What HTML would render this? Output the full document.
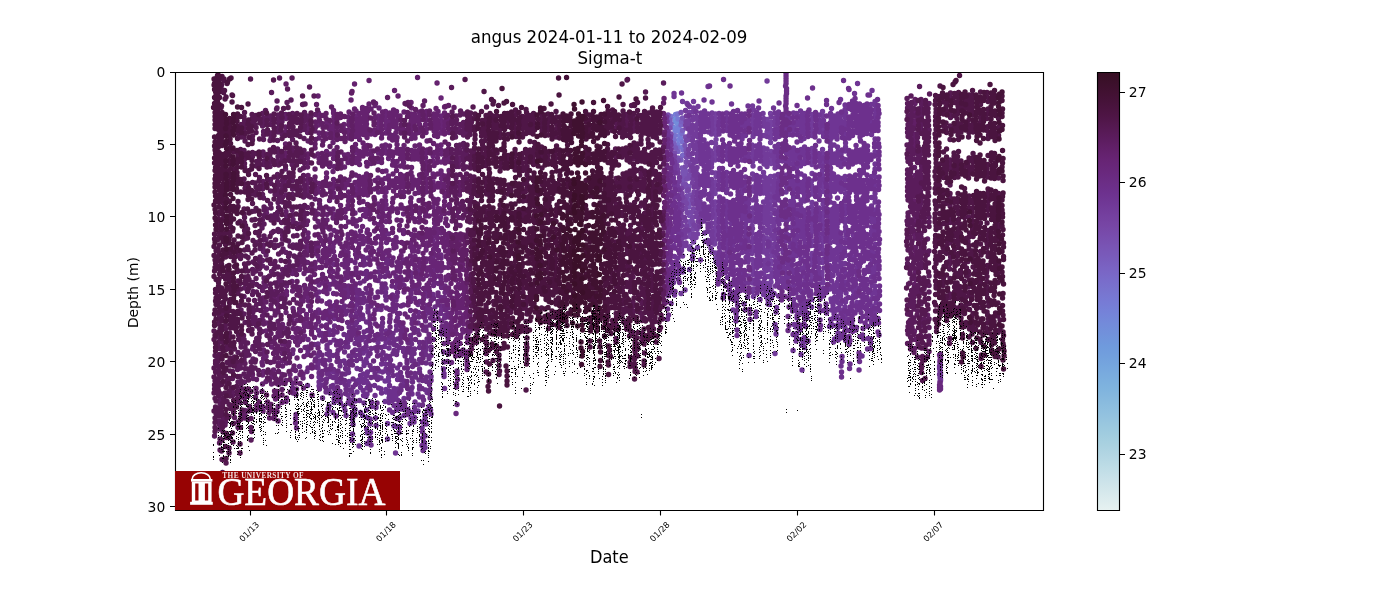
<!DOCTYPE html>
<html><head><meta charset="utf-8"><title>angus Sigma-t</title>
<style>html,body{margin:0;padding:0;background:#fff;overflow:hidden}svg{display:block}</style></head>
<body>
<svg width="1400" height="600" viewBox="0 0 1400 600">
<defs>
 <linearGradient id="cb" x1="0" y1="0" x2="0" y2="1"><stop offset="0.000" stop-color="#360e22"/><stop offset="0.025" stop-color="#3c102b"/><stop offset="0.050" stop-color="#421133"/><stop offset="0.075" stop-color="#48133c"/><stop offset="0.100" stop-color="#4e1545"/><stop offset="0.125" stop-color="#551951"/><stop offset="0.150" stop-color="#5b1c5d"/><stop offset="0.175" stop-color="#622069"/><stop offset="0.200" stop-color="#672474"/><stop offset="0.225" stop-color="#69287c"/><stop offset="0.250" stop-color="#6b2d85"/><stop offset="0.275" stop-color="#6d318e"/><stop offset="0.300" stop-color="#703896"/><stop offset="0.325" stop-color="#743f9e"/><stop offset="0.350" stop-color="#7746a5"/><stop offset="0.375" stop-color="#784dad"/><stop offset="0.400" stop-color="#7955b5"/><stop offset="0.425" stop-color="#795cbc"/><stop offset="0.450" stop-color="#7a64c4"/><stop offset="0.475" stop-color="#796cca"/><stop offset="0.500" stop-color="#7874cf"/><stop offset="0.525" stop-color="#777bd5"/><stop offset="0.550" stop-color="#7583d9"/><stop offset="0.575" stop-color="#738bda"/><stop offset="0.600" stop-color="#7192db"/><stop offset="0.625" stop-color="#6f9add"/><stop offset="0.650" stop-color="#72a0dd"/><stop offset="0.675" stop-color="#76a7de"/><stop offset="0.700" stop-color="#7baede"/><stop offset="0.725" stop-color="#80b4de"/><stop offset="0.750" stop-color="#88bade"/><stop offset="0.775" stop-color="#90c0df"/><stop offset="0.800" stop-color="#98c6df"/><stop offset="0.825" stop-color="#a0ccdf"/><stop offset="0.850" stop-color="#a9d1e0"/><stop offset="0.875" stop-color="#b3d6e3"/><stop offset="0.900" stop-color="#bddce6"/><stop offset="0.925" stop-color="#c8e1e9"/><stop offset="0.950" stop-color="#d2e6eb"/><stop offset="0.975" stop-color="#dcecee"/><stop offset="1.000" stop-color="#e6f1f1"/></linearGradient>
 <clipPath id="ax"><rect x="175" y="72" width="868" height="438"/></clipPath>
</defs>
<rect width="1400" height="600" fill="#fff"/>
<rect x="1097" y="72" width="22" height="438" fill="url(#cb)"/>
<g clip-path="url(#ax)">
<g fill="none" stroke-width="5.3" stroke-linecap="round">
<path stroke="#7193dc" d="M675 119h.1"/>
<path stroke="#738dda" d="M675 122h.1m2.4 1.5h.1"/>
<path stroke="#7487d9" d="M674 127.5h.1"/>
<path stroke="#7681d8" d="M675.5 114.5h.1m-0.6 16h.1m3.4 -3h.1m-0.1 3.5h.1m0.9 4.5h.1m-1.1 4.5h.1"/>
<path stroke="#777ad4" d="M678 144.5h.1m-0.1 -25.5h.1m2.9 19.5h.1"/>
<path stroke="#7874cf" d="M671 116.5h.1m6.4 -2.5h.1m-2.6 21.5h.1m6.9 12h.1"/>
<path stroke="#796dcb" d="M674 140h.1m3.4 7.5h.1m4.4 -14h.1m0.4 8.5h.1m0.4 8h.1"/>
<path stroke="#7a67c6" d="M681 125h.1m1.4 30.5h.1"/>
<path stroke="#7a60c0" d="M671 124h.1m2.9 20h.1m7.4 -22.5h.1m-3.6 30h.1m4.4 -21h.1"/>
<path stroke="#795aba" d="M670 120h.1m5.4 28h.1m5.4 12h.1"/>
<path stroke="#7954b3" d="M678 158h.1m3.9 10h.1m0.4 -50h.1m2.4 27.5h.1m0.9 26h.1m-3.1 0.5h.1m2.9 3h.1m-3.1 0.5h.1m-0.1 5h.1m2.9 -30.5h.1m2.9 36.5h.1m-0.1 13.5h.1m-0.1 3.5h.1m-0.1 3.5h.1"/>
<path stroke="#784dad" d="M668 115h.1m1.9 13h.1m0.9 6h.1m3.4 19h.1m3.4 7.5h.1m2.9 -48h.1m4.4 24.5h.1m-0.1 29.5h.1m-0.1 18h.1m-2.6 0.5h.1m3.4 -32h.1m-0.1 4.5h.1m-0.6 4.5h.1m3.4 13h.1m-0.1 3h.1m-3.1 1h.1m-0.1 8.5h.1m0.4 3.5h.1m-0.6 5.5h.1m2.9 19h.1m0.4 6h.1m-0.6 3.5h.1m0.9 -30h.1m-0.6 17.5h.1"/>
<path stroke="#7747a6" d="M686 128h.1m-1.1 72h.1m-2.1 2h.1m2.4 6.5h.1m3.4 -69h.1m-2.6 1h.1m2.9 16h.1m-0.6 6h.1m-0.6 27.5h.1m-2.1 13.5h.1m0.4 9h.1m2.4 19.5h.1m0.4 14.5h.1m0.4 -76h.1m1.9 30h.1m0.9 8.5h.1m-1.1 3h.1m-0.1 5.5h.1m-0.1 4.5h.1m0.4 7h.1m-3.1 7.5h.1"/>
<path stroke="#7541a0" d="M674.5 156.5h.1m2.4 9h.1m0.4 4h.1m3.9 19h.1m0.4 5h.1m3.9 -72h.1m-0.6 3.5h.1m-3.1 72.5h.1m2.9 23.5h.1m3.9 -114.5h.1m-0.1 6h.1m-0.6 8h.1m0.4 4h.1m0.4 8h.1m-1.1 3h.1m-0.6 14h.1m-0.1 5h.1m-2.1 71.5h.1m2.9 23h.1m-0.1 20.5h.1m0.9 -124h.1m-0.1 20h.1m2.4 13.5h.1m-0.6 4h.1m0.4 14h.1m0.4 7h.1m-0.1 30h.1m-1.1 4.5h.1m0.9 3.5h.1m0.4 -50h.1m2.4 21h.1m-0.1 3.5h.1m-2.6 8.5h.1m2.4 1.5h.1m0.4 2.5h.1m0.4 5h.1m-1.6 3.5h.1m1.4 10h.1m17.9 -133.5h.1m-0.6 4.5h.1m0.4 4h.1m-0.1 5h.1m-0.1 3.5h.1m0.4 4h.1m-0.1 4.5h.1m-0.6 4h.1m-0.1 4.5h.1m-0.1 4.5h.1m-0.6 3.5h.1m-0.1 4h.1m0.4 13h.1m0.4 3.5h.1m-1.1 5.5h.1m-0.1 3.5h.1m0.4 4.5h.1m-0.6 3.5h.1m-0.1 8.5h.1m0.4 5h.1m-0.6 3.5h.1m0.4 4h.1m0.4 4.5h.1m-0.6 4h.1m-0.6 5h.1m0.9 4h.1m-1.1 3.5h.1m-0.1 5h.1m-0.6 3.5h.1m0.9 9h.1m0.4 4h.1m-0.1 5h.1m50.9 -142.5h.1m-0.1 12.5h.1m-0.6 106h.1m0.4 45.5h.1m3.4 -170h.1m0.4 8.5h.1m-0.6 3.5h.1m0.4 4.5h.1m-0.1 4.5h.1m-0.6 3.5h.1m-0.1 4.5h.1m0.4 9h.1m-0.6 8.5h.1m0.4 3.5h.1m-0.6 13h.1m0.4 8.5h.1m-0.6 8h.1m-0.1 8h.1m-0.1 5h.1m-0.1 8h.1m0.4 13h.1m-0.6 3.5h.1m0.4 8.5h.1m-0.1 16.5h.1m-0.1 5.5h.1m-0.1 3h.1m-0.6 5.5h.1m0.4 12.5h.1m-0.1 12h.1"/>
<path stroke="#723b9a" d="M387.5 423.5h.1m-0.1 15.5h.1m282.9 -302h.1m0.4 8h.1m3.4 16.5h.1m-0.1 4h.1m-0.1 3h.1m2.9 17h.1m0.4 -12.5h.1m1.4 4.5h.1m-0.6 4h.1m2.9 24h.1m-0.6 5h.1m-0.6 3.5h.1m0.4 3.5h.1m-0.6 5h.1m0.4 3h.1m-0.1 5.5h.1m-0.1 17h.1m-0.1 2.5h.1m-0.6 43h.1m1.4 -192h.1m2.9 9h.1m-1.1 107h.1m0.4 12.5h.1m-0.1 4.5h.1m0.4 2.5h.1m-3.6 1h.1m3.9 5h.1m-3.6 0h.1m2.9 2.5h.1m-3.1 10.5h.1m0.4 13h.1m-0.6 3h.1m2.4 18h.1m1.9 -186.5h.1m-0.6 12.5h.1m1.9 13h.1m-0.1 101h.1m4.9 -128.5h.1m-0.1 6.5h.1m-0.1 3.5h.1m-0.6 5.5h.1m-0.6 3h.1m-0.1 5.5h.1m-0.6 2.5h.1m-0.1 4.5h.1m0.9 4.5h.1m-0.6 3.5h.1m0.9 5h.1m0.4 3.5h.1m-1.6 4.5h.1m-0.1 6h.1m-0.1 7.5h.1m0.4 4h.1m0.9 4h.1m-1.6 75h.1m-0.1 6h.1m-0.1 3h.1m5.4 -152.5h.1m-1.6 10h.1m0.4 3h.1m-0.1 5h.1m-0.6 4.5h.1m-0.1 4.5h.1m1.4 3.5h.1m-1.1 5.5h.1m-0.1 3.5h.1m-0.6 3h.1m0.4 5h.1m0.4 3.5h.1m-1.1 4h.1m-2.6 1h.1m2.9 5h.1m-1.1 3h.1m1.4 4h.1m-0.6 5h.1m-0.1 3.5h.1m-3.1 4h.1m3.9 0.5h.1m-0.6 5h.1m-0.6 3h.1m-0.6 4.5h.1m0.4 4.5h.1m0.9 4h.1m-0.1 13h.1m1.9 -20h.1m0.4 3.5h.1m-0.1 5h.1m-0.6 8h.1m-0.1 8.5h.1m0.4 33.5h.1m11.4 -147h.1m-0.6 4.5h.1m-0.1 3.5h.1m-0.1 4h.1m0.4 4.5h.1m-0.6 4.5h.1m-0.1 8.5h.1m-0.6 8.5h.1m0.4 3.5h.1m0.4 5h.1m-0.6 4h.1m-0.1 3.5h.1m0.4 5.5h.1m-0.6 7h.1m-0.1 5h.1m0.4 4.5h.1m-0.6 3.5h.1m-0.1 4.5h.1m-0.1 4.5h.1m0.4 3.5h.1m-0.6 5h.1m0.9 4.5h.1m-1.1 3h.1m-0.1 5.5h.1m-0.6 3.5h.1m0.9 5h.1m-0.6 3.5h.1m0.9 3.5h.1m-1.6 4h.1m-0.1 6h.1m0.9 3.5h.1m40.4 -146h.1m-0.6 4h.1m1.4 0h.1m-1.1 5.5h.1m-0.1 4.5h.1m-0.1 4.5h.1m-0.1 3.5h.1m0.4 5h.1m-0.1 3.5h.1m-1.1 8.5h.1m-0.1 4h.1m0.4 4.5h.1m-0.1 4h.1m-0.1 4h.1m0.4 4.5h.1m-0.6 8h.1m0.4 5h.1m-0.6 8h.1m-0.1 4h.1m-0.1 9h.1m0.4 8h.1m-0.6 5h.1m-0.6 4h.1m0.4 3.5h.1m-0.6 5h.1m0.4 3h.1m-0.6 4.5h.1m0.9 5h.1m-1.1 4h.1m0.9 5h.1m-1.1 2.5h.1m-0.1 4h.1m-0.1 6h.1m1.4 4h.1m-0.6 4h.1m-0.6 3h.1m0.4 4h.1m-1.1 5.5h.1m0.4 3h.1m0.9 6h.1m-1.1 2.5h.1m0.9 5h.1m9.4 -183h.1m0.4 5h.1m-0.1 4h.1m0.4 3.5h.1m-0.6 9.5h.1m-0.1 12.5h.1m-0.6 3.5h.1m0.9 4.5h.1m-0.6 4h.1m0.4 4h.1m-0.6 8.5h.1m0.4 4h.1m-0.1 5h.1m-0.1 3.5h.1m-0.6 4h.1m-0.1 4h.1m-0.1 9h.1m0.4 5h.1m-0.6 3h.1m-0.6 4.5h.1m0.4 4.5h.1m0.4 3.5h.1m-1.1 5.5h.1m0.9 3h.1m-1.1 5.5h.1m0.4 3h.1m-0.1 4.5h.1m-0.6 4.5h.1m0.4 3.5h.1m0.4 8.5h.1m-0.1 4.5h.1m0.4 4h.1m-1.1 5h.1m-0.1 8.5h.1m0.4 4h.1m-0.6 8h.1m3.4 -213.5h.1m0.4 43.5h.1m-0.1 4h.1m-0.6 8h.1m-0.1 12.5h.1m0.4 5h.1m-0.6 4h.1m0.4 4h.1m-0.6 4.5h.1m0.4 12h.1m-0.1 4.5h.1m-0.1 3.5h.1m-0.6 4.5h.1m0.4 4h.1m-0.6 4h.1m0.9 5h.1m-1.1 4h.1m0.4 4.5h.1m-0.1 4.5h.1m-0.1 3h.1m-0.1 4.5h.1m0.4 5h.1m-0.6 3.5h.1m-0.6 17.5h.1m-0.1 4h.1m0.4 4.5h.1m0.4 9h.1m-1.6 2.5h.1m1.4 6h.1m1.9 9h.1m-2.6 1.5h.1m-0.6 4h.1m-0.6 6h.1m1.4 3h.1m1.4 4.5h.1m1.4 -187.5h.1m0.4 38.5h.1m-0.1 25.5h.1m-0.6 8h.1m0.4 8h.1m-0.1 12h.1m-0.6 9.5h.1m0.4 3h.1m-0.1 13.5h.1m-1.6 8.5h.1m0.9 4h.1m0.4 3.5h.1m0.4 22.5h.1m-1.1 4h.1m-0.1 12h.1m0.4 8.5h.1m3.4 -180h.1m-0.1 3.5h.1m-0.1 4h.1m-0.6 30h.1m-0.1 4.5h.1m0.4 4h.1m-0.1 4h.1m-0.6 8h.1m0.4 4.5h.1m-0.6 4.5h.1m0.4 3.5h.1m-0.6 4h.1m-0.1 9h.1m-0.1 9h.1m0.9 8.5h.1m-0.6 3h.1m-1.1 4h.1m0.4 9h.1m-0.1 4h.1m0.4 5h.1m-0.6 3h.1m0.4 9.5h.1m-1.1 37h.1m0.9 60h.1m36.9 -239h.1m-0.1 4.5h.1m-0.6 4h.1m-0.1 3.5h.1m0.4 4.5h.1m-0.1 4.5h.1m-0.1 13h.1m-0.1 3h.1m-0.6 4.5h.1m0.4 5h.1m-0.1 3.5h.1m-0.1 9h.1m-0.6 7.5h.1m-0.1 4.5h.1m0.9 4h.1m-0.6 4.5h.1m-0.1 8.5h.1m-0.6 4.5h.1m0.9 4.5h.1m-0.1 3h.1m-0.6 8.5h.1m-0.1 4.5h.1m-0.1 4h.1m-0.1 9.5h.1m-0.6 4.5h.1m0.4 8h.1m-0.6 4h.1m0.4 3h.1m-0.6 4.5h.1m-0.1 8.5h.1m0.4 4h.1m-0.1 22h.1m-0.6 7.5h.1m10.9 -195.5h.1m-0.1 4h.1m0.4 13.5h.1m-0.6 20.5h.1m0.4 4.5h.1m-0.1 8.5h.1m-0.6 8h.1m-0.1 5h.1m-0.1 7.5h.1m0.4 4h.1m-0.1 4.5h.1m-0.1 12.5h.1m-0.1 9h.1m-0.6 4.5h.1m0.4 4h.1m-0.1 3.5h.1m-0.1 4h.1m-1.1 8.5h.1m0.9 4.5h.1m-1.1 4.5h.1m0.9 3.5h.1m-0.1 9.5h.1m-0.6 3h.1m-0.6 10h.1m-0.1 3h.1m0.4 4.5h.1m0.4 3h.1m0.4 27.5h.1"/>
<path stroke="#6f3594" d="M357 392h.1m-2.1 17.5h.1m-0.1 5.5h.1m3.9 31h.1m3.4 -30.5h.1m3.9 -5.5h.1m0.4 7.5h.1m-0.6 11.5h.1m0.9 4h.1m-0.6 10.5h.1m17.9 -62.5h.1m0.9 8.5h.1m-0.1 2.5h.1m-1.1 9.5h.1m3.4 -24h.1m-0.1 3.5h.1m6.9 15.5h.1m-1.6 29.5h.1m2.4 0.5h.1m-1.1 26.5h.1m8.4 -43.5h.1m-0.1 6h.1m6.9 2.5h.1m-1.1 5.5h.1m7.9 -12.5h.1m0.9 -6h.1m5.9 31h.1m-0.6 7.5h.1m0.4 4h.1m241.4 -330.5h.1m0.4 4.5h.1m0.9 10h.1m-0.1 4h.1m2.4 6h.1m0.4 8h.1m2.4 28.5h.1m-0.1 59h.1m0.4 8.5h.1m-0.6 21h.1m-0.1 7.5h.1m-0.1 3.5h.1m-0.1 5h.1m0.4 -189h.1m-0.1 3h.1m0.9 76.5h.1m-0.6 12.5h.1m3.4 10h.1m-4.1 2h.1m3.9 10h.1m-0.1 25h.1m-3.6 24h.1m3.4 1.5h.1m-0.6 5h.1m0.4 11h.1m-3.6 21h.1m6.9 -202h.1m-2.6 97h.1m-0.1 9h.1m-0.1 5h.1m1.9 30.5h.1m6.9 -129.5h.1m0.9 10.5h.1m6.9 -4h.1m4.9 1.5h.1m-0.1 4h.1m-0.6 4.5h.1m0.4 4h.1m-0.6 4h.1m-0.1 5h.1m-0.1 3.5h.1m-0.6 4.5h.1m0.4 4h.1m-0.1 4h.1m0.4 4.5h.1m-0.6 4h.1m0.4 4.5h.1m-0.6 13h.1m-0.1 4h.1m-0.1 4h.1m0.4 8h.1m-0.6 4.5h.1m0.4 17h.1m-0.1 8h.1m2.9 -122h.1m0.4 11h.1m-0.1 4.5h.1m-0.1 3.5h.1m-0.6 4.5h.1m-0.1 4.5h.1m0.4 3.5h.1m-0.6 8.5h.1m0.4 5h.1m-0.6 3.5h.1m0.4 5h.1m0.4 4.5h.1m-1.1 3h.1m-0.1 5h.1m-0.1 4.5h.1m-0.1 4h.1m0.4 4.5h.1m-0.1 3h.1m-0.1 4.5h.1m-0.1 4h.1m-0.6 4.5h.1m-0.1 9h.1m-0.1 3.5h.1m0.4 4.5h.1m-0.6 4h.1m-0.1 5h.1m0.4 12h.1m0.4 8.5h.1m2.9 -155h.1m-0.1 27.5h.1m-0.6 5.5h.1m0.4 3.5h.1m-0.1 3.5h.1m0.4 5.5h.1m-1.1 12h.1m0.4 4.5h.1m-0.1 4h.1m0.4 4h.1m-0.6 5h.1m-0.1 3.5h.1m0.4 4h.1m-1.1 5h.1m-0.1 4h.1m0.9 3.5h.1m-0.1 4h.1m-0.1 9h.1m-0.1 4.5h.1m-0.1 8h.1m-0.6 3.5h.1m0.4 5h.1m-0.6 3.5h.1m-0.1 5.5h.1m-0.1 3h.1m-0.6 4h.1m0.4 9h.1m0.9 3.5h.1m2.9 -142h.1m6.9 11.5h.1m0.4 4.5h.1m-0.6 4h.1m-0.6 3.5h.1m0.4 4.5h.1m-0.1 4h.1m-0.1 13.5h.1m-0.6 3.5h.1m0.4 3.5h.1m-0.1 5h.1m0.4 9h.1m-0.6 4h.1m-0.1 4h.1m0.4 4h.1m-1.1 4.5h.1m0.4 4h.1m0.4 8h.1m-0.6 4.5h.1m-0.1 4.5h.1m-0.6 4.5h.1m0.9 4h.1m-0.1 4h.1m-0.6 3.5h.1m-0.6 5h.1m0.9 3.5h.1m-1.1 4.5h.1m0.4 4h.1m0.9 5h.1m-0.6 3.5h.1m-0.1 4.5h.1m-1.1 3.5h.1m0.4 4.5h.1m-0.6 4.5h.1m7.9 -151.5h.1m-0.1 5h.1m0.4 3h.1m-0.6 5h.1m0.4 4.5h.1m-0.6 16h.1m0.4 4.5h.1m-0.6 4.5h.1m0.4 3.5h.1m-0.6 13.5h.1m-0.6 3.5h.1m0.9 4.5h.1m-1.1 4h.1m0.9 4.5h.1m-0.6 3.5h.1m-0.1 9h.1m-0.1 4h.1m0.4 4h.1m-0.6 4h.1m0.4 4.5h.1m-1.1 4.5h.1m-0.1 4.5h.1m-0.1 4.5h.1m1.4 7.5h.1m-0.6 4h.1m-0.6 4.5h.1m0.4 4h.1m-0.6 5h.1m-0.1 4.5h.1m-0.1 8.5h.1m0.9 8h.1m3.9 -173.5h.1m-0.6 119.5h.1m1.9 14.5h.1m-0.1 7.5h.1m-0.1 22h.1m-2.1 18h.1m1.9 24.5h.1m8.4 -184h.1m0.4 9h.1m-0.1 4h.1m-0.1 21h.1m-0.1 29h.1m-0.6 4.5h.1m-0.1 21h.1m0.4 4.5h.1m-0.6 25.5h.1m0.4 42.5h.1m3.4 -164.5h.1m-0.1 4.5h.1m-0.1 8.5h.1m-0.1 21h.1m-0.1 20.5h.1m-0.6 9h.1m-0.1 16.5h.1m0.4 12.5h.1m-0.1 4h.1m-0.1 5h.1m-0.1 3.5h.1m-0.1 5h.1m-0.6 4h.1m0.9 15.5h.1m-4.1 0.5h.1m3.9 5h.1m-3.6 15.5h.1m2.9 10h.1m-1.6 21h.1m3.9 -198h.1m0.4 14h.1m-0.1 4h.1m-0.1 30h.1m-0.6 4h.1m0.4 41h.1m-0.1 4.5h.1m-0.1 4.5h.1m-0.1 4h.1m0.4 8.5h.1m-1.1 17h.1m0.4 3.5h.1m0.4 9h.1m-1.1 4.5h.1m-0.1 3.5h.1m-0.1 4h.1m0.4 14h.1m-0.6 7h.1m-0.6 14h.1m1.4 58.5h.1m7.4 -243h.1m-0.6 4h.1m-0.1 5h.1m-0.1 3.5h.1m-0.6 4h.1m0.4 4.5h.1m-0.1 12.5h.1m0.4 5h.1m-0.1 4h.1m-0.6 3.5h.1m0.4 17h.1m-0.1 5h.1m-0.6 3.5h.1m-0.1 4h.1m-0.1 5h.1m-0.6 4h.1m0.4 3.5h.1m0.4 4.5h.1m-0.6 4h.1m0.4 4.5h.1m-0.1 4h.1m-1.1 4h.1m0.9 13h.1m-0.6 4.5h.1m0.4 3.5h.1m0.4 4h.1m-1.1 4.5h.1m0.9 4h.1m-0.6 5h.1m-0.1 4h.1m0.4 3.5h.1m-0.6 5.5h.1m0.4 4h.1m-1.1 2.5h.1m-0.6 4.5h.1m0.4 28h.1m-0.1 4.5h.1m2.9 -215.5h.1m-0.6 7h.1m0.9 6.5h.1m-0.1 3.5h.1m-0.1 4.5h.1m0.4 4h.1m-0.1 5h.1m-0.1 3.5h.1m-0.1 4h.1m-0.6 5h.1m0.4 3.5h.1m-0.1 4h.1m0.4 4.5h.1m-0.1 5h.1m-0.6 7.5h.1m-0.1 8.5h.1m-0.6 4h.1m0.4 5h.1m-0.1 3.5h.1m-0.1 4h.1m0.4 13.5h.1m-0.6 3.5h.1m-0.1 5h.1m-0.1 3.5h.1m-0.1 4.5h.1m0.4 4h.1m-1.1 5h.1m0.9 3h.1m-1.1 4.5h.1m0.4 5h.1m-0.1 3.5h.1m-0.6 4h.1m-0.1 4.5h.1m0.9 3.5h.1m-0.1 5h.1m0.4 7.5h.1m-1.6 4h.1m-0.6 5.5h.1m0.4 3h.1m0.9 4.5h.1m-0.6 9.5h.1m4.4 -21h.1m-0.1 11h.1m3.4 -47.5h.1m-0.1 4h.1m-0.1 17.5h.1m-0.1 40.5h.1m5.4 -196h.1m0.4 144h.1m0.9 -139h.1m2.9 6.5h.1m-3.1 10.5h.1m-0.1 4h.1m-0.1 5h.1m-0.1 7.5h.1m-0.1 5h.1m2.9 23h.1m-0.1 17h.1m-3.1 5.5h.1m-0.1 8h.1m-0.1 8.5h.1m2.9 7h.1m-3.1 10h.1m2.4 16h.1m-0.1 8h.1m-2.1 6.5h.1m-0.1 4.5h.1m-0.6 2.5h.1m0.4 4h.1m-0.1 4.5h.1m1.9 3.5h.1m-0.1 3.5h.1m-2.1 2.5h.1m0.9 21.5h.1m-0.6 4.5h.1m-1.1 12.5h.1m0.9 4.5h.1m-0.1 5h.1m2.4 -222h.1m-0.6 4h.1m-0.1 7.5h.1m0.4 5h.1m-0.1 4h.1m0.4 4h.1m-0.6 8h.1m-0.6 4h.1m0.4 4.5h.1m-0.1 4h.1m-0.6 4.5h.1m0.4 5h.1m0.4 12h.1m-0.6 4.5h.1m-0.1 4h.1m-0.6 8.5h.1m0.4 4.5h.1m0.4 8h.1m-0.6 4h.1m-0.1 4.5h.1m0.4 7.5h.1m-0.6 5h.1m-0.1 9h.1m-0.6 11.5h.1m0.4 13h.1m-0.1 8h.1m0.4 4.5h.1m-0.6 21h.1m3.9 -135h.1m-0.1 58.5h.1m0.4 30h.1m-0.1 3h.1m-0.6 13.5h.1m-0.1 2.5h.1m2.4 3.5h.1m-2.6 6.5h.1m-0.1 3.5h.1m0.4 4.5h.1m2.9 -170.5h.1m3.4 2h.1m-3.6 10.5h.1m3.4 6h.1m-0.1 17h.1m-3.1 2h.1m3.4 1.5h.1m-0.1 4.5h.1m-3.6 3h.1m2.9 1h.1m-3.1 11.5h.1m2.9 10h.1m-3.1 2h.1m-0.6 5h.1m3.9 9.5h.1m-0.1 4.5h.1m-4.1 2.5h.1m3.4 10.5h.1m-3.1 2.5h.1m2.9 6h.1m-3.1 6.5h.1m-0.6 7h.1m0.4 21.5h.1m3.4 1.5h.1m-3.1 3.5h.1m-0.6 7.5h.1m2.9 2h.1m-3.6 2.5h.1m0.9 4h.1m2.4 3h.1m-3.1 1h.1m6.9 -174.5h.1m-3.6 13h.1m3.4 0.5h.1m-0.1 4h.1m-0.1 17.5h.1m-0.1 4h.1m-0.1 4h.1m-0.1 3.5h.1m-0.1 5h.1m-3.6 16h.1m3.4 1h.1m-0.1 3.5h.1m-0.1 4.5h.1m-0.1 8h.1m-0.1 4.5h.1m-0.1 4h.1m0.4 20.5h.1m-4.1 9h.1m3.9 4h.1m-3.6 3.5h.1m-0.6 4h.1m3.4 5.5h.1m-3.6 3.5h.1m3.9 0h.1m-3.6 12.5h.1m2.9 1.5h.1m-0.1 2.5h.1m0.4 13h.1m-4.1 8.5h.1m3.4 5.5h.1m-0.6 51h.1m3.4 -237h.1m-0.1 8.5h.1m-0.1 3h.1m0.4 30.5h.1m-0.6 3.5h.1m-0.1 9h.1m-0.1 17h.1m-0.1 25h.1m-0.1 8h.1m-0.1 4.5h.1m-0.1 4.5h.1m-0.1 8.5h.1m-0.1 3.5h.1m-0.6 5h.1m0.4 2.5h.1m-0.1 9h.1m-0.6 37.5h.1m-2.1 10.5h.1m1.9 7h.1m-2.1 14h.1m1.9 2.5h.1m0.4 6.5h.1m-0.1 4h.1m-0.6 3.5h.1m4.4 -230h.1m0.4 5h.1m-0.1 4h.1m-0.6 3.5h.1m0.4 4.5h.1m-0.1 4.5h.1m-0.1 8h.1m-0.1 9h.1m-0.1 4h.1m-0.6 8h.1m-0.1 4.5h.1m0.4 8h.1m-0.1 8.5h.1m-0.6 4.5h.1m0.4 4.5h.1m-0.1 8.5h.1m-0.6 4h.1m0.4 4h.1m-0.6 4h.1m-0.1 9h.1m0.4 4.5h.1m-0.6 3.5h.1m0.4 4.5h.1m0.4 3.5h.1m-0.6 22h.1m0.4 9h.1m-0.6 2h.1m-0.1 14h.1m0.4 7.5h.1m-1.1 5.5h.1m0.9 7h.1m-0.1 4.5h.1m-1.1 4.5h.1m-0.1 12.5h.1m0.9 14h.1m-0.1 5.5h.1m-0.6 9.5h.1m0.9 15.5h.1m1.9 -256.5h.1m0.9 3.5h.1m-0.6 4.5h.1m-0.1 4h.1m-0.1 4h.1m-0.1 4h.1m-0.6 5h.1m0.4 8.5h.1m-0.1 4h.1m-0.1 4.5h.1m0.4 3.5h.1m-0.6 4.5h.1m-0.1 12.5h.1m-0.1 4.5h.1m-0.1 4h.1m-0.1 4.5h.1m-0.6 4.5h.1m0.4 3h.1m-0.1 4.5h.1m-0.6 9.5h.1m0.4 3.5h.1m-0.1 3.5h.1m-0.6 4h.1m0.4 4.5h.1m-0.1 4.5h.1m-0.1 5h.1m-0.1 4h.1m0.4 4.5h.1m-0.1 11.5h.1m-0.1 8.5h.1m-0.1 4h.1m-1.1 8.5h.1m0.9 5h.1m-0.1 7.5h.1m-0.6 12.5h.1m0.9 5h.1m-0.6 4h.1m-0.6 8h.1m0.9 8h.1m-1.1 11h.1m-0.1 4.5h.1m-0.1 5.5h.1m6.4 -111.5h.1m-0.1 45.5h.1m-0.6 9.5h.1m0.4 3.5h.1m7.9 -179.5h.1m0.4 5h.1m-0.6 3.5h.1m-0.1 4.5h.1m0.4 4h.1m-0.6 9h.1m-0.1 12.5h.1m-0.1 3.5h.1m0.4 4h.1m-0.1 5h.1m-0.6 12.5h.1m0.4 4.5h.1m-0.6 3.5h.1m-0.1 4.5h.1m0.4 4h.1m-0.6 13h.1m-0.1 4.5h.1m0.4 3.5h.1m-0.6 4h.1m-0.6 13.5h.1m-0.1 4h.1m0.4 3h.1m0.4 5.5h.1m-1.1 3h.1m-0.1 9.5h.1m0.4 4h.1m-0.6 5h.1m-0.1 3.5h.1m-0.1 4.5h.1m0.4 8.5h.1m-0.1 11h.1m4.4 -174.5h.1m-0.6 4.5h.1m0.4 8.5h.1m-0.1 3h.1m-0.1 21.5h.1m-0.6 8.5h.1m0.4 13h.1m-0.1 21h.1m-0.1 8h.1m-0.6 25h.1m0.4 20.5h.1m0.4 14h.1m-0.6 20.5h.1m-0.1 3.5h.1m-0.1 4h.1m6.4 -153.5h.1m-0.1 21.5h.1m-0.1 16h.1m-0.1 17h.1m-0.1 5h.1m-0.1 8h.1m-0.6 29h.1m0.4 4h.1m-0.1 13h.1m-0.1 3.5h.1m-0.6 6h.1m-0.1 8h.1m-0.1 4h.1m0.4 11.5h.1m-0.6 37.5h.1m1.9 -218h.1m-1.1 5h.1m3.4 2.5h.1m-3.1 2h.1m-0.6 4.5h.1m3.4 2h.1m-3.6 1.5h.1m-0.1 4h.1m3.4 2.5h.1m-3.6 2h.1m2.9 2h.1m-2.6 2h.1m2.9 6.5h.1m-3.6 2h.1m-0.1 3.5h.1m-0.1 5h.1m2.9 3h.1m-3.1 1.5h.1m-0.1 8h.1m0.4 4.5h.1m2.4 1.5h.1m-3.6 2.5h.1m0.4 8h.1m3.4 2.5h.1m-3.6 2h.1m-0.6 3.5h.1m3.4 16h.1m-0.1 3.5h.1m-3.6 2.5h.1m-0.1 3.5h.1m0.9 4h.1m-0.1 5h.1m-0.6 4h.1m-0.1 4.5h.1m-0.6 13h.1m0.9 4h.1m2.4 2.5h.1m-0.1 12.5h.1m-2.6 1h.1m1.9 7h.1m-1.6 5.5h.1m-1.6 5.5h.1m0.9 12.5h.1m0.4 3h.1m1.4 3.5h.1m0.4 3h.1m-2.1 1.5h.1m2.4 4h.1m-1.1 4.5h.1m-2.6 1h.1m0.4 4h.1m1.9 2h.1m0.4 16.5h.1m3.9 -223.5h.1m-3.1 1h.1m2.4 3h.1m0.4 4h.1m-3.6 1.5h.1m3.9 2.5h.1m-1.1 4.5h.1m-0.1 4h.1m0.4 8h.1m-3.1 7h.1m2.9 2h.1m-0.1 4.5h.1m-3.6 2h.1m3.9 14.5h.1m-4.1 1.5h.1m3.4 2.5h.1m-3.1 2.5h.1m3.4 5.5h.1m-3.6 2.5h.1m2.9 6.5h.1m-3.6 5.5h.1m3.4 3h.1m-0.1 4.5h.1m0.4 4h.1m-3.6 1.5h.1m-0.1 4.5h.1m-0.1 4.5h.1m2.4 1.5h.1m-2.6 2.5h.1m-0.6 4.5h.1m3.9 2h.1m-3.6 1.5h.1m3.4 2h.1m-3.6 2h.1m2.9 7h.1m-3.1 2h.1m2.9 2.5h.1m-3.1 6h.1m3.4 1h.1m-3.6 3h.1m2.9 3h.1m-0.6 4h.1m-2.6 1h.1m2.4 11.5h.1m-2.6 2.5h.1m-0.1 3.5h.1m-0.1 3.5h.1m-0.1 5.5h.1m2.9 0.5h.1m-3.1 3h.1m2.4 9h.1m-0.1 6.5h.1m0.4 2.5h.1m0.4 8.5h.1m-1.1 9.5h.1m-2.6 2h.1m3.4 1h.1m2.4 -240.5h.1m-2.6 14.5h.1m2.9 1.5h.1m-0.1 5h.1m-0.1 3.5h.1m-3.1 27.5h.1m2.9 2.5h.1m-0.1 8h.1m-3.1 2.5h.1m2.9 2h.1m-0.1 12h.1m-3.1 7h.1m2.9 1.5h.1m-0.1 4.5h.1m-3.1 28h.1m-0.1 3.5h.1m-0.1 8.5h.1m2.9 6h.1m-3.1 6h.1m2.4 3h.1m0.4 4h.1m-2.6 7h.1m2.4 5.5h.1m-0.1 3.5h.1m-2.6 7.5h.1m-0.1 4.5h.1m-0.1 7h.1m0.4 5h.1m1.4 2h.1m-2.1 2h.1m1.9 1.5h.1m-2.6 6.5h.1m2.4 1.5h.1m-2.1 4h.1m2.4 2h.1m-3.1 14.5h.1m2.9 1h.1m-3.1 7.5h.1m2.4 1h.1m-0.1 4h.1m4.4 -233h.1m-0.1 4.5h.1m0.4 3.5h.1m-0.1 4.5h.1m-0.6 5h.1m0.4 3.5h.1m-0.1 8.5h.1m-0.1 8.5h.1m-0.1 4h.1m-0.6 4h.1m-0.1 8.5h.1m-0.1 17h.1m0.4 3.5h.1m-0.6 8.5h.1m0.4 5h.1m-0.1 4.5h.1m-0.1 8h.1m-0.1 4.5h.1m-0.1 3h.1m-0.6 5.5h.1m-0.1 3.5h.1m0.4 4.5h.1m-0.1 4h.1m0.4 4h.1m-0.1 4.5h.1m-1.1 8.5h.1m0.4 7.5h.1m-0.6 8h.1m-0.1 9h.1m-0.1 9.5h.1m0.9 3h.1m-0.1 14h.1m-0.6 3h.1m-0.6 5h.1m-0.1 8.5h.1m0.9 3.5h.1m-1.1 9h.1m0.4 12.5h.1m0.4 -47.5h.1m7.4 -57.5h.1m-0.1 22h.1m-0.1 33.5h.1m-0.1 4.5h.1m3.9 -212h.1m-3.1 10h.1m2.4 174h.1m-0.1 8h.1m-0.1 12.5h.1m-0.1 14.5h.1m-0.1 7h.1m14.9 -219h.1m-1.1 14h.1m-0.1 17.5h.1m0.4 12.5h.1m-0.1 42h.1m-0.1 21h.1m-0.1 8.5h.1m-0.1 12h.1m-0.1 3.5h.1m-0.1 5.5h.1m-0.1 4.5h.1m-0.1 3h.1m-0.1 17h.1m0.4 9h.1m-0.6 7h.1m0.4 4.5h.1m-0.6 5h.1m0.4 8.5h.1m-0.1 8h.1m-0.1 5h.1m-0.1 7.5h.1m-0.6 12.5h.1m-0.1 4h.1m3.4 -221h.1m0.4 4h.1m-0.6 4.5h.1m0.4 4h.1m-0.6 3.5h.1m-0.1 21.5h.1m-0.1 13h.1m-0.1 12h.1m-0.1 5h.1m0.4 8h.1m-0.6 8.5h.1m-0.1 8h.1m-0.1 4.5h.1m-0.1 4h.1m-0.1 8h.1m-0.1 9h.1m0.4 4.5h.1m-0.6 7.5h.1m0.4 13.5h.1m-0.6 8.5h.1m0.9 12h.1m-0.6 3.5h.1m-0.6 5h.1m-0.1 12.5h.1m-0.1 4.5h.1m0.9 3h.1m-0.1 9.5h.1m-1.1 8.5h.1m64.9 51h.1m-0.1 1h.1m0.4 1.5h.1m-1.1 1h.1m-0.1 1h.1m-0.1 1.5h.1m0.4 1h.1m-0.1 1.5h.1m-0.1 1h.1m0.4 1h.1m-1.1 1.5h.1m0.9 1h.1m-0.6 1.5h.1m-0.1 1h.1m0.4 1h.1m-0.1 1.5h.1m-0.6 1h.1"/>
<path stroke="#6d308d" d="M319 377h.1m-0.1 5h.1m-0.1 4h.1m10.4 -14h.1m-0.6 18.5h.1m0.9 2.5h.1m-1.1 13h.1m-1.1 3h.1m0.4 0.5h.1m-1.6 4.5h.1m5.9 -28.5h.1m0.9 17h.1m-1.1 10h.1m0.9 -40.5h.1m0.4 17h.1m-0.1 5h.1m-0.6 4.5h.1m5.9 0h.1m0.4 4.5h.1m3.4 -42h.1m-0.1 45.5h.1m0.9 4h.1m0.9 5h.1m2.9 -34h.1m-1.1 3.5h.1m-0.1 10h.1m0.9 4.5h.1m-1.1 3.5h.1m3.4 -12h.1m1.4 9h.1m-0.1 6.5h.1m-0.6 13h.1m0.4 5h.1m-0.6 9.5h.1m-0.6 6h.1m4.9 -71.5h.1m-0.6 12.5h.1m-1.1 20h.1m4.9 -25.5h.1m-1.1 4h.1m-0.6 3.5h.1m1.4 4.5h.1m-1.1 13h.1m0.9 12h.1m1.4 -73h.1m0.9 13.5h.1m0.9 9h.1m-0.1 3.5h.1m-0.6 8.5h.1m0.4 5.5h.1m-0.6 3h.1m-0.6 8h.1m0.4 5h.1m2.4 1h.1m-2.1 6.5h.1m2.4 -52h.1m1.4 5h.1m-2.1 3.5h.1m0.4 3h.1m0.9 9.5h.1m-0.6 3.5h.1m-0.6 5.5h.1m1.4 2.5h.1m-1.1 4.5h.1m-0.1 6h.1m2.4 47h.1m1.9 -39h.1m-0.1 4.5h.1m-1.6 12.5h.1m-0.1 5h.1m0.4 8.5h.1m-0.1 5.5h.1m0.4 7h.1m3.4 -59.5h.1m0.4 10h.1m0.9 12h.1m-0.6 10.5h.1m0.4 7.5h.1m1.9 -83h.1m3.4 21.5h.1m-2.6 7h.1m-1.1 6h.1m2.9 1h.1m-2.6 10h.1m2.4 1h.1m0.4 4h.1m4.4 -50.5h.1m-1.6 4h.1m0.9 12h.1m-0.1 5.5h.1m-3.1 8h.1m3.9 -41h.1m1.9 8.5h.1m0.4 8.5h.1m-3.1 21h.1m0.4 2h.1m1.9 2h.1m0.9 12.5h.1m-0.6 5.5h.1m0.4 4h.1m-0.6 3h.1m-0.1 4.5h.1m0.4 7.5h.1m4.4 -21.5h.1m-0.6 3.5h.1m-0.6 4.5h.1m-0.6 4h.1m1.4 5h.1m-1.6 7h.1m4.9 -44.5h.1m-0.1 7h.1m-0.1 4.5h.1m-0.1 9.5h.1m-0.1 5h.1m-0.1 6h.1m-0.1 5.5h.1m-1.1 4.5h.1m0.4 8.5h.1m3.9 -13h.1m-0.1 3.5h.1m-1.6 9h.1m-0.1 9h.1m-0.6 5.5h.1m4.9 -51.5h.1m-0.1 4.5h.1m-0.1 13h.1m6.9 -8h.1m0.9 3.5h.1m-1.1 18.5h.1m2.9 9.5h.1m3.9 -58h.1m-3.1 38h.1m-0.6 5.5h.1m-0.1 4h.1m-0.1 6h.1m3.4 -23.5h.1m1.4 3h.1m5.9 -7h.1m-0.6 25h.1m-0.1 3.5h.1m-2.6 3.5h.1m3.4 2h.1m-4.1 4h.1m0.4 4h.1m-0.1 6h.1m0.9 3.5h.1m-1.6 4h.1m0.9 5h.1m4.4 -137.5h.1m-0.6 79.5h.1m1.9 14h.1m-2.1 4h.1m3.9 -34h.1m-0.1 4h.1m-0.6 29.5h.1m0.4 4h.1m12.4 -45h.1m0.4 4.5h.1m-0.1 3h.1m0.4 12h.1m226.9 -229.5h.1m0.4 4h.1m-1.1 8h.1m0.4 8h.1m-0.1 13.5h.1m0.4 13h.1m-0.1 24h.1m-0.6 3.5h.1m-0.1 5h.1m-0.1 9h.1m-0.1 15.5h.1m-0.1 5.5h.1m-0.6 17h.1m-0.1 7h.1m-0.1 11.5h.1m3.4 -121.5h.1m0.4 7.5h.1m-0.6 3.5h.1m-0.1 9.5h.1m0.9 4.5h.1m-0.6 4.5h.1m-0.1 3.5h.1m-0.1 3.5h.1m-0.1 4h.1m0.4 4.5h.1m-1.1 4.5h.1m0.9 9h.1m-0.6 7.5h.1m0.4 14h.1m-0.1 9h.1m-0.6 20.5h.1m3.9 -79h.1m-1.1 2.5h.1m0.9 4.5h.1m-0.6 5h.1m-0.6 4.5h.1m-0.1 8h.1m0.9 4.5h.1m0.4 3.5h.1m-1.1 5.5h.1m0.9 3h.1m-1.1 12.5h.1m0.4 4h.1m-0.6 9.5h.1m0.9 3h.1m29.9 -196.5h.1m8.4 198h.1m3.9 -19h.1m-2.1 3.5h.1m-2.1 5h.1m0.9 2.5h.1m-1.1 4h.1m5.4 -200.5h.1m-1.1 34.5h.1m0.4 4.5h.1m-0.1 4h.1m-0.1 4h.1m-0.1 4.5h.1m-0.6 9h.1m0.9 4.5h.1m-1.1 3h.1m-0.1 4.5h.1m-0.1 4h.1m-0.1 5h.1m-0.1 7.5h.1m0.4 5h.1m-0.1 4h.1m-0.1 4.5h.1m-0.1 4h.1m-0.6 3.5h.1m0.4 9.5h.1m-0.6 3h.1m0.4 5h.1m-0.6 3.5h.1m-0.1 4.5h.1m-0.1 5h.1m-0.1 3h.1m0.4 4.5h.1m0.4 5h.1m2.4 3h.1m-2.6 1h.1m-0.1 3.5h.1m-0.6 4h.1m0.4 4h.1m-0.6 6h.1m-0.6 2.5h.1m-0.1 5h.1m2.9 3h.1m-2.6 5h.1m2.4 3h.1m-3.1 1h.1m0.4 8h.1m2.9 4.5h.1m-2.6 8.5h.1m-0.6 3.5h.1m6.9 -212h.1m-0.1 36.5h.1m-0.1 5h.1m-0.1 4h.1m-0.6 12h.1m0.4 9h.1m-0.1 63h.1m-0.6 74.5h.1m0.4 5h.1m3.4 -183.5h.1m-3.1 2.5h.1m2.9 2h.1m-3.1 2.5h.1m2.9 13.5h.1m-3.6 3h.1m3.4 1.5h.1m-3.1 12h.1m3.4 0.5h.1m-4.1 7.5h.1m-0.1 4.5h.1m3.9 1h.1m-3.6 2.5h.1m2.9 6h.1m-2.6 3h.1m-0.6 3.5h.1m-0.1 5h.1m2.9 1h.1m-2.6 3h.1m-0.6 8h.1m2.9 6.5h.1m-3.6 2h.1m3.4 2h.1m-3.1 2h.1m2.9 2h.1m-3.6 3h.1m3.4 5h.1m-3.1 2.5h.1m2.9 1.5h.1m-3.6 8h.1m-0.1 3.5h.1m0.4 4.5h.1m-0.1 4h.1m-0.6 3.5h.1m0.4 5h.1m3.4 1.5h.1m-0.6 5h.1m-3.1 1.5h.1m-0.1 4.5h.1m2.9 2h.1m-2.6 2.5h.1m-1.1 3h.1m3.4 2.5h.1m-3.1 2.5h.1m2.9 1h.1m-3.1 8.5h.1m-0.1 15h.1m2.9 1h.1m3.9 -189h.1m-0.1 5.5h.1m-0.6 3.5h.1m-2.6 0h.1m-0.6 4.5h.1m3.4 0.5h.1m-0.1 3.5h.1m-3.6 0h.1m3.9 4.5h.1m-0.1 4.5h.1m-3.6 4h.1m3.4 3.5h.1m-0.6 5h.1m0.4 4h.1m-4.1 0h.1m2.9 4h.1m-2.6 0.5h.1m2.9 3.5h.1m0.4 4.5h.1m-0.6 8.5h.1m-3.6 0.5h.1m3.4 3h.1m-3.6 0.5h.1m2.9 4.5h.1m0.4 4h.1m-3.6 0.5h.1m3.9 7.5h.1m-0.6 4h.1m0.4 5h.1m-0.6 4h.1m-3.1 4.5h.1m3.4 3.5h.1m-1.1 4.5h.1m-2.6 4h.1m2.9 0.5h.1m-0.6 4.5h.1m-3.1 0h.1m0.4 4h.1m2.4 0h.1m-0.1 3.5h.1m0.4 4h.1m-3.1 0.5h.1m2.9 5h.1m-0.1 3h.1m-3.6 8.5h.1m3.9 0.5h.1m-0.6 4h.1m-0.1 7.5h.1m-0.6 9.5h.1m-3.1 0.5h.1m0.4 4.5h.1m2.9 3.5h.1m-3.6 4.5h.1m3.4 0h.1m-3.6 4h.1m2.9 0.5h.1m-0.6 4h.1m0.9 4.5h.1m-0.6 5h.1m-1.1 3h.1m0.4 4h.1m-0.6 3.5h.1m0.9 9h.1m-0.1 5.5h.1m4.4 -221.5h.1m-0.6 3.5h.1m0.4 4.5h.1m-0.6 8h.1m-0.1 13.5h.1m-0.1 4h.1m-0.1 4.5h.1m-0.1 3.5h.1m-0.1 17h.1m-0.1 4h.1m-0.1 4h.1m0.4 4.5h.1m-3.6 6.5h.1m3.4 6h.1m-0.1 4h.1m-0.1 5h.1m-0.6 4h.1m-3.1 1.5h.1m3.4 11.5h.1m-0.6 4.5h.1m0.4 3.5h.1m-1.1 3.5h.1m0.4 4.5h.1m0.4 8.5h.1m-3.1 7h.1m2.4 5.5h.1m-0.6 4.5h.1m-0.1 4.5h.1m-2.1 5h.1m2.4 3h.1m-0.6 5h.1m-2.1 0.5h.1m1.9 7.5h.1m4.4 -176.5h.1m-0.6 4.5h.1m-0.1 12.5h.1m0.4 17.5h.1m-0.1 4h.1m-0.1 8h.1m-0.6 9h.1m0.4 12.5h.1m-0.1 8.5h.1m-0.1 8h.1m-0.1 8.5h.1m-0.1 4.5h.1m-0.1 29.5h.1m-0.1 3h.1m-0.1 4h.1m-0.6 14h.1m-0.1 8.5h.1m0.4 4h.1m-1.1 4.5h.1m-0.1 7.5h.1m0.9 4h.1m-0.1 19.5h.1m12.4 -21.5h.1m-0.6 4.5h.1m21.9 -190h.1m-0.1 130h.1m-0.1 8.5h.1m0.4 16.5h.1m-0.1 9h.1m-0.1 20.5h.1m13.4 -170h.1m-0.1 5h.1m-0.6 12.5h.1m0.4 33.5h.1m-0.6 8h.1m-0.1 17h.1m0.4 16.5h.1m-0.1 4.5h.1m-0.6 4.5h.1m0.4 4.5h.1m-0.1 7.5h.1m-0.1 4h.1m-0.1 9.5h.1m-0.1 4h.1m-0.1 11.5h.1m-0.6 5h.1m0.4 12.5h.1m-0.1 4.5h.1m-0.1 8h.1m-0.1 3.5h.1m-0.6 13h.1m-0.1 4.5h.1m0.4 23.5h.1m3.9 -229h.1m-0.1 12h.1m-0.1 12.5h.1m-0.1 4.5h.1m-0.1 7.5h.1m0.4 8.5h.1m-0.6 13h.1m0.4 8.5h.1m-0.6 4.5h.1m0.4 4h.1m-0.1 8.5h.1m-0.1 4h.1m-0.1 3.5h.1m-0.1 8.5h.1m-0.6 9h.1m0.4 16.5h.1m-0.6 20.5h.1m-0.1 13.5h.1m-0.1 4.5h.1m-0.1 4h.1m-0.1 3.5h.1m0.4 3.5h.1m0.4 4.5h.1m-0.6 5h.1m0.4 8h.1m-1.1 8h.1m-0.1 10h.1m-0.1 2.5h.1m3.4 -181h.1m-0.6 20.5h.1m0.4 58.5h.1m-0.6 26h.1m-0.1 4.5h.1m-0.1 4.5h.1m-0.1 3.5h.1m-0.6 9h.1m0.4 12.5h.1m-0.1 4h.1m-0.6 7.5h.1m0.4 13h.1m-2.1 23.5h.1m1.9 6h.1m3.9 -83h.1m-0.6 5.5h.1m-0.1 8.5h.1m-0.1 11.5h.1m0.4 12.5h.1m-0.6 8h.1m-0.1 5h.1m0.4 17h.1m-0.1 9h.1m3.4 -226h.1m1.4 12h.1m-1.1 2h.1m-0.6 4h.1m0.4 4h.1m-0.6 4.5h.1m0.4 4h.1m-0.1 4.5h.1m-0.1 3.5h.1m-0.1 13h.1m-0.1 4.5h.1m0.4 3.5h.1m-0.6 5h.1m0.4 16.5h.1m-0.6 4.5h.1m-0.1 3h.1m-0.1 5h.1m0.4 4h.1m-1.1 4.5h.1m0.4 8.5h.1m0.4 4.5h.1m-0.1 4.5h.1m-0.6 3.5h.1m-0.6 4.5h.1m-0.1 4h.1m0.4 4.5h.1m0.9 4h.1m-0.1 4h.1m-0.1 4h.1m-1.6 4h.1m-0.6 4.5h.1m0.9 4.5h.1m-1.1 3.5h.1m0.9 4h.1m0.4 4.5h.1m-1.1 4.5h.1m-0.6 3.5h.1m0.9 5h.1m-0.6 4.5h.1m0.4 4h.1m0.9 3h.1m-0.6 5.5h.1m-0.1 3.5h.1m-1.1 8.5h.1m-0.6 5h.1m0.9 23h.1m4.4 -253h.1m-0.1 131h.1m0.4 51.5h.1m-0.6 15h.1m2.9 -173h.1m-0.1 4h.1m0.4 3.5h.1m-0.6 5h.1m0.4 4h.1m-1.1 4h.1m-0.1 4h.1m0.4 8.5h.1m-0.6 5h.1m-0.1 3.5h.1m-0.1 4h.1m-0.1 4h.1m0.9 5h.1m-1.1 8h.1m-0.1 4h.1m0.4 9h.1m-0.1 3.5h.1m-0.1 5h.1m0.4 7.5h.1m-0.1 5h.1m-0.1 3.5h.1m-0.6 4.5h.1m-0.1 4.5h.1m-0.1 4.5h.1m0.4 4h.1m-0.1 4h.1m-0.1 4.5h.1m0.4 3.5h.1m-1.1 4h.1m0.4 5h.1m-1.1 4h.1m-0.6 4h.1m0.4 3.5h.1m-0.6 4h.1m0.4 6h.1m0.9 4h.1m-0.6 3h.1m0.9 4.5h.1m-0.1 5h.1m-0.6 4.5h.1m3.4 -119h.1m-0.1 25h.1m0.4 25.5h.1m-0.6 4h.1m0.4 25h.1m-0.6 24.5h.1m-0.1 10h.1m-1.1 3.5h.1m1.4 7h.1m-0.6 7h.1m0.4 5h.1m-0.1 9h.1m0.4 5.5h.1m-0.6 4h.1m5.9 -71.5h.1m0.4 -157.5h.1m-0.1 4h.1m-0.1 11.5h.1m-0.1 16h.1m-0.1 5h.1m-0.1 24.5h.1m-0.6 21.5h.1m0.4 4h.1m-0.1 8h.1m-0.1 13.5h.1m-0.1 7.5h.1m-0.6 21.5h.1m-0.1 3.5h.1m0.4 21.5h.1m-0.6 26h.1m0.4 4h.1m-0.6 11.5h.1m-0.1 4.5h.1m0.4 4.5h.1m12.4 -210.5h.1m2.4 9.5h.1m-0.1 16h.1m-0.1 4.5h.1m0.4 5h.1m-0.1 12.5h.1m-0.1 8h.1m-0.6 25h.1m-0.1 20.5h.1m-0.1 5h.1m0.4 3.5h.1m-0.1 4h.1m-0.6 4.5h.1m-0.6 12.5h.1m0.4 8.5h.1m0.4 13h.1m-0.1 3.5h.1m-0.1 13h.1m-0.6 5.5h.1m-0.1 4h.1m-0.1 7h.1m-0.6 26h.1m0.9 43h.1m-0.1 5h.1m-1.1 4.5h.1m0.4 6h.1m-0.1 5h.1m1.9 -296.5h.1m0.9 49h.1m0.4 9.5h.1m-0.6 25h.1m0.4 21h.1m-0.6 16h.1m-0.1 42h.1m-0.1 9h.1m-0.1 17h.1m-0.6 8h.1m-2.1 7.5h.1m2.4 5h.1m-2.6 11h.1m2.4 10.5h.1m-2.1 6.5h.1m-0.6 3.5h.1m2.4 2.5h.1m-0.1 8.5h.1m-0.1 4.5h.1m3.9 -248h.1m0.4 1h.1m-0.1 15h.1m-0.1 4h.1m-0.1 8.5h.1m-0.1 4h.1m-0.1 4h.1m-0.6 4.5h.1m-0.1 4.5h.1m0.4 4h.1m-0.1 12.5h.1m-0.1 4h.1m-0.1 5h.1m-0.6 4h.1m-0.1 3.5h.1m0.9 9h.1m-0.6 4h.1m-0.1 4.5h.1m-0.1 4h.1m0.4 4h.1m-1.1 4.5h.1m0.4 4h.1m-0.1 3.5h.1m-0.1 4.5h.1m0.4 4h.1m-0.6 5h.1m0.4 3.5h.1m-1.1 9h.1m-0.6 4h.1m1.4 5h.1m-1.1 3.5h.1m0.9 4h.1m-0.1 8h.1m-0.1 4.5h.1m-1.1 5h.1m0.9 4h.1m-0.1 5h.1m-1.1 2h.1m0.4 4.5h.1m-1.1 4.5h.1m1.4 4.5h.1m-1.1 8.5h.1m1.4 9.5h.1m-1.6 4h.1m-0.1 3h.1m0.9 5.5h.1m-1.1 3.5h.1m0.4 7.5h.1m-0.1 6h.1m-0.1 8h.1m0.4 24h.1m2.9 -267.5h.1m-0.1 4.5h.1m-0.6 4.5h.1m0.9 4.5h.1m-0.6 3h.1m-0.6 5h.1m0.9 3.5h.1m-0.6 5h.1m-0.1 4.5h.1m-0.1 16.5h.1m0.4 4h.1m-0.6 4.5h.1m-0.1 3.5h.1m0.4 13h.1m-0.6 4.5h.1m-0.1 3.5h.1m-0.1 4.5h.1m-0.1 17h.1m-0.1 4h.1m-0.6 4.5h.1m0.4 4.5h.1m-0.1 3.5h.1m0.4 5h.1m-1.1 3.5h.1m0.4 8.5h.1m0.4 4h.1m-0.1 4.5h.1m-1.1 4h.1m0.9 7.5h.1m-0.6 6h.1m0.4 4.5h.1m-1.1 3.5h.1m0.9 5h.1m-0.1 2.5h.1m-0.1 5h.1m-0.6 12h.1m-0.6 4.5h.1m-0.6 4h.1m0.4 4h.1m-0.1 5.5h.1m0.4 4h.1m-0.6 4.5h.1m-0.6 3h.1m0.9 3.5h.1m-2.6 9h.1m-0.1 23.5h.1m4.9 -265.5h.1m0.9 5h.1m0.4 4.5h.1m-1.1 4h.1m0.4 4.5h.1m0.4 4h.1m-0.1 4.5h.1m0.4 3.5h.1m-0.1 4h.1m-1.1 13h.1m0.4 4.5h.1m-0.6 4.5h.1m-0.1 4h.1m-0.1 3.5h.1m-0.6 13h.1m0.9 5h.1m-0.1 4h.1m-0.6 3.5h.1m-0.1 4.5h.1m0.4 4.5h.1m-0.1 3.5h.1m-0.1 5h.1m-0.6 4.5h.1m-0.1 3h.1m-0.1 5h.1m-0.1 4.5h.1m-0.1 4h.1m0.4 3h.1m-0.1 5.5h.1m-1.1 4.5h.1m0.4 3.5h.1m-0.1 5h.1m-0.1 4h.1m0.4 3h.1m-1.1 5.5h.1m0.9 3h.1m-1.1 8.5h.1m-0.1 8.5h.1m-0.1 4h.1m0.9 9h.1m-1.1 4h.1m-0.1 9h.1m-0.6 7h.1m1.4 14.5h.1m-0.6 2.5h.1m3.4 -226h.1m0.4 3.5h.1m0.4 4h.1m-1.1 4.5h.1m-0.1 4h.1m-0.1 4.5h.1m0.4 4.5h.1m-0.1 4.5h.1m-0.1 3.5h.1m0.4 4h.1m-0.1 9h.1m-0.6 4h.1m-0.1 4.5h.1m0.4 3.5h.1m-1.1 8.5h.1m0.4 4.5h.1m-0.1 4.5h.1m-0.1 3.5h.1m-0.1 4.5h.1m-0.6 4.5h.1m-0.1 8h.1m0.4 4h.1m0.4 4.5h.1m-0.1 4.5h.1m-0.6 4h.1m0.4 4h.1m-1.1 5h.1m-0.1 4h.1m0.4 3.5h.1m-0.6 4.5h.1m0.4 4h.1m0.9 5h.1m-1.6 8.5h.1m0.9 3h.1m-0.1 4.5h.1m-1.1 3.5h.1m0.9 13h.1m0.4 5.5h.1m-1.6 4.5h.1m0.9 6.5h.1m0.4 6h.1m-1.6 4h.1m-0.1 4h.1m1.4 2.5h.1m-0.6 6h.1m-0.1 2.5h.1m-0.6 15.5h.1m-1.1 16.5h.1m-0.1 4h.1m0.4 4.5h.1m-0.6 8.5h.1m4.9 -264.5h.1m-0.1 4h.1m-0.6 4h.1m0.4 4.5h.1m-0.1 4.5h.1m-0.1 4h.1m-0.1 4.5h.1m-1.1 3.5h.1m0.9 9h.1m-0.1 4h.1m-0.6 4.5h.1m-0.1 4h.1m0.4 3.5h.1m-0.6 5.5h.1m-0.1 4h.1m-0.1 3.5h.1m-0.1 8h.1m-0.1 5h.1m0.4 4h.1m-0.1 4h.1m-1.1 4h.1m0.9 4.5h.1m-0.1 4.5h.1m-0.1 4.5h.1m-0.6 4h.1m0.4 3.5h.1m-0.6 4h.1m-0.6 5.5h.1m0.4 4h.1m0.4 3.5h.1m-1.1 4.5h.1m0.4 4h.1m0.4 5h.1m-1.1 3h.1m1.4 5h.1m-1.1 4h.1m0.4 9.5h.1m0.4 3h.1m-1.6 4.5h.1m-0.1 5h.1m1.4 4h.1m-0.1 2.5h.1m-1.6 5h.1m-0.1 4.5h.1m-0.1 3.5h.1m0.9 5h.1m-1.1 9h.1m1.9 6.5h.1m-2.1 5.5h.1m-0.6 6.5h.1m0.9 4h.1m-1.6 17h.1m5.9 -261h.1m1.4 0h.1m-2.6 9h.1m0.9 4.5h.1m-0.1 4h.1m-0.6 4h.1m-0.1 4.5h.1m-0.1 4.5h.1m-0.6 4h.1m-0.1 4h.1m0.4 12.5h.1m-0.1 4.5h.1m-0.6 4h.1m0.4 4h.1m-0.1 4h.1m-0.1 4.5h.1m-0.6 8h.1m-0.1 5h.1m0.9 3.5h.1m-0.6 5h.1m-0.6 3.5h.1m-0.1 4.5h.1m-0.1 4h.1m0.9 8.5h.1m-0.1 4.5h.1m-1.1 3.5h.1m0.4 4.5h.1m-0.6 4h.1m-0.1 9h.1m-0.1 3h.1m0.4 5h.1m0.4 3.5h.1m-0.6 6h.1m-1.1 3h.1m1.4 3.5h.1m-0.1 8.5h.1m0.4 4.5h.1m-1.6 8h.1m-0.6 5h.1m-0.1 4h.1m1.4 4h.1m-1.1 5h.1m0.9 3h.1m-0.6 5h.1m-1.1 4h.1m0.4 4.5h.1m0.4 5h.1m0.4 7.5h.1m-0.1 12h.1m-0.6 10.5h.1m3.4 -239.5h.1m-0.6 3.5h.1m0.4 4.5h.1m-0.1 8.5h.1m-0.1 3.5h.1m-0.1 25.5h.1m-0.1 4.5h.1m-0.1 21h.1m-0.1 4.5h.1m-0.1 3.5h.1m-0.1 21h.1m-0.1 4h.1m-0.6 26h.1m0.4 3h.1m-0.6 4.5h.1m-0.1 8.5h.1m3.4 1h.1m-3.6 8h.1m0.4 17.5h.1m-1.1 8h.1m-0.1 12h.1m0.4 8.5h.1m0.4 3.5h.1m-0.6 25h.1m-0.1 4h.1m-0.1 5.5h.1m6.9 -249h.1m0.4 6h.1m-3.6 16.5h.1m-0.1 4h.1m-0.1 4.5h.1m-0.1 13h.1m-0.1 3.5h.1m-0.1 9h.1m-0.1 16.5h.1m-0.1 9h.1m-0.1 8h.1m-0.1 25h.1m-0.1 12h.1m-0.1 8.5h.1m3.4 0h.1m-3.6 4h.1m-0.1 9h.1m3.4 4.5h.1m-3.6 9h.1m-0.6 15.5h.1m0.4 4h.1m-0.1 17.5h.1m2.9 0h.1m-3.1 9.5h.1m2.9 0h.1m-3.1 8h.1m3.4 2.5h.1m-4.1 2h.1m0.4 3.5h.1m3.4 8h.1m0.4 -222h.1m0.4 3.5h.1m-1.1 4h.1m-0.1 5h.1m-0.1 3.5h.1m-0.1 4.5h.1m-0.1 8.5h.1m0.4 4.5h.1m0.4 3.5h.1m-0.1 5h.1m-0.1 3.5h.1m-0.6 4.5h.1m-0.1 4.5h.1m0.4 4.5h.1m-0.1 8h.1m-0.6 4.5h.1m0.4 4h.1m-0.6 4h.1m-0.1 12.5h.1m-0.6 4.5h.1m-0.1 4.5h.1m0.9 3.5h.1m-0.6 4.5h.1m-0.1 4.5h.1m-0.6 4h.1m0.9 4h.1m0.4 8h.1m-0.6 4h.1m-0.6 5.5h.1m-0.1 8h.1m0.4 4h.1m-0.1 5h.1m-0.1 3h.1m-1.1 5h.1m0.9 4.5h.1m0.4 7.5h.1m-0.1 5h.1m-0.1 4.5h.1m-0.1 8.5h.1m-0.1 6.5h.1m-1.1 12.5h.1m0.4 12h.1"/>
<path stroke="#6b2d85" d="M307.5 385.5h.1m10.9 -55h.1m-0.6 13.5h.1m-0.1 11.5h.1m1.4 5.5h.1m-1.6 3h.1m-0.1 4h.1m0.9 5h.1m2.4 6.5h.1m-2.1 9.5h.1m3.4 -4h.1m-0.6 13h.1m6.4 -68h.1m0.4 4.5h.1m0.4 8h.1m-3.1 3h.1m-0.1 3h.1m2.4 3h.1m-2.6 2.5h.1m2.4 1.5h.1m-0.1 4.5h.1m-2.6 13.5h.1m-0.6 5.5h.1m-0.6 13h.1m6.9 -36.5h.1m0.4 14h.1m-3.1 7h.1m2.4 1h.1m-2.1 9h.1m3.4 -68h.1m-0.1 7.5h.1m-0.6 14h.1m2.9 34h.1m-0.6 4.5h.1m0.4 3.5h.1m-0.1 9.5h.1m0.4 9h.1m-1.6 15.5h.1m3.9 -54.5h.1m-0.1 4.5h.1m0.4 16.5h.1m-0.6 9h.1m0.4 3.5h.1m-2.6 0.5h.1m5.9 -61h.1m1.4 12h.1m-1.1 5.5h.1m0.9 11.5h.1m-0.1 5h.1m-0.6 5.5h.1m-0.6 6.5h.1m0.4 4h.1m0.9 4.5h.1m-0.6 4.5h.1m3.4 -66.5h.1m-0.1 7.5h.1m-1.6 4h.1m-0.1 4.5h.1m0.4 4h.1m0.9 9h.1m-1.1 13h.1m0.4 3.5h.1m0.9 17.5h.1m1.9 -34h.1m1.4 23h.1m-0.1 8h.1m-0.1 8h.1m-1.6 9.5h.1m0.9 8h.1m-0.1 3h.1m4.4 -119h.1m-0.1 8h.1m-2.1 4h.1m1.4 5h.1m-0.1 9h.1m-1.6 2.5h.1m1.4 13.5h.1m-1.6 5h.1m-0.1 6.5h.1m0.4 5.5h.1m0.9 5h.1m-1.1 24h.1m3.4 -65h.1m0.4 8h.1m0.4 10h.1m-1.1 4h.1m0.4 8.5h.1m-0.1 4.5h.1m0.9 4h.1m-0.1 11h.1m2.4 -67h.1m-0.6 12.5h.1m0.4 3.5h.1m0.9 13.5h.1m-0.6 5h.1m-0.6 11.5h.1m4.9 -42.5h.1m-0.1 2.5h.1m-0.1 3.5h.1m-1.6 10h.1m0.9 8.5h.1m-0.6 7h.1m-1.1 5h.1m-0.1 4h.1m3.9 39.5h.1m0.9 -37.5h.1m-1.1 5h.1m-0.1 12h.1m1.4 4h.1m-0.6 8h.1m-1.1 12.5h.1m4.9 -42h.1m-0.6 20.5h.1m0.4 5h.1m-0.6 3.5h.1m2.9 2.5h.1m-0.6 23.5h.1m0.9 -94h.1m2.9 0.5h.1m0.9 17h.1m-0.6 3.5h.1m-0.1 4h.1m-3.1 4.5h.1m3.4 0.5h.1m-1.1 8.5h.1m-0.1 7.5h.1m4.4 -62.5h.1m-0.1 3.5h.1m0.4 4h.1m-3.6 23h.1m1.9 15.5h.1m-1.6 14h.1m-0.6 7h.1m3.4 -71h.1m3.4 47h.1m0.4 7.5h.1m-3.6 13h.1m2.9 0.5h.1m-0.1 7.5h.1m-0.6 5h.1m3.9 -35.5h.1m-0.6 4.5h.1m1.4 2.5h.1m-0.1 4h.1m-0.1 6h.1m-1.1 3h.1m-2.6 6.5h.1m2.4 6h.1m-1.1 5h.1m0.9 4.5h.1m2.9 -75.5h.1m-0.6 8.5h.1m1.9 9.5h.1m-1.1 8h.1m-0.1 4h.1m0.9 9h.1m-1.1 6.5h.1m0.4 5.5h.1m-0.6 3.5h.1m2.9 -7h.1m0.4 17h.1m0.4 8h.1m0.9 4.5h.1m-0.6 3h.1m-0.1 5.5h.1m-0.1 4.5h.1m-1.6 2.5h.1m-0.1 9h.1m4.4 -70.5h.1m-0.6 17.5h.1m-0.1 3h.1m0.9 51.5h.1m-0.1 2.5h.1m3.9 -11.5h.1m-0.1 4h.1m-0.6 11.5h.1m-1.1 5h.1m3.4 -79h.1m0.9 4h.1m-0.1 4.5h.1m-1.1 5h.1m0.4 4.5h.1m0.4 4.5h.1m0.4 3h.1m0.4 5.5h.1m-0.6 11.5h.1m0.4 4h.1m-0.6 5.5h.1m5.9 -83h.1m-3.6 44.5h.1m-0.6 4.5h.1m-0.1 7.5h.1m0.9 12.5h.1m0.4 3.5h.1m2.9 -64.5h.1m-0.6 10.5h.1m-0.1 7.5h.1m1.4 12h.1m-0.1 5h.1m-0.1 12h.1m-0.1 9.5h.1m-0.1 3.5h.1m-0.6 7.5h.1m0.4 6h.1m2.4 2.5h.1m-2.6 0.5h.1m5.9 -39h.1m-2.1 0.5h.1m-1.1 30h.1m-0.1 16.5h.1m0.9 3h.1m-1.1 5h.1m4.9 -109h.1m-0.6 43h.1m-0.6 3.5h.1m-0.6 4.5h.1m-0.1 7.5h.1m2.9 4h.1m-3.1 4.5h.1m0.4 14h.1m-0.1 4.5h.1m2.9 3h.1m-0.1 9h.1m3.4 -99h.1m-0.6 22h.1m0.9 23h.1m-2.6 7.5h.1m-0.1 3h.1m-0.1 5.5h.1m-0.1 8.5h.1m-1.1 8h.1m-0.1 17.5h.1m-0.1 8.5h.1m4.9 -91h.1m5.9 -9.5h.1m-0.1 8.5h.1m0.4 4h.1m-1.1 3.5h.1m0.4 17.5h.1m0.4 3h.1m3.4 -18.5h.1m-0.6 2.5h.1m0.4 12.5h.1m-1.6 21.5h.1m0.4 10h.1m222.4 -234.5h.1m0.9 12h.1m-0.1 5h.1m-0.1 2.5h.1m-0.1 12.5h.1m-0.1 8h.1m-0.1 18h.1m0.9 8.5h.1m-1.1 16h.1m0.9 17.5h.1m-0.6 3.5h.1m-0.1 12.5h.1m-0.1 14h.1m0.4 2.5h.1m-0.6 35.5h.1m-0.6 13.5h.1m0.9 6h.1m-1.1 4h.1m2.9 -164.5h.1m-0.1 13.5h.1m-0.1 7h.1m-0.6 7.5h.1m-0.1 5h.1m0.9 8h.1m-1.1 5.5h.1m0.9 9h.1m-0.1 2.5h.1m-0.6 5.5h.1m-0.6 4.5h.1m0.4 2.5h.1m-0.1 16.5h.1m-0.1 9h.1m-0.1 3.5h.1m-0.6 4.5h.1m-0.1 13h.1m-0.1 5h.1m0.4 4h.1m-0.1 8.5h.1m58.9 -36.5h.1m19.4 -141.5h.1m-0.1 4.5h.1m-0.1 13h.1m-0.1 3.5h.1m0.4 8.5h.1m-0.6 4.5h.1m-0.1 4h.1m0.4 12.5h.1m-0.6 17h.1m-0.1 4h.1m-0.1 5h.1m-0.1 4h.1m0.4 3.5h.1m-0.1 21h.1m-0.6 12.5h.1m-0.1 5.5h.1m-0.1 12.5h.1m-0.1 20.5h.1m0.4 3h.1m-0.1 9h.1m-0.6 9h.1m-0.1 4.5h.1m0.4 17h.1m0.4 4h.1m-0.1 6h.1m31.4 -167.5h.1m-0.1 5h.1m0.4 11.5h.1m-0.6 8.5h.1m-0.1 8h.1m-0.1 5.5h.1m0.4 12h.1m-0.6 8.5h.1m-0.1 4.5h.1m-0.1 25.5h.1m0.4 17h.1m-1.1 37.5h.1m0.4 4.5h.1m4.4 -221.5h.1m-0.1 2.5h.1m-0.6 5h.1m0.4 12.5h.1m-0.1 2.5h.1m-0.6 5h.1m0.4 2.5h.1m-0.1 3h.1m-3.6 3h.1m-0.6 3.5h.1m3.9 2h.1m-3.6 3h.1m3.4 1.5h.1m-4.1 2.5h.1m-0.1 4h.1m3.4 2h.1m-3.6 2h.1m3.4 1.5h.1m-0.1 4.5h.1m-3.1 3h.1m3.4 1h.1m-3.6 3h.1m3.4 1.5h.1m-0.6 8.5h.1m-0.1 8h.1m-3.6 7h.1m3.4 5.5h.1m-3.1 2.5h.1m3.4 2h.1m-4.1 10.5h.1m3.4 6.5h.1m-0.1 4.5h.1m-3.6 2h.1m3.4 5.5h.1m-0.1 5h.1m0.4 7.5h.1m-0.1 5h.1m-4.1 2h.1m-0.1 4.5h.1m3.4 1h.1m-3.1 8h.1m2.4 1h.1m0.4 3.5h.1m-0.1 5h.1m0.4 4h.1m-3.6 3.5h.1m-0.1 11h.1m-0.6 18.5h.1m2.9 5h.1m0.9 -223h.1m-0.1 2.5h.1m-0.1 7.5h.1m0.4 5h.1m-0.1 2.5h.1m-0.1 2.5h.1m-0.6 2.5h.1m-0.1 7.5h.1m2.9 10h.1m-0.1 9h.1m0.4 7h.1m-0.6 18h.1m-0.1 21h.1m0.4 3.5h.1m-0.1 4.5h.1m-0.1 12.5h.1m-0.6 20.5h.1m0.4 5h.1m-0.6 24.5h.1m-0.1 13.5h.1m-0.6 7.5h.1m0.4 13h.1m-0.6 9h.1m0.4 7h.1m-0.1 9.5h.1m-0.1 8.5h.1m-1.1 9.5h.1m0.9 9h.1m-1.1 5h.1m38.9 -206h.1m-0.1 3.5h.1m-0.1 13h.1m-0.1 12.5h.1m-0.1 4h.1m-0.1 9h.1m-0.1 4h.1m-0.1 4h.1m-0.1 4.5h.1m-0.1 12.5h.1m-0.1 8h.1m-0.1 4h.1m-0.1 8.5h.1m-0.1 9h.1m-0.1 4h.1m-0.1 4.5h.1m-0.1 3.5h.1m0.4 13h.1m-0.6 3.5h.1m-0.1 4h.1m-0.1 13h.1m0.4 4.5h.1m-0.1 4.5h.1m-0.1 3h.1m-0.1 6h.1m31.4 -13h.1m-0.1 4h.1m-0.1 16.5h.1"/>
<path stroke="#69297e" d="M292.5 353.5h.1m-0.1 29.5h.1m-0.1 5h.1m0.4 5h.1m2.9 21.5h.1m-0.6 4h.1m-0.1 4.5h.1m0.9 5h.1m2.9 -61.5h.1m8.4 -27h.1m-0.1 7.5h.1m-0.1 4h.1m-0.6 3.5h.1m0.4 13.5h.1m-1.1 3.5h.1m7.4 -27h.1m0.9 14.5h.1m-0.6 2h.1m-0.1 6h.1m3.9 -82h.1m-0.1 7h.1m-1.1 6h.1m0.4 12h.1m-0.1 3h.1m-0.1 8.5h.1m3.4 12h.1m-2.6 1.5h.1m-0.1 17.5h.1m2.4 2.5h.1m-0.1 16.5h.1m1.4 -34.5h.1m-1.1 4h.1m0.4 19h.1m1.9 0.5h.1m-2.1 3h.1m1.9 1.5h.1m-3.1 9.5h.1m3.9 8h.1m-0.6 5h.1m4.4 -103h.1m-1.1 4.5h.1m0.4 13h.1m-2.6 1.5h.1m1.9 7h.1m0.9 3.5h.1m-2.6 4.5h.1m-1.1 6.5h.1m-0.6 44.5h.1m7.9 -105h.1m-0.6 29h.1m-0.6 15.5h.1m0.4 6h.1m-0.1 15.5h.1m-0.6 4h.1m-2.1 31h.1m-1.1 3.5h.1m3.9 -87.5h.1m0.4 24h.1m2.4 26.5h.1m-0.1 9.5h.1m-0.6 3.5h.1m0.4 9h.1m0.4 3.5h.1m-0.6 4h.1m0.9 9.5h.1m-0.6 16.5h.1m2.4 -80h.1m0.4 33.5h.1m-0.1 2.5h.1m0.4 4.5h.1m-3.1 2.5h.1m3.9 23.5h.1m-1.1 4h.1m2.9 -113.5h.1m-0.1 15h.1m0.4 9h.1m-0.1 17.5h.1m-0.6 4.5h.1m1.4 3.5h.1m-0.1 28.5h.1m2.9 -56.5h.1m-0.1 4h.1m-0.6 2.5h.1m-0.1 4h.1m-0.6 14.5h.1m-0.1 11.5h.1m1.9 9.5h.1m-0.1 29.5h.1m-0.1 3h.1m1.9 -61h.1m-0.6 12h.1m0.4 7h.1m0.9 5.5h.1m-0.6 3.5h.1m-0.6 4.5h.1m-0.6 3.5h.1m1.4 12.5h.1m-1.1 8.5h.1m0.9 4.5h.1m2.4 -102.5h.1m-0.1 25h.1m-0.1 5h.1m0.9 7.5h.1m-0.6 17h.1m0.4 13h.1m-0.1 4.5h.1m3.9 -51.5h.1m-1.1 7.5h.1m0.4 3h.1m0.9 5.5h.1m-0.6 3.5h.1m0.4 5.5h.1m-1.1 3h.1m0.9 4h.1m-1.6 30h.1m3.9 -88h.1m0.4 3.5h.1m-0.1 4.5h.1m-0.6 8.5h.1m0.9 7.5h.1m1.9 7.5h.1m-3.6 5h.1m1.4 4.5h.1m3.9 -40h.1m-2.1 6h.1m0.4 7.5h.1m-0.1 3h.1m-0.1 4h.1m0.9 14.5h.1m-1.6 8h.1m3.9 15h.1m-0.1 8h.1m-0.6 16.5h.1m1.4 -34.5h.1m-1.1 13h.1m0.4 8.5h.1m0.9 4h.1m-1.6 4h.1m3.4 25.5h.1m1.4 -63.5h.1m-0.1 12.5h.1m0.4 14h.1m1.9 10.5h.1m-2.1 1h.1m-1.6 4.5h.1m3.4 7h.1m-0.6 4h.1m0.4 5h.1m-0.1 12.5h.1m1.4 -118.5h.1m-0.1 17h.1m-0.6 5h.1m1.9 4.5h.1m-2.6 4h.1m3.9 3.5h.1m-4.1 8h.1m3.4 0h.1m2.9 -38.5h.1m0.4 23h.1m-0.1 7.5h.1m-3.1 4h.1m-0.1 18h.1m0.4 12.5h.1m5.9 -84.5h.1m-2.6 0h.1m0.4 8.5h.1m-0.6 16.5h.1m2.4 1.5h.1m-2.1 2.5h.1m1.9 0.5h.1m-2.1 7.5h.1m1.4 2h.1m-1.6 35h.1m2.9 1.5h.1m0.4 6h.1m-0.6 6.5h.1m0.4 5h.1m-0.6 5h.1m-3.1 2h.1m5.4 -48h.1m0.4 9h.1m-0.1 4h.1m0.4 5h.1m-0.6 4.5h.1m0.4 2.5h.1m-3.1 8h.1m5.9 -42.5h.1m1.4 7h.1m-1.6 4h.1m1.4 5h.1m-0.6 4h.1m-0.6 8.5h.1m0.9 8.5h.1m-1.6 7.5h.1m4.9 -15h.1m-1.6 7.5h.1m-0.1 9h.1m1.4 3.5h.1m-0.1 4.5h.1m-0.1 4h.1m-0.6 3.5h.1m0.4 4.5h.1m2.4 -82.5h.1m-0.1 20h.1m0.4 5.5h.1m-0.1 6.5h.1m-0.6 13h.1m-0.6 22.5h.1m1.9 28.5h.1m-0.6 12h.1m3.4 -25.5h.1m-0.1 5.5h.1m-0.6 4h.1m-0.6 8.5h.1m-0.1 2.5h.1m0.4 5h.1m-0.1 5h.1m0.4 2.5h.1m-1.1 6h.1m-0.1 4.5h.1m0.4 2.5h.1m3.9 -115.5h.1m-0.6 4.5h.1m-0.6 13h.1m0.4 3.5h.1m0.4 5h.1m-1.1 2.5h.1m-0.1 9h.1m1.4 9h.1m-0.1 4h.1m0.4 5h.1m-2.1 44.5h.1m3.9 -84h.1m-0.1 9.5h.1m-0.6 17h.1m0.4 3h.1m-0.1 10h.1m-0.6 4h.1m1.4 7h.1m-0.1 25h.1m2.9 -93h.1m-0.1 16h.1m0.9 14h.1m-0.6 15.5h.1m-0.1 17.5h.1m2.4 19.5h.1m-0.1 22h.1m3.9 -84h.1m-0.6 24.5h.1m0.4 4.5h.1m0.4 6h.1m-2.6 3h.1m2.4 0.5h.1m-3.1 12h.1m0.4 4.5h.1m-0.6 11h.1m-1.1 4.5h.1m4.9 -57h.1m-1.1 4.5h.1m3.4 2.5h.1m0.4 12.5h.1m-1.1 9.5h.1m0.4 4h.1m-0.1 3h.1m3.4 -101h.1m-0.1 16.5h.1m-2.1 17.5h.1m2.4 11h.1m-0.1 13h.1m-2.6 2h.1m-0.6 9h.1m-0.1 8.5h.1m2.9 2.5h.1m-0.1 8.5h.1m0.9 -59h.1m2.9 6h.1m-3.1 6.5h.1m3.4 19h.1m-3.6 11.5h.1m2.4 0h.1m3.9 -58h.1m-0.1 3h.1m-0.1 12.5h.1m-0.1 8.5h.1m-2.6 4.5h.1m2.9 4h.1m-3.6 5.5h.1m-0.1 2.5h.1m-0.1 9h.1m-0.1 14h.1m3.4 2.5h.1m0.4 5.5h.1m2.9 -40.5h.1m-0.1 6.5h.1m-0.6 5h.1m-0.1 8.5h.1m0.9 4h.1m0.4 13.5h.1m-0.6 3.5h.1m-0.1 7.5h.1m-1.6 9h.1m3.9 -35.5h.1m-0.1 5.5h.1m0.4 3.5h.1m0.9 8h.1m-0.6 4.5h.1m-0.1 5h.1m-1.1 3.5h.1m-0.6 4.5h.1m1.4 8.5h.1m-0.6 3h.1m-1.1 7.5h.1m3.9 1h.1m5.4 8.5h.1m-0.1 3h.1m0.4 5.5h.1m-1.1 4.5h.1m-0.1 3h.1m0.4 17.5h.1m-1.1 9h.1m2.4 -88.5h.1m0.9 30.5h.1m206.9 -203.5h.1m0.4 4h.1m-0.6 9h.1m-0.1 8h.1m0.4 5h.1m-0.1 2h.1m-0.6 17.5h.1m0.4 5.5h.1m0.4 3.5h.1m-1.1 8.5h.1m-0.1 5h.1m-0.1 4h.1m0.4 11.5h.1m0.4 5.5h.1m-0.6 6.5h.1m-0.6 6h.1m-0.1 11h.1m0.4 5h.1m-0.1 5h.1m-0.1 2.5h.1m-0.1 4.5h.1m-0.1 5h.1m273.4 67.5h.1m-1.1 1h.1m0.4 1.5h.1m0.4 1h.1m-0.1 1.5h.1m-0.6 1h.1m-0.1 1h.1m-0.1 22h.1m-0.1 1h.1m-0.6 1h.1m0.9 1.5h.1m-1.1 1h.1m0.9 1.5h.1m-1.1 1h.1"/>
<path stroke="#682576" d="M286 380.5h.1m0.4 17.5h.1m-0.6 3.5h.1m6.9 -93h.1m-1.1 11h.1m0.4 18h.1m0.4 12.5h.1m-3.1 24.5h.1m5.4 -4h.1m0.4 8h.1m-0.6 4.5h.1m0.9 6h.1m-0.6 5.5h.1m3.4 -82h.1m-0.1 16.5h.1m-0.1 8.5h.1m-0.1 4h.1m4.4 -18h.1m0.4 3h.1m-0.1 9.5h.1m0.4 11.5h.1m-1.1 9h.1m-1.1 17.5h.1m-0.1 4h.1m0.4 10h.1m4.4 -99h.1m-0.6 8.5h.1m0.4 3h.1m0.4 5.5h.1m-2.1 8.5h.1m0.4 4h.1m0.9 4.5h.1m-0.1 3.5h.1m2.4 -16h.1m3.4 42.5h.1m-2.6 12h.1m0.4 3h.1m-0.6 8.5h.1m0.4 18.5h.1m3.9 -100.5h.1m-0.6 18h.1m-0.6 3.5h.1m0.9 8.5h.1m-1.1 3h.1m-0.6 10h.1m3.4 10.5h.1m0.4 -101.5h.1m-0.6 9.5h.1m1.4 4h.1m-0.1 7.5h.1m1.9 33.5h.1m0.4 12h.1m-0.6 13h.1m0.9 -43h.1m2.4 6.5h.1m-1.6 2h.1m1.9 20h.1m0.4 3h.1m-3.1 3.5h.1m2.4 15.5h.1m-0.1 2h.1m-0.1 4.5h.1m3.9 -111h.1m-0.1 10h.1m0.4 8h.1m-1.1 7.5h.1m-2.1 6.5h.1m2.9 2.5h.1m-0.6 8h.1m-3.1 10h.1m0.4 12h.1m-0.6 34h.1m6.9 -113.5h.1m0.4 16.5h.1m-1.1 16.5h.1m0.4 4.5h.1m-0.6 7.5h.1m-0.1 12.5h.1m-0.1 6h.1m0.4 6.5h.1m-3.1 22h.1m-0.1 11h.1m-0.6 5h.1m3.9 -79h.1m0.4 13.5h.1m1.9 26.5h.1m0.4 4h.1m-0.6 7h.1m-0.1 8h.1m0.4 4.5h.1m-0.6 4.5h.1m-0.6 4h.1m4.4 -59.5h.1m-0.1 30h.1m-0.1 4h.1m0.9 5h.1m-0.6 17h.1m0.4 4h.1m-3.1 4h.1m3.4 1h.1m-3.6 7h.1m2.9 1h.1m2.4 -78h.1m0.9 9.5h.1m-3.1 4.5h.1m2.9 2.5h.1m0.4 6h.1m0.4 2.5h.1m-1.6 10h.1m-0.1 7.5h.1m-0.1 5h.1m-2.6 3.5h.1m5.9 -67h.1m-0.1 4h.1m-0.1 5.5h.1m0.4 3.5h.1m-0.6 5h.1m-0.1 3.5h.1m-0.1 5h.1m-0.6 3h.1m0.4 5h.1m0.4 4h.1m-1.1 4.5h.1m1.9 28.5h.1m1.4 -45.5h.1m-0.1 16h.1m1.4 4.5h.1m-1.1 5.5h.1m0.4 3h.1m0.4 4h.1m-0.1 5h.1m-0.1 7h.1m-0.6 5.5h.1m-0.1 9h.1m4.4 -204h.1m-0.1 37h.1m-0.1 34h.1m-0.1 4.5h.1m-1.6 21.5h.1m1.4 13h.1m-1.6 7h.1m0.9 8h.1m-0.6 9.5h.1m-0.1 4h.1m0.9 3.5h.1m-0.6 10h.1m-0.1 3.5h.1m-0.6 3h.1m-0.1 9.5h.1m4.9 -53h.1m-1.6 5h.1m1.4 3h.1m-1.1 5.5h.1m0.9 11.5h.1m-0.1 8.5h.1m-0.1 8.5h.1m-2.1 60h.1m4.4 -123.5h.1m0.4 6h.1m-1.1 11h.1m-0.1 10h.1m1.9 4.5h.1m-1.6 2.5h.1m3.9 -34.5h.1m-1.1 4h.1m-0.1 3.5h.1m1.4 13.5h.1m-0.6 2.5h.1m0.4 5.5h.1m0.4 3.5h.1m-0.1 5.5h.1m-2.1 3h.1m3.9 10.5h.1m-0.1 4h.1m-0.6 21h.1m-0.1 12h.1m1.9 -49.5h.1m-0.6 7h.1m-0.1 19h.1m-1.1 3h.1m0.9 13h.1m-0.1 3.5h.1m-0.6 8h.1m3.4 12.5h.1m1.4 -71h.1m-1.1 16h.1m0.4 13h.1m-0.1 5.5h.1m0.4 2.5h.1m1.9 17h.1m-3.6 6h.1m3.4 2.5h.1m-3.6 13.5h.1m3.4 7h.1m1.4 -218h.1m-0.6 8h.1m-0.1 3h.1m-0.1 4.5h.1m-0.6 4.5h.1m0.4 25h.1m-0.6 8.5h.1m-0.1 16.5h.1m0.4 14h.1m-0.6 12h.1m0.9 4h.1m-0.1 8.5h.1m-0.6 8h.1m3.4 2h.1m-0.6 4h.1m-3.6 6h.1m3.4 2.5h.1m-0.6 4.5h.1m-0.1 4h.1m-0.1 3.5h.1m0.9 16.5h.1m3.4 -156h.1m-0.1 4h.1m-0.6 4.5h.1m0.9 8h.1m-0.1 5h.1m-0.6 12h.1m-0.6 4h.1m0.9 22h.1m-1.1 7.5h.1m0.9 9.5h.1m-0.1 4h.1m-1.1 4.5h.1m0.4 4h.1m-0.1 8h.1m-0.6 7.5h.1m0.9 5.5h.1m-0.6 9h.1m-3.1 3.5h.1m2.4 4h.1m-2.6 17.5h.1m-0.1 3h.1m-0.6 6h.1m0.4 7h.1m6.4 -150h.1m-3.1 2.5h.1m-0.1 29h.1m2.4 5.5h.1m-0.1 17.5h.1m-2.6 28.5h.1m2.9 35h.1m-0.1 11h.1m-2.6 0.5h.1m2.4 4.5h.1m-2.6 12.5h.1m2.9 8h.1m3.9 -35.5h.1m-0.1 4h.1m0.4 3.5h.1m-1.1 10h.1m-1.1 3.5h.1m-0.1 3.5h.1m1.4 8h.1m-1.1 8.5h.1m-2.6 15.5h.1m5.9 -59.5h.1m0.9 4.5h.1m-1.1 5h.1m1.4 15h.1m-0.6 5h.1m-0.1 4h.1m-0.1 9h.1m3.9 -24.5h.1m-0.1 7.5h.1m-0.6 4h.1m-0.6 4.5h.1m0.4 5.5h.1m-0.1 2h.1m-0.1 5h.1m-1.1 3.5h.1m3.9 -73.5h.1m-0.1 16.5h.1m-0.1 3h.1m-0.1 10h.1m1.4 70.5h.1m-2.1 9h.1m1.9 12h.1m-0.1 3h.1m3.4 -40h.1m-0.1 4h.1m-0.6 3h.1m-0.6 12h.1m-1.1 13h.1m0.4 9.5h.1m4.4 -105h.1m-1.1 8.5h.1m-0.1 4h.1m1.9 4h.1m-2.1 5h.1m1.9 4.5h.1m-2.1 3h.1m1.4 18.5h.1m0.4 4h.1m1.4 -39h.1m-0.1 4h.1m3.9 0.5h.1m-3.1 5h.1m-0.6 8.5h.1m0.4 3.5h.1m0.9 8h.1m-0.1 9h.1m-0.1 7h.1m-0.1 10h.1m-0.6 8.5h.1m-0.1 12h.1m3.4 -76h.1m-0.1 12.5h.1m0.4 3h.1m-0.1 4h.1m0.4 9h.1m-1.1 4h.1m-0.1 4.5h.1m-0.1 8.5h.1m6.4 -30.5h.1m-2.6 17h.1m2.4 9.5h.1m-2.1 0h.1m-0.6 6h.1m0.4 4.5h.1m-0.6 4h.1m-0.6 4.5h.1m0.4 6h.1m0.4 3.5h.1m-1.6 8.5h.1m4.9 -82.5h.1m-0.6 3.5h.1m-0.6 3.5h.1m0.4 9h.1m3.4 8.5h.1m-3.1 0.5h.1m-0.1 2.5h.1m-0.6 5h.1m2.4 7.5h.1m-2.1 2h.1m1.9 3h.1m0.4 3.5h.1m-0.1 4h.1m-0.1 9h.1m3.4 -148.5h.1m-0.1 5h.1m-0.1 13h.1m-0.1 8h.1m-0.1 25h.1m0.9 28.5h.1m-0.6 14h.1m-0.1 4h.1m-3.1 5h.1m0.4 3.5h.1m2.4 3.5h.1m-3.1 5h.1m2.9 4h.1m-3.1 5.5h.1m3.9 -57h.1m-0.1 5h.1m2.9 1.5h.1m-0.6 4h.1m0.4 4.5h.1m-0.1 5h.1m-3.1 2h.1m1.9 1h.1m0.4 9.5h.1m-2.6 5.5h.1m2.9 2h.1m-0.1 4h.1m-0.1 3.5h.1m-3.1 7.5h.1m6.4 -180h.1m-0.1 18h.1m-0.1 4.5h.1m-0.1 4h.1m0.4 3.5h.1m-0.6 5h.1m-0.1 12h.1m-0.1 5h.1m0.4 4h.1m-0.6 8h.1m-0.1 9h.1m0.4 3.5h.1m-0.1 4h.1m-0.6 5h.1m-0.1 4h.1m-0.6 21.5h.1m-0.1 8h.1m0.4 16h.1m-2.6 17.5h.1m-0.1 7h.1m2.9 5.5h.1m-1.1 13h.1m0.9 7h.1m0.4 18h.1m2.9 -62h.1m-3.1 28h.1m1.9 0.5h.1m1.9 9.5h.1m-0.1 3h.1m-0.6 8.5h.1m-0.6 12.5h.1m3.9 -38h.1m-1.1 4.5h.1m0.4 8h.1m-0.1 3h.1m-0.1 9.5h.1m-0.6 3h.1m1.4 4h.1m-2.1 5.5h.1m-0.1 4h.1m3.9 8.5h.1m-0.1 5h.1m-0.1 4.5h.1m-0.1 3.5h.1m-0.1 5h.1m5.4 -18h.1m-1.6 17h.1m0.9 4h.1m-0.1 5.5h.1m-1.1 2h.1m0.9 5.5h.1m-0.6 3h.1m-0.6 6h.1m2.9 -71.5h.1m-0.1 11h.1m0.9 17.5h.1m0.9 22.5h.1m-0.1 2h.1m-0.6 6h.1m0.4 8h.1m1.4 2.5h.1m1.4 -39h.1m-0.6 5h.1m0.4 4h.1m-1.1 5.5h.1m0.4 2.5h.1m-0.1 18h.1m2.9 5h.1m0.4 3h.1m0.4 4h.1m-0.1 3.5h.1m-0.1 4h.1m197.4 -251h.1m-0.1 4.5h.1m-0.1 3h.1m1.4 64h.1m-0.1 101h.1m0.4 11h.1"/>
<path stroke="#65226f" d="M266 331h.1m-2.6 19h.1m-0.6 4h.1m0.4 4.5h.1m-1.6 4h.1m0.4 2.5h.1m0.9 6.5h.1m-1.1 3.5h.1m-0.1 9h.1m-0.6 7.5h.1m0.4 15h.1m0.4 4.5h.1m3.4 -101.5h.1m-0.1 13.5h.1m-0.6 33.5h.1m-0.1 25h.1m5.4 -34.5h.1m1.9 23h.1m-2.1 7h.1m-0.1 7h.1m3.9 15h.1m1.4 12.5h.1m1.4 -48.5h.1m-0.1 21.5h.1m-0.6 22h.1m-0.1 14.5h.1m7.9 -108.5h.1m-3.6 12h.1m2.9 4h.1m-3.1 15.5h.1m2.9 1h.1m-3.1 8.5h.1m-0.1 7h.1m-0.1 5.5h.1m-0.6 8.5h.1m0.4 8.5h.1m-0.6 19.5h.1m4.4 -116.5h.1m-0.1 5.5h.1m-0.1 3.5h.1m-0.1 68h.1m5.4 -92.5h.1m0.4 3h.1m-0.6 8h.1m0.4 9.5h.1m0.4 37.5h.1m0.9 37.5h.1m-1.1 3.5h.1m3.9 -49h.1m-0.1 8h.1m-1.1 4h.1m0.4 5h.1m-1.1 4h.1m1.9 3.5h.1m-0.6 13h.1m2.4 -92h.1m-0.1 3.5h.1m-0.1 18h.1m1.9 12.5h.1m-2.1 9h.1m0.9 41.5h.1m0.4 21.5h.1m-1.1 2.5h.1m-0.1 9h.1m3.9 -110h.1m0.4 12h.1m0.4 3h.1m-0.1 5h.1m-2.1 4h.1m-0.1 3.5h.1m-0.1 9.5h.1m1.9 8.5h.1m-1.6 12h.1m-0.6 8.5h.1m4.9 -106.5h.1m-0.1 4.5h.1m-0.6 8.5h.1m-0.1 4.5h.1m-0.1 12h.1m-0.1 8h.1m0.4 8.5h.1m-1.1 14h.1m3.4 -25.5h.1m-0.1 9.5h.1m-0.1 8h.1m1.9 3.5h.1m-2.1 17.5h.1m1.9 9h.1m-0.6 3.5h.1m-1.1 4.5h.1m0.4 4.5h.1m-0.1 4h.1m-0.1 2.5h.1m-0.1 10h.1m-0.6 4h.1m-0.1 7.5h.1m3.4 -107h.1m1.4 5h.1m-1.1 9h.1m-0.1 4h.1m-0.1 2.5h.1m-0.6 5.5h.1m3.4 6h.1m-3.1 1.5h.1m-0.1 7.5h.1m2.4 11.5h.1m0.4 17h.1m-0.1 -222h.1m0.4 17h.1m0.4 4h.1m-0.6 8h.1m0.4 8h.1m-0.1 5h.1m-1.1 16h.1m0.9 4.5h.1m-0.1 25h.1m-1.1 5h.1m0.9 3.5h.1m-1.1 22h.1m-0.1 7.5h.1m0.9 4.5h.1m0.4 11.5h.1m1.9 3h.1m0.4 21.5h.1m-0.6 5.5h.1m0.4 11h.1m1.4 -34h.1m1.9 4h.1m-2.1 2h.1m-0.6 2.5h.1m-0.1 5h.1m-0.6 16.5h.1m2.9 4h.1m-0.1 7.5h.1m0.9 -163h.1m2.9 2.5h.1m-0.1 3.5h.1m-3.1 5h.1m-0.1 17.5h.1m3.4 2.5h.1m-0.6 12.5h.1m-3.1 6.5h.1m-0.1 4.5h.1m3.4 10.5h.1m-0.6 12.5h.1m-0.6 8.5h.1m-2.1 5.5h.1m-0.1 5.5h.1m-0.6 7h.1m-0.6 25h.1m0.4 4.5h.1m-0.6 9h.1m7.4 -155h.1m-0.1 2.5h.1m-0.6 16h.1m0.4 4.5h.1m-0.1 4h.1m-0.6 5h.1m0.9 11.5h.1m-0.6 4.5h.1m-0.6 13h.1m0.4 8h.1m0.4 4.5h.1m-1.1 4h.1m0.4 5h.1m-0.1 4h.1m-0.6 12h.1m-0.1 9h.1m-2.1 17h.1m-1.1 7.5h.1m-0.1 8.5h.1m0.4 9.5h.1m-0.1 8h.1m-0.1 7.5h.1m3.4 -159h.1m-0.1 4.5h.1m-0.1 3.5h.1m-0.1 26h.1m-0.1 15.5h.1m2.9 65.5h.1m-0.6 4.5h.1m-0.1 4.5h.1m0.4 19.5h.1m-0.1 4.5h.1m-0.1 8.5h.1m0.4 3.5h.1m2.9 -71.5h.1m-0.1 33h.1m-0.6 5h.1m1.9 3.5h.1m-0.6 6h.1m-3.6 16.5h.1m2.9 7.5h.1m-0.1 4.5h.1m2.9 -157h.1m-0.1 5h.1m0.4 25.5h.1m-0.1 12h.1m-0.1 16h.1m-0.1 5h.1m0.9 21.5h.1m-0.6 2.5h.1m0.4 5.5h.1m-0.1 9h.1m0.4 16.5h.1m-1.1 3h.1m0.4 9.5h.1m3.4 -143.5h.1m-1.1 5h.1m0.9 4.5h.1m-0.1 3.5h.1m-0.6 5h.1m0.4 4h.1m-0.6 4h.1m-0.6 16.5h.1m0.4 4.5h.1m-0.6 3.5h.1m0.9 17.5h.1m-1.1 4.5h.1m0.4 7.5h.1m-0.1 5h.1m-0.1 4h.1m-0.6 4.5h.1m-0.1 3h.1m0.4 13.5h.1m2.4 -122h.1m0.4 97.5h.1m1.4 21.5h.1m-0.1 4.5h.1m-1.6 8.5h.1m0.9 2h.1m-0.6 5.5h.1m-0.6 3.5h.1m0.9 4.5h.1m-0.6 26h.1m2.4 -189.5h.1m-0.1 25h.1m1.4 2h.1m-0.1 8.5h.1m-0.1 5h.1m-0.6 4h.1m-0.1 4.5h.1m-0.1 3.5h.1m-0.1 8h.1m0.4 5h.1m-0.1 9h.1m-0.1 4h.1m-0.6 12.5h.1m-0.6 7.5h.1m0.4 12.5h.1m0.9 26h.1m-1.1 15.5h.1m3.9 -123h.1m0.4 5h.1m-0.1 4h.1m-0.1 3.5h.1m-1.1 4.5h.1m0.4 4h.1m-0.1 5h.1m-0.1 12h.1m-0.1 4.5h.1m-0.6 3.5h.1m0.4 5h.1m-0.6 12h.1m-0.1 4.5h.1m0.4 4h.1m0.4 5h.1m-0.6 4h.1m-0.1 8.5h.1m0.4 7.5h.1m-0.1 9.5h.1m-1.6 28.5h.1m-0.1 4.5h.1m-0.1 25h.1m3.9 -170h.1m-0.1 1.5h.1m1.4 1.5h.1m-0.6 3h.1m0.4 4h.1m-0.1 4.5h.1m-0.6 5h.1m-0.6 3.5h.1m0.4 4h.1m-0.6 8.5h.1m0.9 4.5h.1m-0.6 4.5h.1m-0.6 4h.1m0.9 21h.1m-1.6 3.5h.1m0.9 4h.1m-0.1 5h.1m-0.1 5h.1m-0.6 7h.1m5.9 -121h.1m-0.1 23.5h.1m-2.6 4.5h.1m0.9 3h.1m-0.6 4.5h.1m-0.6 4h.1m-0.1 4h.1m0.4 4.5h.1m0.4 4.5h.1m-0.6 4.5h.1m0.4 8h.1m-1.1 4h.1m0.9 4.5h.1m-1.1 8.5h.1m0.4 3.5h.1m-0.6 8h.1m0.4 4.5h.1m-0.6 4h.1m0.4 4.5h.1m0.4 5h.1m-0.1 3h.1m-0.1 9.5h.1m1.9 30h.1m-0.1 5.5h.1m1.4 -131h.1m-0.1 25h.1m0.4 17h.1m-0.1 4.5h.1m-0.6 8h.1m-0.6 47h.1m-0.6 3.5h.1m-0.1 5h.1m1.4 24h.1m1.9 8.5h.1m-3.1 1h.1m4.9 -149h.1m-1.1 0h.1m0.4 2h.1m-0.1 12h.1m-0.6 12.5h.1m0.4 4.5h.1m-0.1 46h.1m-0.6 8.5h.1m-0.1 11h.1m-0.1 23h.1m-0.1 8h.1m0.9 7.5h.1m2.4 16h.1m-1.1 5h.1m0.9 4h.1m3.4 -143h.1m-0.1 5h.1m-0.1 4h.1m-0.1 8.5h.1m0.4 8h.1m-0.6 8h.1m-0.1 5h.1m-0.1 3.5h.1m-0.1 17.5h.1m0.4 8.5h.1m-0.1 12.5h.1m-0.6 8h.1m-0.1 12.5h.1m0.9 -109.5h.1m-0.6 4.5h.1m-0.1 17.5h.1m-0.1 17h.1m0.4 20.5h.1m-0.1 12h.1m-0.1 8h.1m-0.1 14h.1m-0.1 7.5h.1m-0.6 5h.1m7.4 -105h.1m-0.1 4h.1m-0.1 8.5h.1m-0.6 4h.1m-0.1 4h.1m0.4 4.5h.1m-0.1 8h.1m-0.1 5h.1m-0.6 4h.1m-0.1 25h.1m0.4 4h.1m-0.6 3.5h.1m0.4 21.5h.1m-0.6 5h.1m-0.1 3h.1m0.4 4.5h.1m3.9 -111.5h.1m-0.6 5h.1m-0.6 3.5h.1m0.4 4h.1m0.4 4h.1m-0.6 9h.1m-0.6 4.5h.1m-0.1 12h.1m-0.1 4h.1m0.4 5h.1m-0.6 4h.1m0.4 9h.1m-0.1 7h.1m0.4 4.5h.1m-0.1 5.5h.1m-0.6 7.5h.1m-0.6 4h.1m-0.6 5h.1m-0.1 3.5h.1m0.4 17.5h.1m-0.1 4h.1m1.9 -142h.1m1.9 21h.1m0.4 4h.1m-0.1 5h.1m-1.1 3h.1m0.4 4.5h.1m-0.6 4.5h.1m0.9 5h.1m-0.6 3h.1m0.4 4h.1m-0.1 4.5h.1m-0.1 4h.1m-0.1 8.5h.1m-1.1 4.5h.1m0.4 4.5h.1m-0.1 8h.1m-0.1 3.5h.1m-0.1 5.5h.1m-0.1 8h.1m0.4 13.5h.1m0.4 3.5h.1m-0.6 7.5h.1m0.9 -124h.1m1.9 20h.1m-0.1 13h.1m0.4 20.5h.1m-0.6 4.5h.1m0.4 4.5h.1m-0.1 7.5h.1m-0.1 8.5h.1m-0.6 4.5h.1m0.4 4h.1m-0.6 4h.1m0.4 5h.1m0.4 13h.1m-0.1 3h.1m-0.1 12.5h.1m-1.6 5h.1m-0.1 4.5h.1m1.9 12.5h.1m-0.1 8.5h.1m-2.1 7h.1m4.4 -146h.1m-0.6 17.5h.1m0.4 16h.1m-0.6 4.5h.1m-0.1 5h.1m0.9 3h.1m-1.1 4.5h.1m0.9 4.5h.1m-0.6 9h.1m-0.6 4h.1m0.4 3h.1m-0.6 4h.1m0.4 5h.1m-0.6 4.5h.1m0.4 12h.1m-1.1 42.5h.1m1.9 12h.1m-0.1 9h.1m-0.6 17.5h.1m2.4 -30.5h.1m0.4 3h.1m0.4 4.5h.1m0.4 4.5h.1m-0.6 5h.1m-1.6 3.5h.1m0.9 9.5h.1m3.4 -186.5h.1m0.4 5.5h.1m-0.6 6h.1m0.4 4h.1m-0.6 3.5h.1m0.4 4h.1m-0.6 4.5h.1m-0.1 4h.1m0.4 4.5h.1m-0.1 12h.1m0.4 5h.1m-0.6 3.5h.1m-0.1 8.5h.1m-0.6 5h.1m0.9 4h.1m-0.1 4h.1m-0.1 4.5h.1m-0.1 3.5h.1m-1.1 9.5h.1m-0.6 4h.1m0.4 3.5h.1m-0.1 3.5h.1m0.4 4.5h.1m0.9 4.5h.1m-0.1 21.5h.1m4.9 -162h.1m-3.1 36.5h.1m0.4 3h.1m-0.1 4.5h.1m-0.1 13h.1m-0.1 3.5h.1m-0.1 8h.1m-0.1 5.5h.1m-0.1 4h.1m-0.6 3.5h.1m-0.1 21h.1m-0.1 5h.1m0.4 8.5h.1m-0.6 25.5h.1m0.4 2.5h.1m-0.6 8.5h.1m0.4 5.5h.1m-1.1 4.5h.1m1.9 4h.1m-0.1 16h.1m-0.6 13h.1m3.9 -161h.1m-0.6 4.5h.1m0.4 3.5h.1m-0.1 4.5h.1m-0.6 4.5h.1m-0.6 3.5h.1m0.9 12.5h.1m-0.6 5h.1m-0.1 4.5h.1m-0.6 4.5h.1m0.9 16h.1m-0.1 4.5h.1m-1.1 3.5h.1m-0.1 5h.1m-0.1 4.5h.1m0.4 8h.1m0.4 7.5h.1m-0.1 5h.1m-0.1 4.5h.1m-0.6 4.5h.1m-0.1 11.5h.1m-0.1 4h.1m6.9 -121.5h.1m-0.6 8.5h.1m-0.1 33h.1m0.4 34.5h.1m-0.6 20h.1m-0.1 4h.1m-0.1 6h.1m-2.6 15h.1m-0.6 3.5h.1m0.4 4h.1m-0.1 9h.1m0.4 5h.1m-0.6 4h.1m0.4 3.5h.1m-1.1 3.5h.1m-0.6 4.5h.1m4.4 -162.5h.1m-0.1 8.5h.1m-0.1 9h.1m-0.6 3.5h.1m0.9 8.5h.1m-0.1 9h.1m-1.1 3h.1m0.4 9h.1m0.4 4.5h.1m-0.6 4.5h.1m-0.1 3h.1m-0.6 5h.1m0.4 4.5h.1m-0.1 4h.1m-0.6 17h.1m0.4 5h.1m2.4 6.5h.1m-2.6 13.5h.1m-0.1 4.5h.1m2.9 0.5h.1m-3.6 2.5h.1m3.4 8h.1m4.4 -131h.1m-0.6 4h.1m0.4 9h.1m-0.6 16.5h.1m0.4 9h.1m-0.1 24.5h.1m-0.6 8.5h.1m-0.1 4h.1m-0.1 9.5h.1m0.4 3.5h.1m-0.1 12h.1m-4.1 15.5h.1m0.4 8h.1m-0.1 2.5h.1m0.4 13h.1m5.9 -170.5h.1m-1.1 25.5h.1m1.9 3h.1m-1.1 4h.1m0.4 5h.1m-3.6 2.5h.1m3.9 1.5h.1m-4.1 6.5h.1m2.9 2h.1m-2.6 2.5h.1m2.9 1h.1m-0.1 9.5h.1m-0.1 4h.1m-0.1 4h.1m-0.1 4h.1m-0.6 4.5h.1m-3.1 3h.1m3.4 8.5h.1m0.4 9.5h.1m-0.6 3.5h.1m0.4 12.5h.1m-1.1 4h.1m-2.6 8h.1m2.4 1.5h.1m-0.6 4.5h.1m-2.1 2h.1m2.9 2.5h.1m-0.1 2h.1m-3.6 8.5h.1m3.9 -104h.1m-0.1 80h.1m3.4 4h.1m-1.6 7.5h.1m1.4 8.5h.1m0.4 14h.1m2.4 -135.5h.1m-0.1 6h.1m0.4 8.5h.1m-0.1 4h.1m-1.1 5h.1m0.4 3.5h.1m-0.1 25h.1m0.4 4h.1m-0.6 13h.1m-0.6 8.5h.1m-0.1 3.5h.1m0.4 5h.1m0.4 3.5h.1m-0.6 5h.1m-0.1 4h.1m-0.1 8h.1m1.4 5.5h.1m-0.6 4h.1m-2.1 8h.1m1.9 3.5h.1m-3.6 4h.1m1.9 4h.1m-0.1 4.5h.1m1.4 4h.1m0.4 5.5h.1m2.9 -136.5h.1m-0.1 12.5h.1m-0.1 25h.1m-0.1 4h.1m-0.1 9h.1m0.4 34h.1m-0.1 3h.1m-0.6 5.5h.1m-1.6 12.5h.1m1.4 8h.1m-0.1 3.5h.1m-1.1 4.5h.1m-0.1 3.5h.1m1.4 5h.1m-1.1 3.5h.1m-0.1 5.5h.1m2.9 4.5h.1m0.4 12.5h.1m-1.1 7.5h.1m0.4 8.5h.1m0.4 6h.1m0.9 11.5h.1m-0.6 25h.1m-0.1 9.5h.1m0.4 3h.1m-0.6 4.5h.1m3.4 -80.5h.1m-0.1 9h.1m-0.1 7.5h.1m0.4 5h.1m0.4 4h.1m-0.6 4h.1m-0.6 4.5h.1m0.4 3.5h.1m-0.6 9h.1m-1.1 3h.1m0.9 6h.1m2.9 -84.5h.1m-0.1 7.5h.1m0.4 14.5h.1m-0.6 6.5h.1m0.9 4.5h.1m0.4 4.5h.1m-0.6 8.5h.1m-0.1 13h.1m-0.1 4.5h.1m0.4 2.5h.1m-0.1 10.5h.1m-0.1 3.5h.1m2.4 -57.5h.1m0.4 5h.1m-0.6 13.5h.1m-0.1 3.5h.1m1.4 4h.1m-1.1 4h.1m-0.6 4.5h.1m-0.6 4h.1m0.4 4.5h.1m2.9 -20h.1m0.4 21h.1m-0.6 4.5h.1m0.4 4h.1m1.4 9h.1m-1.6 4.5h.1m3.4 0.5h.1m-2.1 3h.1m-1.1 3.5h.1m0.4 5h.1m-0.1 9.5h.1m196.4 -253.5h.1m-0.6 15h.1m0.9 18.5h.1m-0.1 8h.1m-0.6 4.5h.1m0.4 25.5h.1m-0.6 2h.1m0.4 14h.1m-0.1 16.5h.1m-0.1 5h.1m-0.1 33h.1m-0.1 7.5h.1m-0.1 14h.1m-0.1 41.5h.1"/>
<path stroke="#601f65" d="M241 414h.1m3.4 -32h.1m-0.1 16h.1m0.4 12.5h.1m-0.1 4.5h.1m-0.6 3h.1m8.4 -71.5h.1m-0.6 2.5h.1m0.4 10h.1m-0.6 15.5h.1m0.4 4h.1m3.4 -40h.1m-0.1 41h.1m-0.6 9h.1m0.4 4.5h.1m-1.1 4.5h.1m0.9 8h.1m-0.6 4.5h.1m3.9 -56h.1m-1.1 48h.1m-0.1 5.5h.1m6.9 -168h.1m-2.6 5.5h.1m-0.6 4h.1m0.4 2.5h.1m2.4 3.5h.1m-3.6 5.5h.1m-0.1 5.5h.1m1.4 12h.1m-0.1 4.5h.1m-0.1 4.5h.1m-1.6 3.5h.1m0.4 7.5h.1m-0.1 4.5h.1m0.4 4.5h.1m0.4 5.5h.1m-1.6 3.5h.1m0.4 4.5h.1m0.4 3.5h.1m-1.6 7.5h.1m0.4 13.5h.1m3.9 -136h.1m-0.1 4h.1m-0.1 55h.1m-0.6 18h.1m-0.1 16h.1m3.4 78h.1m-2.1 22h.1m-0.1 5.5h.1m1.4 5h.1m0.4 5.5h.1m1.9 -185h.1m-0.1 38.5h.1m1.9 27h.1m-2.6 6.5h.1m-0.1 3.5h.1m-0.6 9.5h.1m0.4 15.5h.1m-0.6 8.5h.1m2.9 11.5h.1m0.4 8h.1m-3.6 1h.1m-0.1 10h.1m3.4 23.5h.1m-3.1 8.5h.1m-1.1 4.5h.1m4.9 -117.5h.1m2.4 13h.1m-2.6 6.5h.1m2.9 1h.1m-3.1 3h.1m2.9 6.5h.1m-0.1 11.5h.1m-0.1 3.5h.1m-2.6 1h.1m-1.6 3.5h.1m0.9 3h.1m2.4 2h.1m-2.6 3.5h.1m2.9 1.5h.1m-1.1 2.5h.1m-2.1 5h.1m2.9 7.5h.1m-3.6 8.5h.1m0.9 4h.1m-0.1 4.5h.1m-1.1 8h.1m2.4 0.5h.1m0.9 5h.1m-4.1 14h.1m0.4 5h.1m-0.6 3h.1m4.9 -140.5h.1m-0.6 4h.1m-0.1 14h.1m-0.1 3.5h.1m-0.1 8h.1m0.4 18h.1m2.4 2h.1m-3.1 1h.1m2.4 2.5h.1m0.4 4.5h.1m-0.6 13.5h.1m-2.6 9h.1m-0.1 13.5h.1m2.4 7h.1m-3.1 2h.1m3.9 9h.1m-0.1 5.5h.1m3.9 -311h.1m-0.6 30.5h.1m0.4 4h.1m-0.6 8.5h.1m-0.1 5h.1m-0.1 12h.1m-0.1 9h.1m0.4 4h.1m-0.6 12h.1m-0.1 12.5h.1m0.4 30h.1m-3.6 23.5h.1m-0.1 4h.1m0.4 10h.1m2.9 3.5h.1m-3.6 17h.1m-0.1 4.5h.1m-0.6 8h.1m0.4 12.5h.1m1.9 55h.1m-0.1 25.5h.1m0.4 8.5h.1m0.9 -188.5h.1m0.4 21h.1m-0.6 12.5h.1m0.4 38.5h.1m2.4 75.5h.1m-0.6 3h.1m-0.6 5h.1m1.4 4h.1m-0.1 3h.1m-0.1 5h.1m-0.6 9h.1m0.9 8h.1m1.9 -169.5h.1m0.4 5h.1m0.4 4.5h.1m-0.6 4h.1m0.4 21.5h.1m-0.1 41.5h.1m0.4 13h.1m-0.1 12h.1m0.4 4h.1m-0.1 8h.1m-4.1 68.5h.1m5.4 -122h.1m0.9 4.5h.1m0.4 7h.1m-0.6 5h.1m0.4 3h.1m-0.1 5.5h.1m-0.1 8h.1m-0.6 12h.1m2.9 -91h.1m-0.1 33.5h.1m0.4 4h.1m-0.1 29.5h.1m-0.1 5h.1m0.4 8.5h.1m-0.1 13h.1m-0.1 3h.1m-0.1 12.5h.1m3.9 -102.5h.1m-0.6 8.5h.1m-0.1 8h.1m0.4 5.5h.1m-1.6 4.5h.1m0.9 3.5h.1m-0.1 4h.1m0.9 4h.1m2.4 -152.5h.1m0.4 8.5h.1m-0.1 4.5h.1m-0.6 3.5h.1m0.4 8.5h.1m-0.1 13h.1m-0.6 4h.1m0.9 4.5h.1m-1.1 4.5h.1m0.4 8.5h.1m-0.1 3.5h.1m-0.1 4h.1m-0.6 5h.1m-0.1 4h.1m-0.1 15.5h.1m-0.1 13.5h.1m-1.1 3.5h.1m-0.1 17h.1m0.4 13.5h.1m4.4 9h.1m-0.1 7h.1m-0.1 10.5h.1m-0.6 12.5h.1m0.9 2.5h.1m-0.6 5h.1m4.9 -197h.1m-1.1 10h.1m-0.1 7.5h.1m-0.1 5h.1m-0.6 4h.1m0.4 8.5h.1m-0.6 4.5h.1m-0.1 4h.1m-0.6 8h.1m0.4 13h.1m-0.1 8h.1m-0.1 4.5h.1m-0.6 8h.1m0.9 4h.1m-0.6 5.5h.1m-0.1 12h.1m0.4 4h.1m-0.6 3.5h.1m0.4 8.5h.1m2.4 7.5h.1m-3.1 0.5h.1m2.9 8h.1m-3.1 0.5h.1m2.9 7.5h.1m1.4 -130.5h.1m2.4 3h.1m-0.1 30h.1m-3.1 9h.1m0.4 38h.1m-0.1 3.5h.1m-0.1 4h.1m1.9 0h.1m4.4 -94.5h.1m-4.1 2h.1m3.9 3h.1m-3.1 9h.1m-0.1 5h.1m-0.1 3h.1m2.9 3h.1m-3.1 2.5h.1m-0.6 4h.1m-0.1 12.5h.1m-0.6 4h.1m0.4 4.5h.1m2.9 15.5h.1m-2.6 1h.1m-1.1 4.5h.1m0.9 4h.1m2.4 3h.1m-3.1 1h.1m0.4 16.5h.1m-0.6 3.5h.1m0.4 5h.1m2.4 3.5h.1m-3.6 1h.1m0.4 4.5h.1m0.4 3h.1m1.9 4h.1m0.4 4.5h.1m0.4 -113.5h.1m0.4 28.5h.1m-0.6 4h.1m0.4 4.5h.1m-0.1 21.5h.1m-0.6 21.5h.1m5.4 -100h.1m-1.6 13.5h.1m0.4 13h.1m-0.1 4h.1m-0.6 9h.1m-0.1 16.5h.1m-0.1 21h.1m0.4 8h.1m-0.1 5h.1m-0.1 16h.1m-0.6 14h.1m6.9 -112.5h.1m-0.1 4.5h.1m-0.1 8h.1m-0.1 4.5h.1m-0.1 8h.1m-0.1 8h.1m-0.1 38.5h.1m-0.1 11.5h.1m-0.1 18h.1m-0.6 4.5h.1m-0.1 2.5h.1m3.9 -108.5h.1m-0.1 3.5h.1m0.4 8.5h.1m0.4 4.5h.1m-0.6 8h.1m-0.1 13.5h.1m-0.1 8.5h.1m-0.1 3h.1m-0.1 4.5h.1m-0.6 9h.1m0.4 4h.1m0.4 4.5h.1m-1.1 3h.1m-0.1 5h.1m0.4 4h.1m-0.1 12.5h.1m-3.1 1.5h.1m3.4 2h.1m-0.6 4.5h.1m-0.1 8.5h.1m-0.1 5h.1m0.9 3h.1m2.4 -118h.1m-0.1 16h.1m-0.1 5h.1m0.4 4h.1m-0.1 17h.1m-0.6 20.5h.1m-0.1 16.5h.1m7.4 -104h.1m-0.6 1.5h.1m0.9 21h.1m-0.6 4h.1m-0.1 3.5h.1m-0.1 4.5h.1m0.4 4.5h.1m-1.1 4.5h.1m-0.1 4h.1m0.9 8.5h.1m-0.1 3.5h.1m-0.1 5h.1m-0.6 4h.1m-0.1 3.5h.1m-0.1 9.5h.1m-0.6 3h.1m-0.1 9.5h.1m0.9 3.5h.1m-0.1 4h.1m-0.1 8h.1m-0.6 4.5h.1m0.4 4.5h.1m-0.1 4h.1m6.4 -16h.1m14.4 -96h.1m0.4 11h.1m-3.6 5h.1m3.4 4h.1m-4.1 8h.1m-0.1 16h.1m3.9 12.5h.1m-3.6 0.5h.1m3.4 4h.1m-3.6 12.5h.1m-0.6 5h.1m0.4 3.5h.1m-0.6 4.5h.1m0.4 3.5h.1m3.4 5.5h.1m-0.1 7h.1m-4.1 1.5h.1m3.4 3.5h.1m-0.1 9h.1m0.4 -93.5h.1m3.4 7.5h.1m-0.1 16.5h.1m-3.6 2h.1m3.4 7h.1m0.4 12h.1m-0.1 13h.1m-0.6 4.5h.1m-0.1 24.5h.1m-0.6 16.5h.1m10.4 -131h.1m13.4 22.5h.1m-0.1 5h.1m-0.1 8h.1m-0.1 63.5h.1m3.9 51h.1m2.9 -145h.1m-0.6 10h.1m-0.1 4h.1m0.4 8.5h.1m-0.1 4h.1m-0.1 4h.1m-0.6 8h.1m-0.1 8.5h.1m-0.1 4.5h.1m0.4 4.5h.1m-0.6 8.5h.1m-0.1 7.5h.1m-0.6 4.5h.1m0.9 4.5h.1m-0.6 3.5h.1m0.9 5h.1m-0.6 16h.1m-1.1 4h.1m0.9 4.5h.1m0.4 4.5h.1m-1.6 5h.1m0.9 6.5h.1m-1.1 10.5h.1m8.4 -133.5h.1m-0.6 17h.1m0.4 3h.1m-0.1 76.5h.1m-0.1 4.5h.1m6.4 -36.5h.1m2.4 -73h.1m-1.6 4.5h.1m-1.1 5.5h.1m0.9 4h.1m-0.1 4.5h.1m-1.1 8.5h.1m0.9 3.5h.1m-0.6 4.5h.1m-0.1 13h.1m-0.6 4h.1m0.4 4.5h.1m-0.6 4.5h.1m0.9 3h.1m-0.1 4h.1m-0.1 8.5h.1m-0.1 5.5h.1m-0.6 4.5h.1m-0.1 2.5h.1m0.4 4.5h.1m-0.6 5h.1m0.4 4h.1m-0.6 5h.1m0.9 2.5h.1m-0.6 9.5h.1m-1.1 7h.1m-0.1 5.5h.1m7.4 -122h.1m-0.1 4h.1m0.4 38h.1m-0.1 8.5h.1m-0.6 5h.1m-0.1 3.5h.1m-0.6 33.5h.1m-0.1 4h.1m0.9 -87h.1m0.4 4h.1m-0.1 3.5h.1m-0.6 12.5h.1m-0.1 8.5h.1m-0.1 29.5h.1m0.4 4.5h.1m-0.1 4.5h.1m-0.1 4.5h.1m0.4 4h.1m10.9 -4.5h.1m3.4 -85h.1m-0.1 10.5h.1m-0.6 25h.1m0.4 9h.1m-0.1 4h.1m-0.1 25h.1m-1.6 30.5h.1m4.4 -105h.1m-0.6 10h.1m0.4 8h.1m-0.1 5h.1m-0.1 16h.1m-0.1 4.5h.1m-0.1 4h.1m0.4 21.5h.1m-1.1 4h.1m0.4 4h.1m-0.1 4h.1m-0.1 4h.1m-0.1 5h.1m3.4 25.5h.1m-0.6 14h.1m-0.1 7h.1m0.4 4.5h.1m-0.1 9h.1m0.4 4h.1m-0.1 8.5h.1m0.4 4.5h.1m-0.1 6.5h.1m-0.1 23h.1m0.4 3.5h.1m0.4 -198h.1m2.4 108h.1m-0.1 9h.1m-0.6 10h.1m-0.6 2.5h.1m0.4 4h.1m-0.6 5h.1m0.9 4h.1m-1.6 4h.1m0.4 4.5h.1m-0.6 4.5h.1m-0.1 13h.1m3.9 -147h.1m0.4 20.5h.1m-0.1 8.5h.1m-0.6 3.5h.1m-0.1 5h.1m0.4 16h.1m-0.1 4h.1m-0.1 5h.1m-0.1 3.5h.1m-0.1 9h.1m-1.1 7.5h.1m0.4 6h.1m0.9 8h.1m0.4 8.5h.1m-0.6 3.5h.1m-0.6 7.5h.1m0.9 8.5h.1m-0.6 6h.1m0.4 7.5h.1m1.9 -49h.1m0.9 17h.1m-0.1 5h.1m0.9 5h.1m-1.1 4h.1m-1.1 3h.1m-0.1 5h.1m-0.1 3h.1m3.9 -9.5h.1m-0.6 4h.1m0.4 16.5h.1m-0.1 4h.1m0.4 8h.1m0.9 9h.1m-1.1 5.5h.1m-0.1 2h.1m2.9 2.5h.1m-3.1 2.5h.1m2.9 11h.1m-2.1 7h.1m195.4 -219.5h.1m0.4 32h.1m-0.1 25.5h.1m-0.6 16.5h.1m0.4 13.5h.1m-0.6 5h.1m0.4 32.5h.1m-0.1 45h.1m-0.1 13.5h.1m250.9 -187h.1m-0.1 4h.1m-0.6 8.5h.1m0.4 9h.1m-0.6 3.5h.1m0.4 9.5h.1m-0.6 4h.1m0.4 4h.1m-0.6 4h.1m-0.1 21.5h.1m0.4 8h.1m-0.6 25.5h.1m0.4 15.5h.1m-0.6 5h.1m-0.1 13h.1m0.4 3.5h.1m0.4 9.5h.1m-0.6 2.5h.1m0.4 4.5h.1m-0.6 18h.1m0.4 7h.1m-1.1 5h.1m-0.1 46.5h.1m0.9 8.5h.1m-1.1 9h.1m12.9 -109.5h.1m-0.1 15.5h.1m-0.1 60.5h.1"/>
<path stroke="#5a1c5b" d="M214.5 436h.1m5.4 -37h.1m-0.1 4.5h.1m-1.6 17.5h.1m0.9 3.5h.1m-0.1 4.5h.1m0.4 10h.1m-0.6 4h.1m0.4 7h.1m2.9 -31h.1m2.4 3h.1m-0.6 3h.1m7.4 -53.5h.1m-0.1 7h.1m-0.1 13.5h.1m-0.1 3.5h.1m4.9 -30.5h.1m-0.1 4.5h.1m0.4 12.5h.1m-3.6 35.5h.1m6.4 -107.5h.1m-0.6 29h.1m0.4 4h.1m-0.1 4h.1m-3.1 5.5h.1m2.9 11h.1m-0.6 4.5h.1m-0.6 8.5h.1m0.9 4.5h.1m-0.1 3h.1m-0.1 4.5h.1m-0.1 8.5h.1m-2.6 5h.1m1.4 0.5h.1m-2.1 19.5h.1m-0.1 5.5h.1m6.4 -139.5h.1m-0.6 8.5h.1m-0.1 17.5h.1m0.9 8.5h.1m-1.6 13h.1m0.4 4h.1m0.9 3h.1m-0.1 5h.1m-1.1 5h.1m1.4 3.5h.1m-1.6 4h.1m0.9 3.5h.1m-0.1 5h.1m-1.1 5.5h.1m1.4 2.5h.1m-0.6 12.5h.1m-0.1 4h.1m0.4 9.5h.1m1.9 -59.5h.1m-0.1 8h.1m1.4 4h.1m-1.6 14h.1m1.4 2.5h.1m-0.6 4h.1m-0.1 4.5h.1m-0.1 9h.1m-0.6 7h.1m1.4 10.5h.1m-0.6 4.5h.1m-1.1 8.5h.1m4.9 -157.5h.1m-0.6 7.5h.1m0.4 4h.1m-0.6 9h.1m0.4 9h.1m-0.6 3h.1m0.4 13.5h.1m-0.1 4h.1m-0.6 4.5h.1m-0.1 4.5h.1m-0.1 2.5h.1m-1.6 38.5h.1m0.4 5h.1m0.4 5h.1m-1.1 19.5h.1m-0.1 18.5h.1m-0.1 8.5h.1m-0.1 9h.1m0.4 4h.1m-0.6 8.5h.1m4.9 -197.5h.1m-0.1 28.5h.1m-0.1 7.5h.1m0.4 6h.1m-0.1 7.5h.1m-2.1 8.5h.1m1.9 4h.1m-0.1 5h.1m-1.6 8h.1m0.9 3.5h.1m0.4 5h.1m-1.1 16h.1m-0.6 4h.1m0.4 5.5h.1m-0.1 8.5h.1m-0.6 2h.1m-0.1 6h.1m4.9 -119.5h.1m-0.1 8.5h.1m-0.6 4h.1m-0.1 3.5h.1m-0.1 4h.1m0.9 5.5h.1m-1.1 12.5h.1m0.4 13h.1m0.4 4h.1m-0.1 7h.1m-1.1 10h.1m-0.1 8.5h.1m-0.1 4.5h.1m-0.6 4h.1m-0.6 3.5h.1m0.9 3.5h.1m-0.1 4.5h.1m-1.1 21.5h.1m0.4 4h.1m6.4 -264h.1m-3.1 3h.1m0.4 5h.1m0.4 3.5h.1m-1.1 4h.1m0.9 5.5h.1m-0.1 3.5h.1m-0.1 4.5h.1m-0.6 12.5h.1m-0.1 3.5h.1m0.9 5.5h.1m-0.6 3.5h.1m-0.6 17h.1m-0.1 4.5h.1m-0.6 3h.1m-0.1 5.5h.1m0.9 3.5h.1m0.4 9h.1m-0.1 3h.1m-0.1 5.5h.1m-1.6 4h.1m1.4 4.5h.1m-2.1 4h.1m1.9 8h.1m-0.6 3.5h.1m2.9 -122h.1m2.9 158.5h.1m-2.1 1.5h.1m2.4 18h.1m-3.1 19.5h.1m2.9 7.5h.1m-0.6 4.5h.1m0.4 2.5h.1m-3.1 6h.1m2.9 3h.1m-2.6 6h.1m-0.6 7.5h.1m-0.1 9.5h.1m0.9 8.5h.1m-1.1 2.5h.1m0.4 5.5h.1m-1.1 17h.1m4.9 -302.5h.1m-1.1 23.5h.1m0.4 3.5h.1m-0.6 5h.1m-0.1 8.5h.1m0.4 4.5h.1m-1.1 3h.1m0.4 18h.1m0.4 3.5h.1m-1.1 4.5h.1m0.4 13h.1m0.4 4h.1m-0.6 7.5h.1m-0.1 13h.1m0.4 4h.1m-0.1 8h.1m-0.1 4h.1m2.4 11.5h.1m-2.6 11h.1m-0.6 21h.1m3.4 5.5h.1m-0.1 5.5h.1m-3.6 9.5h.1m-0.1 4.5h.1m0.4 3.5h.1m-0.1 8h.1m5.9 -199h.1m-0.1 7h.1m-0.6 1h.1m1.4 10h.1m-0.6 21.5h.1m-0.1 8.5h.1m0.4 7.5h.1m-0.6 4.5h.1m-0.1 13.5h.1m-0.1 3h.1m-0.1 4.5h.1m-0.1 8h.1m-2.6 4.5h.1m2.9 8h.1m-0.6 10h.1m-2.6 2h.1m1.9 1.5h.1m-1.6 3h.1m2.4 0.5h.1m-2.6 20.5h.1m-1.1 5.5h.1m3.4 0h.1m-3.6 2h.1m0.4 14h.1m-0.6 3h.1m2.9 9.5h.1m-2.6 9h.1m1.9 3.5h.1m0.4 5.5h.1m-2.6 2.5h.1m-0.6 7.5h.1m-0.6 22.5h.1m0.4 4h.1m4.9 -250.5h.1m-1.6 37h.1m0.4 8h.1m-0.6 5h.1m-0.1 4h.1m0.4 20.5h.1m-0.1 12.5h.1m-0.6 20.5h.1m0.4 9.5h.1m0.4 4.5h.1m-0.6 8h.1m2.9 15h.1m-3.6 7h.1m2.9 1.5h.1m-2.6 0.5h.1m2.9 12.5h.1m-0.1 8h.1m-3.1 2h.1m2.4 6.5h.1m-3.1 6.5h.1m3.9 10h.1m-0.6 8.5h.1m-0.1 4.5h.1m-0.1 8.5h.1m-0.6 8h.1m-0.1 9h.1m-0.1 3.5h.1m0.9 -197.5h.1m-0.1 12.5h.1m-0.1 21h.1m0.4 4.5h.1m-0.1 21h.1m-0.6 4.5h.1m0.4 4h.1m-0.1 8h.1m-0.1 5h.1m2.4 68.5h.1m0.4 3h.1m-0.1 9.5h.1m-0.6 16h.1m-0.6 4h.1m0.9 5h.1m-1.1 25h.1m-0.1 8.5h.1m-0.1 12h.1m0.4 5h.1m2.4 -269.5h.1m-0.6 13.5h.1m1.4 138.5h.1m0.9 12.5h.1m-1.1 3h.1m0.4 5h.1m0.4 4.5h.1m-0.6 4.5h.1m-1.1 4.5h.1m1.4 7.5h.1m-0.1 20.5h.1m-0.1 13.5h.1m0.4 4h.1m-1.1 3.5h.1m-1.1 5.5h.1m0.4 3h.1m-0.6 4h.1m3.9 -258.5h.1m-1.1 22h.1m1.4 13.5h.1m-0.1 26h.1m-0.1 8.5h.1m-0.1 3.5h.1m-0.6 13h.1m0.4 16h.1m-0.1 8.5h.1m-0.1 5.5h.1m0.9 41.5h.1m-3.6 10h.1m2.9 1.5h.1m0.9 8.5h.1m-1.1 10h.1m2.9 -42.5h.1m1.4 5h.1m-0.6 7h.1m-0.6 9.5h.1m0.4 3h.1m-1.6 9h.1m1.4 4h.1m-0.1 3.5h.1m2.9 -133.5h.1m-0.1 26h.1m-0.1 13h.1m-0.6 17h.1m0.4 19.5h.1m0.4 35h.1m0.4 3.5h.1m-1.1 4h.1m-0.1 5.5h.1m4.9 -150.5h.1m-2.1 0.5h.1m-0.6 0h.1m1.9 8h.1m-0.1 4.5h.1m-0.6 4h.1m0.4 5h.1m-0.6 3.5h.1m-0.1 9h.1m-0.1 12h.1m-0.1 4.5h.1m-0.6 5h.1m0.9 3h.1m-1.1 5h.1m-0.1 7.5h.1m-0.1 4.5h.1m0.9 5h.1m-0.1 4h.1m-0.1 4.5h.1m-1.1 3.5h.1m0.9 8.5h.1m-1.6 4.5h.1m0.4 4h.1m0.4 3.5h.1m-0.6 4h.1m-0.6 4h.1m-0.1 9h.1m6.4 -147.5h.1m-2.6 33h.1m1.4 76h.1m-1.6 17.5h.1m6.9 -117.5h.1m-3.1 20.5h.1m-0.1 26h.1m-0.6 37h.1m-0.1 17.5h.1m1.4 7.5h.1m-0.1 5h.1m-0.1 3.5h.1m-1.1 30h.1m0.4 4.5h.1m-0.1 4h.1m0.4 4h.1m5.4 -145.5h.1m-3.1 75.5h.1m22.4 -62.5h.1m0.4 12h.1m0.4 17.5h.1m-0.6 4h.1m-0.1 4h.1m0.4 3.5h.1m-0.6 4.5h.1m0.4 12.5h.1m-0.1 8h.1m-1.1 12.5h.1m67.9 -98h.1m-0.6 17h.1m-0.1 4h.1m-0.1 8.5h.1m-0.1 4h.1m1.4 -33h.1m3.4 2h.1m41.9 -18.5h.1m0.4 24.5h.1m-0.1 9h.1m-0.1 3h.1m0.4 5h.1m-1.1 20.5h.1m0.4 4h.1m-0.1 9.5h.1m-0.6 25h.1m0.4 4h.1m-0.6 8h.1m0.9 9.5h.1m-0.1 3.5h.1m0.4 4h.1m-0.6 21h.1m0.4 13h.1m2.9 -135h.1m0.4 4h.1m-0.6 3.5h.1m-0.6 5h.1m-0.1 4h.1m-0.1 4.5h.1m0.9 8.5h.1m-0.1 4.5h.1m-0.1 4h.1m-0.6 4.5h.1m-0.1 4h.1m0.4 4h.1m-0.6 8.5h.1m-0.1 3h.1m-0.1 4.5h.1m-0.6 4.5h.1m0.4 4.5h.1m-1.1 4h.1m1.4 4h.1m-0.1 3.5h.1m-1.1 5h.1m-0.1 13h.1m-0.1 7.5h.1m4.9 -117.5h.1m-0.6 4h.1m-0.1 9.5h.1m-0.1 8h.1m-0.1 12.5h.1m-0.1 8h.1m-0.1 21.5h.1m0.4 33.5h.1m3.4 -94h.1m-0.6 8.5h.1m-0.1 4h.1m-0.6 4.5h.1m0.4 4h.1m-0.1 8.5h.1m0.4 4h.1m-0.1 5h.1m-1.1 4h.1m0.4 4h.1m-0.6 4.5h.1m0.4 4h.1m-0.6 8.5h.1m-0.1 4h.1m-0.1 4.5h.1m0.4 3.5h.1m-1.1 12h.1m0.9 4.5h.1m0.4 4h.1m-0.6 5.5h.1m2.9 -82.5h.1m-0.1 21h.1m-0.1 13h.1m-0.1 7h.1m-0.1 5.5h.1m-0.6 32.5h.1m1.9 21.5h.1m-1.6 3.5h.1m0.9 5.5h.1m-0.6 17h.1m0.9 3.5h.1m-0.1 3.5h.1m1.9 2h.1m-3.1 10.5h.1m196.4 -196h.1m-0.1 64.5h.1m-0.1 9.5h.1m-0.1 7h.1m-0.1 17.5h.1m-0.1 30.5h.1m-0.6 12h.1m-0.1 9h.1m-0.1 19.5h.1m0.4 4h.1m-0.1 35h.1m-0.1 3h.1m-0.1 5h.1m-1.1 19.5h.1m244.4 -220.5h.1m0.4 5h.1m-0.1 4.5h.1m0.4 8h.1m-0.1 8.5h.1m-0.6 4h.1m-0.1 4h.1m0.4 4h.1m-1.1 8.5h.1m0.9 5h.1m-0.6 8h.1m0.4 3.5h.1m-0.6 8.5h.1m-0.1 4h.1m-0.1 5h.1m0.4 4h.1m-0.6 4h.1m-0.1 4h.1m-0.1 5h.1m0.4 4h.1m-0.1 13h.1m-0.1 3.5h.1m-1.1 4.5h.1m0.4 3.5h.1m-0.1 13.5h.1m0.4 12h.1m-0.6 9h.1m-0.1 4.5h.1m2.4 10h.1m-1.6 10.5h.1m-1.1 21.5h.1m-0.1 8.5h.1m2.4 6.5h.1m-1.6 2h.1m-0.6 4h.1m-0.6 4h.1m0.4 3.5h.1m-0.6 9.5h.1m3.4 -247.5h.1m0.4 6.5h.1m-1.1 3h.1m3.4 3h.1m-3.1 2h.1m0.4 4h.1m-0.6 4h.1m-0.6 3.5h.1m0.4 5h.1m2.9 1.5h.1m-2.6 2.5h.1m-1.1 4h.1m0.4 4.5h.1m-0.1 3.5h.1m-0.1 5h.1m0.4 4.5h.1m-1.1 4.5h.1m0.4 3h.1m-0.6 4h.1m0.9 4.5h.1m-1.1 4h.1m-0.1 4.5h.1m3.4 3h.1m-3.1 1h.1m2.9 2.5h.1m-3.1 3h.1m-0.6 3h.1m3.4 3h.1m-2.6 1.5h.1m-1.1 5h.1m0.4 3.5h.1m-0.6 4h.1m3.4 2.5h.1m-3.1 2.5h.1m2.9 2.5h.1m-2.6 6h.1m-1.1 3h.1m-0.1 5.5h.1m2.9 2h.1m-2.6 1.5h.1m-1.1 5h.1m1.9 4h.1m-0.6 3h.1m-0.6 4.5h.1m-0.1 5h.1m0.4 3.5h.1m1.9 6h.1m-2.6 2.5h.1m2.4 2.5h.1m-3.6 1.5h.1m1.9 9h.1m-2.1 4.5h.1m1.4 7.5h.1m-1.1 4.5h.1m-0.1 4.5h.1m2.9 2h.1m-3.1 2h.1m0.9 3h.1m2.4 2.5h.1m-3.6 3.5h.1m-0.1 2.5h.1m2.9 3h.1m-2.1 5.5h.1m0.4 4h.1m-0.6 4h.1m-1.1 5.5h.1m0.9 3h.1m-1.6 5h.1m0.4 4h.1m3.4 -233h.1m3.4 1h.1m-0.1 17h.1m-0.1 3.5h.1m-0.1 5h.1m-3.1 8h.1m-0.6 3h.1m3.9 0.5h.1m-0.6 4.5h.1m-3.1 0.5h.1m2.9 3.5h.1m-0.1 9.5h.1m-0.1 3.5h.1m-0.1 5h.1m-0.1 4h.1m-3.6 4h.1m3.4 0.5h.1m-0.1 4h.1m-3.6 3h.1m-0.1 8.5h.1m3.9 1h.1m-0.1 4h.1m-0.6 4.5h.1m-0.1 3.5h.1m-3.6 7.5h.1m3.4 9.5h.1m0.4 4.5h.1m-1.1 13h.1m-0.1 4h.1m0.4 3.5h.1m-3.6 0h.1m3.9 5h.1m-0.1 4.5h.1m-4.1 7h.1m3.9 9.5h.1m-4.1 2.5h.1m3.4 0.5h.1m-3.1 4h.1m3.4 1h.1m-4.1 3.5h.1m0.4 8.5h.1m2.9 5.5h.1m-0.6 4h.1m-2.6 7h.1m-0.6 12.5h.1m3.9 9.5h.1m-4.1 8.5h.1m3.4 4.5h.1m1.9 -270.5h.1m1.4 13h.1m0.4 4h.1m-0.6 4h.1m-0.1 4.5h.1m0.4 4h.1m-0.1 8.5h.1m-0.6 4.5h.1m-0.1 20.5h.1m-0.1 4h.1m-0.6 5h.1m0.9 7.5h.1m-0.1 4h.1m-0.6 5h.1m0.4 4h.1m-0.1 8h.1m-1.1 4.5h.1m0.4 8h.1m-0.1 4h.1m-0.1 5h.1m-0.6 12.5h.1m0.4 12.5h.1m-0.1 4h.1m0.4 5h.1m-0.6 4.5h.1m-0.6 3.5h.1m0.9 3.5h.1m-0.6 4.5h.1m0.4 5h.1m-0.1 4h.1m-1.1 13.5h.1m-0.1 11.5h.1m0.4 9.5h.1m-0.1 2h.1m-0.6 14.5h.1m0.4 4.5h.1m-0.6 3h.1m-0.1 9.5h.1m3.4 -84.5h.1m-0.1 37.5h.1m-0.1 30.5h.1m5.4 -225h.1m-0.6 9.5h.1m-0.1 26.5h.1m-0.1 87h.1m-0.1 5h.1m-0.1 29h.1m-0.1 25h.1m-0.1 9.5h.1m-0.1 6.5h.1m-0.1 27h.1m-0.1 8.5h.1m-0.1 8.5h.1m-0.1 4.5h.1m-0.1 3.5h.1m-0.1 7.5h.1"/>
<path stroke="#551951" d="M214 368h.1m-0.1 25h.1m-0.1 -62h.1m-0.1 8.5h.1m3.9 5h.1m-3.1 11h.1m0.4 5.5h.1m2.4 0.5h.1m-2.6 2h.1m-0.1 8.5h.1m-1.6 5h.1m0.9 4h.1m-0.6 4h.1m3.4 2.5h.1m-3.6 1.5h.1m0.4 9.5h.1m0.9 2.5h.1m-0.6 6h.1m-1.6 4h.1m1.9 2.5h.1m-1.1 4.5h.1m-0.1 4.5h.1m-0.1 5h.1m-0.1 4h.1m4.4 -115h.1m-0.6 3.5h.1m-0.6 4h.1m1.4 5h.1m-1.6 8h.1m0.9 4.5h.1m-0.1 7h.1m-0.1 6h.1m-1.1 2.5h.1m0.4 9.5h.1m-0.6 4h.1m0.4 3.5h.1m2.4 3h.1m-3.1 1.5h.1m-0.1 4h.1m2.9 2h.1m-3.1 6.5h.1m2.9 3h.1m-3.1 1.5h.1m-0.1 12.5h.1m2.9 3h.1m-3.1 1h.1m0.9 4h.1m1.9 35h.1m1.9 -146h.1m-0.1 8.5h.1m1.9 11.5h.1m-0.1 4h.1m-2.6 13.5h.1m2.4 7.5h.1m-0.6 20.5h.1m0.4 5.5h.1m-0.6 17h.1m-1.6 5.5h.1m-0.6 4.5h.1m-0.6 3.5h.1m-0.1 8h.1m-0.6 8.5h.1m0.4 4h.1m0.4 5h.1m-1.1 8h.1m-0.1 19.5h.1m3.9 3.5h.1m-3.6 9.5h.1m6.9 -139.5h.1m0.4 4h.1m-3.1 9.5h.1m2.4 2h.1m-0.1 13h.1m-2.6 1h.1m2.9 2.5h.1m-0.1 6h.1m-0.6 7.5h.1m-2.6 2.5h.1m-0.1 3h.1m1.9 7.5h.1m0.9 4.5h.1m-3.1 5.5h.1m1.9 3h.1m-0.1 12h.1m-2.1 1.5h.1m1.9 19.5h.1m-0.1 10.5h.1m-0.1 5h.1m3.4 -204.5h.1m-2.6 109.5h.1m0.9 30h.1m-0.6 20.5h.1m2.9 0.5h.1m-0.1 3.5h.1m-0.1 11h.1m-1.1 9.5h.1m0.4 9h.1m4.9 -186h.1m-0.6 15.5h.1m0.4 22h.1m-3.6 55.5h.1m-0.1 8h.1m1.9 4.5h.1m-2.6 4.5h.1m3.4 10.5h.1m-1.1 10h.1m0.9 4.5h.1m-0.6 3h.1m-0.1 5h.1m-3.1 5.5h.1m6.9 -280h.1m-0.1 12.5h.1m-0.6 12.5h.1m-0.6 72h.1m0.9 33.5h.1m-0.6 3.5h.1m-2.6 22.5h.1m1.9 2.5h.1m0.4 5.5h.1m-0.1 16h.1m-2.1 1h.1m-0.1 29h.1m-0.1 4.5h.1m2.9 15.5h.1m-0.1 5.5h.1m0.4 33.5h.1m-1.6 25.5h.1m-0.1 8h.1m-0.6 16.5h.1m-0.1 9h.1m4.4 -340.5h.1m-0.6 4.5h.1m0.4 3.5h.1m-0.1 4.5h.1m-0.1 3.5h.1m-0.6 8.5h.1m0.9 4h.1m-1.1 9.5h.1m0.4 8.5h.1m-0.1 4.5h.1m-0.1 3.5h.1m-0.6 12h.1m0.4 5h.1m0.4 4.5h.1m-1.1 20.5h.1m-0.1 5h.1m0.4 3.5h.1m-0.1 5h.1m0.9 3h.1m-1.1 5h.1m0.4 3.5h.1m-0.6 5h.1m-0.1 11h.1m0.9 6h.1m-1.1 8h.1m0.9 3.5h.1m-0.1 3.5h.1m-0.6 6h.1m0.4 3.5h.1m-0.6 3h.1m-0.1 21.5h.1m-3.1 105h.1m5.4 -181h.1m-0.1 9h.1m-0.1 9h.1m0.4 2.5h.1m-0.1 8h.1m0.4 5.5h.1m-0.6 8h.1m-0.1 5.5h.1m0.9 3h.1m-0.1 5.5h.1m-0.6 3.5h.1m-1.1 3h.1m0.9 8.5h.1m0.4 5.5h.1m-0.1 4h.1m-0.1 3.5h.1m-0.6 4.5h.1m-0.6 4.5h.1m0.9 3h.1m-0.6 5.5h.1m1.9 -251.5h.1m1.4 35.5h.1m-0.1 4.5h.1m0.4 4h.1m-0.1 13h.1m-0.1 4h.1m-0.1 12.5h.1m-0.1 4h.1m-0.1 26h.1m-0.6 11h.1m0.4 10h.1m-0.6 8h.1m-0.1 8.5h.1m0.9 20.5h.1m-1.1 12.5h.1m-0.1 33h.1m-0.1 43.5h.1m-0.1 4.5h.1m3.9 -218.5h.1m-0.6 4h.1m-0.6 5h.1m0.9 3h.1m-0.1 5h.1m-0.1 21h.1m0.4 8h.1m-0.6 4.5h.1m-0.6 8.5h.1m-0.6 8.5h.1m0.9 4h.1m-0.6 5h.1m-0.1 3h.1m0.4 13.5h.1m-1.1 2.5h.1m-0.1 8.5h.1m-0.1 6h.1m0.4 7h.1m-0.6 12.5h.1m-0.1 5h.1m0.4 8.5h.1m-0.6 5h.1m1.9 3h.1m2.9 -147.5h.1m-0.1 4h.1m-0.6 16h.1m-0.1 20.5h.1m0.4 5h.1m-0.6 13h.1m-0.6 3.5h.1m0.9 5h.1m-0.6 3h.1m0.4 8.5h.1m-0.6 17h.1m0.4 5.5h.1m-0.6 4h.1m-0.1 7.5h.1m-0.6 4h.1m0.9 5h.1m-0.1 4.5h.1m-1.6 50h.1m-0.1 29h.1m8.4 -203.5h.1m-0.1 4.5h.1m0.4 5h.1m-0.6 4h.1m2.9 16h.1m-0.1 4h.1m-3.1 0.5h.1m-0.1 8.5h.1m-0.1 4h.1m0.4 12.5h.1m-0.1 21h.1m-0.1 17h.1m2.4 19h.1m-2.6 7.5h.1m2.4 1.5h.1m-2.6 5.5h.1m2.4 8.5h.1m-2.6 0.5h.1m-1.1 21h.1m0.4 11.5h.1m-0.6 4.5h.1m6.9 -217h.1m0.4 34h.1m-0.1 5h.1m-0.1 16.5h.1m-0.6 4.5h.1m-0.1 7.5h.1m-0.1 13h.1m0.4 38.5h.1m-0.1 -76.5h.1m-0.1 5h.1m-0.1 4h.1m0.4 20.5h.1m-0.1 12.5h.1m-0.6 12.5h.1m0.4 8.5h.1m-0.1 5h.1m-0.6 32.5h.1m7.4 -110h.1m0.4 4.5h.1m-0.6 8h.1m-0.6 4.5h.1m0.9 8.5h.1m-0.6 13h.1m-0.6 12h.1m0.9 8h.1m-1.1 4.5h.1m0.4 16.5h.1m-0.6 17.5h.1m0.9 4.5h.1m-1.6 126.5h.1m2.9 -232.5h.1m1.4 27h.1m0.4 12.5h.1m-0.6 13h.1m0.4 5h.1m-0.1 11.5h.1m-0.1 8.5h.1m-0.6 4h.1m-0.1 12.5h.1m0.4 4h.1m-1.1 14h.1m0.9 2.5h.1m-0.6 9.5h.1m-0.1 3.5h.1m0.4 4h.1m-0.1 21.5h.1m2.4 -154h.1m0.9 7h.1m0.9 4h.1m-0.6 5h.1m-0.6 3.5h.1m-0.1 5h.1m0.4 3.5h.1m-0.1 8.5h.1m-0.6 4.5h.1m0.4 4h.1m-0.6 4.5h.1m0.4 3.5h.1m-0.6 12.5h.1m-0.1 4.5h.1m-0.1 5h.1m-0.1 3h.1m-0.1 9h.1m-0.6 3.5h.1m0.4 5h.1m0.4 3h.1m0.4 9.5h.1m-2.1 5h.1m0.4 3h.1m-0.6 4.5h.1m-0.1 3.5h.1m5.4 -114h.1m-0.6 4.5h.1m-0.1 5h.1m-0.1 4h.1m0.4 3.5h.1m-0.1 21h.1m-0.1 5h.1m-0.1 8h.1m-0.6 4.5h.1m-0.1 3.5h.1m-0.1 9.5h.1m-0.1 12.5h.1m0.4 8.5h.1m-0.6 19.5h.1m3.9 -113h.1m-0.6 5h.1m0.4 4h.1m-0.1 8.5h.1m-0.1 4h.1m-1.1 8h.1m0.4 4.5h.1m-0.1 5h.1m0.4 3h.1m-0.1 5.5h.1m-0.6 4h.1m0.4 16.5h.1m-0.6 4h.1m0.4 4h.1m-0.1 5h.1m-0.6 12.5h.1m-0.6 7h.1m4.9 -99h.1m-0.1 4.5h.1m-0.1 3.5h.1m-0.6 4.5h.1m-0.6 9h.1m-0.1 12.5h.1m0.9 3.5h.1m-0.6 9h.1m-0.1 17h.1m-0.1 3.5h.1m-0.6 8.5h.1m0.4 5h.1m0.4 15.5h.1m-1.1 4h.1m0.4 4h.1m-0.6 8.5h.1m2.4 -131.5h.1m8.4 17h.1m-0.1 8h.1m-0.1 3.5h.1m0.9 4.5h.1m-1.1 4h.1m0.4 5h.1m-0.1 12h.1m0.4 4.5h.1m-0.6 8.5h.1m0.4 21h.1m-0.1 4h.1m-0.6 3.5h.1m140.9 -75h.1m-0.1 17h.1m-0.1 4.5h.1m-0.1 20h.1m-0.1 8.5h.1m-0.1 4h.1m-0.1 5h.1m-0.1 8h.1m12.4 -104h.1m2.4 32.5h.1m-0.1 4h.1m-0.1 4.5h.1m-0.6 4h.1m-0.1 4.5h.1m0.4 8h.1m-0.6 8h.1m-0.1 5h.1m-0.1 8.5h.1m-0.1 24.5h.1m0.4 5h.1m-0.1 3h.1m-0.1 9.5h.1m2.4 4.5h.1m-2.1 4h.1m-0.1 8.5h.1m-0.6 3.5h.1m2.4 1h.1m-2.1 8h.1m4.9 -123h.1m-2.6 6h.1m-0.1 4.5h.1m0.9 4.5h.1m-0.6 4.5h.1m-0.6 4h.1m-0.6 4h.1m0.9 16.5h.1m2.9 1h.1m-3.6 4h.1m-0.1 4h.1m0.4 4.5h.1m-0.6 3.5h.1m-0.6 8h.1m3.9 1h.1m-2.6 3.5h.1m-0.6 5h.1m-0.1 3.5h.1m-0.1 4h.1m0.4 4.5h.1m-1.1 3.5h.1m-0.1 12.5h.1m0.4 5.5h.1m-0.1 20.5h.1m-0.6 25h.1m0.9 9.5h.1m-0.6 3.5h.1m-0.1 3h.1m-0.1 5h.1m-0.1 4.5h.1m0.4 3h.1m-0.1 5h.1m-0.1 8h.1m-1.1 5.5h.1m0.9 8h.1m1.9 0h.1m-1.6 5h.1m-2.1 2h.1m3.9 2h.1m-3.1 11h.1m0.9 5.5h.1m-0.6 4h.1m-1.1 4.5h.1m6.9 -23.5h.1m-0.6 4.5h.1m-0.1 3.5h.1m-0.6 4.5h.1m9.4 7h.1m-0.1 22.5h.1m0.4 -265h.1m-0.6 246.5h.1m0.4 8.5h.1m129.4 -238.5h.1m-0.6 4.5h.1m-0.1 21h.1m0.4 8h.1m-0.1 21.5h.1m0.4 146.5h.1m-0.6 13.5h.1m-0.1 3.5h.1m11.4 -262.5h.1m-0.6 0.5h.1m-0.6 34.5h.1m-0.1 4h.1m-0.1 3.5h.1m0.4 4h.1m4.4 -20.5h.1m1.9 12.5h.1m-0.1 3.5h.1m-0.1 5h.1m-0.1 4.5h.1m-0.1 28h.1m-0.6 118h.1m-0.1 25h.1m0.4 4h.1m-0.1 5.5h.1m-0.6 21h.1m7.9 -159h.1m-0.1 3.5h.1m-0.6 29h.1m-0.1 22h.1m-0.1 72.5h.1m-0.1 12.5h.1m1.4 29h.1m3.4 -250h.1m-3.6 211.5h.1m-0.1 13h.1m-0.1 4h.1m-0.1 12.5h.1m-0.1 4.5h.1m20.4 -186h.1m0.4 64.5h.1m-0.1 3.5h.1m-0.6 16h.1m-0.1 9h.1m0.4 20h.1m-0.1 5.5h.1m-0.6 7.5h.1m-0.1 4.5h.1m-0.1 24.5h.1m244.4 -195h.1m-0.1 8h.1m-0.1 34.5h.1m-0.1 76h.1m-0.1 4h.1m-0.6 7.5h.1m0.4 4h.1m-0.6 22h.1m-0.1 20.5h.1m0.4 12h.1m-0.1 9.5h.1m10.9 -209h.1m-0.1 8.5h.1m-0.1 4h.1m3.4 6.5h.1m-3.1 1h.1m-0.1 5h.1m-0.6 4h.1m3.4 4h.1m-3.6 13h.1m-0.1 4.5h.1m3.9 11h.1m-0.6 21h.1m-0.1 12.5h.1m-3.6 1.5h.1m0.4 4h.1m3.4 11h.1m-0.6 4.5h.1m-3.1 5.5h.1m2.9 3.5h.1m-3.6 0h.1m0.4 4.5h.1m-0.1 13.5h.1m-0.1 29h.1m0.4 5h.1m-0.6 2.5h.1m0.4 16.5h.1m-0.1 5h.1m-1.1 4.5h.1m3.9 3.5h.1m-3.1 8.5h.1m-0.1 5h.1m-0.6 4.5h.1m2.9 3.5h.1m-3.1 5.5h.1m2.9 1.5h.1m-2.6 1h.1m-0.1 8h.1m2.4 1h.1m-0.1 16.5h.1m-0.1 3.5h.1m-0.1 4.5h.1m3.9 -272h.1m-0.1 4h.1m-1.1 4.5h.1m-0.1 4h.1m0.4 8.5h.1m0.4 3.5h.1m-0.6 5h.1m-0.1 4.5h.1m-0.6 3.5h.1m0.9 5h.1m-1.1 3.5h.1m-0.1 5h.1m0.4 3.5h.1m-0.6 4h.1m-0.1 4.5h.1m0.4 3.5h.1m-0.1 4.5h.1m0.4 5h.1m-0.1 3.5h.1m-1.6 4.5h.1m0.9 4h.1m-0.1 8.5h.1m0.4 5h.1m-0.1 4h.1m-1.1 3h.1m-0.1 5h.1m-0.1 4h.1m-0.1 4h.1m-0.6 5.5h.1m0.4 3h.1m0.4 9.5h.1m-0.6 3h.1m-0.6 4.5h.1m1.9 8h.1m-1.1 4h.1m0.4 5h.1m-0.1 3h.1m-1.6 10.5h.1m0.9 3h.1m-3.1 2.5h.1m2.9 2h.1m-3.1 4h.1m2.4 4.5h.1m0.4 5h.1m-0.6 2.5h.1m0.9 9h.1m-3.6 3h.1m2.9 1h.1m-0.6 8.5h.1m0.4 4.5h.1m-0.1 3.5h.1m0.4 5.5h.1m-3.1 6h.1m3.4 2.5h.1m-1.1 3.5h.1m-2.6 8h.1m-0.1 3.5h.1m1.9 0h.1m0.4 18.5h.1m-2.6 2h.1m5.4 -272h.1m-0.1 4h.1m-0.1 4.5h.1m0.4 3.5h.1m-0.1 5h.1m-0.1 8h.1m-0.1 4h.1m-0.1 4h.1m-0.6 5h.1m-0.1 4h.1m0.4 4.5h.1m-0.1 7.5h.1m-0.1 4.5h.1m-0.6 4.5h.1m-0.1 4.5h.1m-0.1 4h.1m0.4 3.5h.1m0.4 4.5h.1m-1.1 4.5h.1m0.4 3.5h.1m-0.6 5h.1m-0.1 3h.1m0.4 5h.1m-0.6 4.5h.1m0.9 13h.1m-0.6 36.5h.1m-0.1 9h.1m-0.6 9.5h.1m0.4 17h.1m-1.1 6.5h.1m0.4 4h.1m-0.1 13h.1m-0.6 35h.1m22.4 -260h.1m-0.1 17h.1m-0.1 25.5h.1m-0.1 24.5h.1m-0.1 4h.1m-0.1 25.5h.1m-0.1 12.5h.1m-0.1 13h.1m-0.6 24h.1m-0.1 21h.1m-0.1 5h.1m0.4 9.5h.1m-0.1 15.5h.1m-0.6 3.5h.1m-0.1 46h.1m0.9 -250.5h.1m-0.1 24.5h.1m-0.6 8.5h.1m-0.1 34h.1m-0.1 25h.1m-0.1 12.5h.1m-0.1 25h.1m0.4 34h.1m-0.6 4h.1m-0.1 78h.1m18.4 -121.5h.1m-0.6 24.5h.1m-0.1 20h.1m0.4 13.5h.1m-0.1 12h.1"/>
<path stroke="#4f1647" d="M217 77.5h.1m-0.1 7h.1m-1.1 3.5h.1m-0.1 3.5h.1m1.4 8.5h.1m-0.1 4h.1m-3.1 130h.1m-0.1 5h.1m3.4 0.5h.1m-4.1 7h.1m1.9 4h.1m-2.1 5h.1m3.9 1h.1m-3.1 3.5h.1m2.9 1h.1m-2.6 2.5h.1m-0.6 4h.1m-0.6 3.5h.1m-0.6 5.5h.1m1.9 3h.1m-0.6 10h.1m-0.1 3.5h.1m0.4 5h.1m-0.6 3h.1m0.4 3.5h.1m-1.1 5.5h.1m-0.6 4h.1m1.4 5h.1m-1.6 3h.1m-0.1 3.5h.1m0.4 10h.1m0.4 7.5h.1m-0.1 4.5h.1m-0.1 3.5h.1m6.4 -274.5h.1m-2.1 2.5h.1m-1.1 5.5h.1m2.4 0.5h.1m-0.6 3h.1m-1.1 2h.1m-0.6 7.5h.1m1.9 8.5h.1m-0.6 1.5h.1m-1.6 104.5h.1m-0.6 2h.1m-0.6 5h.1m-0.1 4.5h.1m0.4 4h.1m0.4 5h.1m-0.6 4h.1m0.4 8.5h.1m-1.6 4h.1m0.9 3.5h.1m2.4 11.5h.1m-2.1 2.5h.1m-0.1 3h.1m-0.1 4.5h.1m-0.6 5h.1m-0.6 3.5h.1m-0.1 3.5h.1m2.9 2h.1m-3.1 2.5h.1m2.9 1.5h.1m-3.6 4h.1m0.4 2.5h.1m0.4 4h.1m0.4 5h.1m-1.1 5h.1m3.4 6h.1m-0.6 8h.1m-0.1 4h.1m-3.6 2h.1m3.4 3h.1m2.4 -256.5h.1m-0.1 1.5h.1m0.4 10h.1m-2.1 0h.1m0.9 2h.1m1.4 6.5h.1m-1.6 104.5h.1m-0.1 14.5h.1m1.4 15.5h.1m-1.6 0.5h.1m1.9 10.5h.1m-0.1 12.5h.1m-2.1 19.5h.1m1.9 2.5h.1m-0.1 12h.1m-0.6 4.5h.1m-2.6 1h.1m2.9 2.5h.1m-2.1 3h.1m-0.6 8h.1m-1.1 11h.1m-0.1 17.5h.1m0.4 8.5h.1m0.4 4h.1m-0.6 5h.1m-0.6 3h.1m0.4 5.5h.1m0.4 3h.1m-0.1 5h.1m-0.1 9h.1m2.9 6h.1m-0.1 27h.1m-0.6 32h.1m0.4 12h.1m0.9 -375h.1m-1.1 13.5h.1m2.9 135h.1m0.9 4h.1m-3.1 30.5h.1m-0.1 5h.1m-0.1 3.5h.1m2.9 2.5h.1m-0.6 4h.1m-2.6 6h.1m2.9 2h.1m-0.6 13.5h.1m-0.6 4h.1m0.4 3.5h.1m-2.6 2h.1m2.4 4h.1m-0.6 24.5h.1m-3.1 27h.1m2.9 15.5h.1m-2.6 12.5h.1m-0.6 13.5h.1m0.4 24h.1m-0.1 4h.1m4.4 -359.5h.1m0.9 17h.1m0.4 0.5h.1m-0.6 6.5h.1m-1.6 124.5h.1m1.9 4.5h.1m-2.1 21.5h.1m-0.1 4h.1m-0.1 17h.1m-0.1 13h.1m0.4 7h.1m-0.6 6h.1m2.4 12h.1m0.4 4.5h.1m-3.1 4.5h.1m3.4 0.5h.1m-0.6 2.5h.1m-3.1 1h.1m-0.1 3.5h.1m3.4 0h.1m-1.1 9h.1m0.9 5.5h.1m-3.6 2.5h.1m2.9 1h.1m-2.6 6.5h.1m1.9 9h.1m0.4 13.5h.1m-0.1 12.5h.1m-0.1 13h.1m4.4 -267h.1m-0.6 5h.1m-3.6 13.5h.1m3.9 3.5h.1m-4.1 14h.1m3.9 32h.1m-4.1 38.5h.1m3.9 4h.1m-1.1 7.5h.1m-2.6 6h.1m-0.6 3.5h.1m0.4 5.5h.1m2.4 3h.1m-0.1 19.5h.1m-2.6 13.5h.1m2.9 9h.1m-1.1 2.5h.1m0.9 5.5h.1m-0.1 3h.1m-1.1 4.5h.1m-0.1 4.5h.1m-0.1 26h.1m-0.1 49.5h.1m3.9 -290.5h.1m-0.1 63h.1m-0.1 12.5h.1m-2.6 14.5h.1m-0.1 16.5h.1m-0.1 13h.1m3.9 1h.1m-0.1 5.5h.1m-0.1 28.5h.1m-0.6 5.5h.1m-1.6 4.5h.1m1.4 15h.1m-0.1 5h.1m-1.6 12.5h.1m1.9 4.5h.1m-0.6 8h.1m-0.1 4h.1m-0.1 4h.1m3.4 -200.5h.1m-0.1 21h.1m-0.1 16h.1m-0.1 21.5h.1m2.9 -88h.1m0.4 16h.1m-0.6 4h.1m0.4 4h.1m-0.1 4h.1m0.4 5.5h.1m-1.1 7h.1m0.4 8.5h.1m-0.6 4.5h.1m0.9 13h.1m-0.6 4h.1m-0.6 9h.1m0.4 4h.1m-0.1 4h.1m-0.1 4h.1m-0.6 4h.1m-0.6 9.5h.1m1.4 4h.1m-0.6 20.5h.1m2.9 -107h.1m-0.1 4.5h.1m0.4 12.5h.1m-0.1 17h.1m-0.1 5h.1m-0.6 3.5h.1m-0.1 21.5h.1m-0.1 8.5h.1m7.4 -84.5h.1m-0.1 37.5h.1m-0.1 4h.1m-0.1 12.5h.1m-0.1 25.5h.1m-0.1 17h.1m7.4 -98h.1m0.4 45.5h.1m-0.6 17h.1m-0.1 8.5h.1m0.4 3.5h.1m206.9 6h.1m-3.6 16h.1m0.9 21h.1m-1.1 4h.1m2.9 0.5h.1m-1.6 8h.1m1.9 1.5h.1m-3.1 2.5h.1m0.4 5h.1m0.4 4h.1m-0.6 4.5h.1m1.9 13h.1m-0.1 5.5h.1m-0.1 3.5h.1m0.4 13.5h.1m-0.6 3h.1m0.4 3.5h.1m0.9 -188.5h.1m-0.6 4.5h.1m-0.1 8.5h.1m-0.1 3.5h.1m0.4 4.5h.1m-0.1 4h.1m-0.6 4.5h.1m-0.1 4.5h.1m-0.1 8.5h.1m-0.1 3.5h.1m-0.1 5h.1m0.4 4h.1m-0.1 12h.1m-0.6 5h.1m-0.6 4h.1m3.4 5.5h.1m-3.1 7h.1m2.9 1.5h.1m-3.1 7h.1m0.4 8.5h.1m-0.1 4h.1m-1.1 9h.1m2.9 17h.1m-0.1 18h.1m-2.6 20h.1m0.4 20h.1m0.4 3.5h.1m-0.1 5h.1m-0.1 9h.1m-0.1 12.5h.1m-1.6 3.5h.1m7.4 -229.5h.1m0.4 9h.1m-0.6 12h.1m-0.1 3.5h.1m-0.1 5.5h.1m-0.1 7.5h.1m-0.1 5h.1m-2.6 155.5h.1m-0.1 12h.1m4.9 -230h.1m1.9 24h.1m-0.1 3.5h.1m-0.6 4.5h.1m0.4 4h.1m-4.1 1h.1m2.9 3.5h.1m0.9 4h.1m-1.1 4.5h.1m-2.6 4h.1m2.9 3.5h.1m0.4 4.5h.1m-0.6 4h.1m-0.1 9h.1m-0.6 13h.1m0.4 3.5h.1m0.4 9h.1m-0.1 104.5h.1m-0.1 9.5h.1m-1.1 12.5h.1m4.9 -204h.1m-4.1 48h.1m3.4 11.5h.1m-3.6 13h.1m3.4 7.5h.1m-3.1 0.5h.1m3.4 3h.1m-4.1 14.5h.1m0.4 4.5h.1m-0.1 17h.1m-0.1 16h.1m-0.1 8h.1m-0.1 13h.1m-0.1 5.5h.1m-0.1 8h.1m3.4 6.5h.1m-4.1 17.5h.1m3.9 11h.1m-4.1 1.5h.1m-0.1 4h.1m3.9 0h.1m-3.6 5h.1m3.4 4h.1m-4.1 4h.1m-0.1 5.5h.1m0.4 1.5h.1m4.9 -244.5h.1m1.9 2h.1m-0.6 2.5h.1m-0.1 12h.1m-0.1 5h.1m-0.6 4.5h.1m0.9 3.5h.1m-0.1 21.5h.1m-0.1 8.5h.1m-0.1 20h.1m-3.6 31h.1m3.4 91.5h.1m0.4 3h.1m-0.1 9.5h.1m-4.1 0.5h.1m3.4 8h.1m0.4 3h.1m-1.6 22h.1m0.4 13h.1m3.9 -244.5h.1m-0.1 8h.1m-0.1 4h.1m-0.1 25h.1m1.4 -47.5h.1m1.4 24h.1m-0.1 4.5h.1m-0.1 3.5h.1m0.4 25h.1m-0.1 4.5h.1m-0.6 4h.1m-0.1 16.5h.1m-0.1 17.5h.1m-0.1 4.5h.1m0.4 3.5h.1m-1.1 85h.1m0.4 3h.1m-0.6 33h.1m0.9 14.5h.1m-1.6 6.5h.1m-0.1 4.5h.1m-0.1 6h.1m0.4 5.5h.1m-0.6 3.5h.1m8.9 -253h.1m-0.1 5h.1m-0.1 8h.1m-0.1 21h.1m-0.1 4h.1m0.4 25.5h.1m-0.1 4.5h.1m-0.6 4.5h.1m0.4 113h.1m-0.1 12h.1m-1.1 5h.1m0.4 4h.1m2.9 -141h.1m-0.1 4h.1m-0.1 118.5h.1m-0.6 3h.1m4.9 -202.5h.1m-0.1 5h.1m-0.1 8h.1m-0.6 5h.1m-0.1 4.5h.1m0.9 4h.1m-1.1 13h.1m-0.1 3.5h.1m-0.1 3.5h.1m0.4 5h.1m-0.6 4.5h.1m-0.1 4h.1m7.4 -53.5h.1m0.4 3.5h.1m-1.1 4h.1m0.4 4.5h.1m0.4 5h.1m-0.6 3.5h.1m2.9 12.5h.1m-3.1 4h.1m-0.6 4.5h.1m-0.1 5h.1m0.9 4.5h.1m-0.6 3h.1m0.4 13.5h.1m2.4 7.5h.1m-3.6 0.5h.1m0.9 9h.1m-1.1 11.5h.1m3.4 1h.1m-3.6 4h.1m0.9 71h.1m-0.1 4.5h.1m-0.1 9h.1m-0.6 6.5h.1m3.4 19h.1m-2.6 3.5h.1m2.4 24h.1m-0.1 35h.1m-0.1 -280.5h.1m0.4 3h.1m3.4 3h.1m-3.1 1.5h.1m2.4 3h.1m-3.1 1h.1m-0.6 3.5h.1m3.9 3.5h.1m-3.6 1h.1m-0.6 4.5h.1m3.9 16.5h.1m-3.1 4h.1m-0.6 4.5h.1m-0.6 4h.1m0.9 4h.1m-0.6 4h.1m0.4 4.5h.1m-0.1 5h.1m-0.1 4.5h.1m-0.1 4h.1m-0.1 8.5h.1m-0.6 3.5h.1m-0.1 97h.1m-0.1 4.5h.1m-0.6 3h.1m0.9 5h.1m-0.1 4h.1m-1.1 7.5h.1m0.9 10h.1m-0.1 6.5h.1m-0.6 6h.1m0.4 3.5h.1m-0.6 3h.1m0.4 9h.1m-0.6 4.5h.1m6.9 -250.5h.1m-0.1 5h.1m-0.1 4h.1m-0.1 4.5h.1m-3.6 5.5h.1m2.9 1.5h.1m-3.1 7.5h.1m3.9 10h.1m-4.1 2.5h.1m3.4 1.5h.1m-0.1 5h.1m-0.1 4h.1m0.9 -34.5h.1m-0.1 12.5h.1m-0.1 5h.1m6.9 -33.5h.1m-0.1 4h.1m-0.1 5h.1m-0.1 4h.1m0.4 4h.1m-0.6 16h.1m-0.1 9.5h.1m0.4 11.5h.1m-0.1 16.5h.1m-0.6 123.5h.1m6.4 -194h.1m0.9 4.5h.1m-0.1 3h.1m-1.1 4.5h.1m-0.1 4h.1m0.4 5h.1m-0.6 20h.1m-0.1 4.5h.1m0.9 163h.1m-0.6 6h.1m7.4 -217h.1m0.4 5.5h.1m-0.1 7h.1m-0.1 5h.1m-0.6 8h.1m0.4 9h.1m-1.1 8h.1m-0.1 4h.1m56.9 -48h.1m-0.6 8.5h.1m-0.1 12h.1m0.4 190h.1m-0.1 4h.1m3.4 -141.5h.1m-0.1 8.5h.1m-0.1 12.5h.1m0.4 11.5h.1m-0.1 13.5h.1m-0.6 13h.1m-0.1 28h.1m-0.1 16.5h.1m-0.1 27h.1m0.4 3.5h.1m5.4 -233h.1m-2.6 40h.1m-0.1 8.5h.1m-0.1 21h.1m-0.1 29h.1m-0.1 8h.1m2.4 118.5h.1m-0.1 8h.1m0.9 -212.5h.1m-0.1 6.5h.1m-0.1 4.5h.1m-0.6 4.5h.1m0.4 4.5h.1m-0.6 4h.1m0.4 4h.1m-0.6 4.5h.1m-0.1 12h.1m0.4 4h.1m-1.1 4h.1m0.9 17h.1m-0.1 4.5h.1m2.9 3.5h.1m-3.1 1h.1m-0.6 3.5h.1m-0.1 4h.1m3.4 4h.1m-4.1 18h.1m0.4 3h.1m-0.1 72h.1m-0.1 4h.1m0.9 9h.1m-0.1 3h.1m-0.1 9h.1m-0.1 9.5h.1m2.4 -191.5h.1m0.4 5h.1m-0.6 12.5h.1m-0.1 3.5h.1m0.4 4h.1m0.4 4.5h.1m-0.6 13h.1m-0.1 4.5h.1m-0.1 7.5h.1m0.4 4.5h.1m-0.1 42h.1m-0.1 4h.1m-0.1 14h.1m-0.1 4h.1m0.4 12.5h.1m-1.1 3h.1m0.4 5.5h.1m-0.6 8h.1m0.4 4h.1m-0.1 11.5h.1m-0.6 10h.1m0.4 3h.1m-0.6 10h.1m-0.6 4h.1m0.4 4h.1m2.9 7h.1m0.4 26.5h.1m3.9 -258h.1m-0.6 9h.1m-3.6 3h.1m0.9 3.5h.1m-0.6 4.5h.1m-0.6 4.5h.1m0.4 3.5h.1m-0.1 5h.1m3.4 5.5h.1m-0.1 4h.1m-3.6 3h.1m2.9 1h.1m-3.6 7h.1m-0.1 4h.1m3.4 2.5h.1m0.4 4h.1m-4.1 2.5h.1m3.9 2h.1m-3.6 2h.1m-0.6 8h.1m0.9 8.5h.1m-1.1 13.5h.1m0.9 12.5h.1m-0.6 8h.1m-0.1 4.5h.1m-0.1 4.5h.1m2.4 10h.1m-0.1 3.5h.1m-2.6 19h.1m2.4 5.5h.1m-2.6 3.5h.1m0.4 4h.1m-0.1 4.5h.1m-0.6 3h.1m-0.1 4h.1m3.4 6.5h.1m-3.6 10.5h.1m-0.1 5h.1m2.9 3h.1m-3.6 14h.1m0.4 27h.1m-0.6 9h.1m7.4 -264h.1m-3.1 3h.1m2.9 5h.1m-0.1 13h.1m-0.1 4.5h.1m-0.1 3.5h.1m-0.1 12.5h.1m-0.1 5h.1m-0.1 4.5h.1m-3.6 2.5h.1m3.4 1h.1m-0.1 4.5h.1m-0.6 9h.1m-2.6 6.5h.1m-0.1 3.5h.1m-0.6 5h.1m3.9 0.5h.1m-3.6 3h.1m-0.1 13.5h.1m2.9 109h.1m-3.1 7h.1m3.4 14h.1m-3.1 4.5h.1m1.9 1h.1m-2.1 3.5h.1m1.9 2.5h.1m-2.1 1h.1m2.9 3.5h.1m-3.6 0.5h.1m0.4 3h.1m0.4 3.5h.1m1.9 0.5h.1m-3.1 3h.1m-0.1 5h.1m0.4 4h.1m-0.1 3.5h.1m1.9 0.5h.1m-2.6 7h.1m6.4 -263.5h.1m-3.1 0h.1m3.9 3h.1m-0.1 5h.1m-0.6 4h.1m-0.1 3.5h.1m-0.6 5h.1m-0.1 4h.1m-0.1 4h.1m0.4 9h.1m-0.6 3.5h.1m0.4 4.5h.1m-0.6 7.5h.1m0.4 13.5h.1m-3.6 0h.1m3.4 4.5h.1m-0.1 3.5h.1m-0.1 13h.1m-1.1 33h.1m-0.1 4h.1m-0.1 5.5h.1m-0.1 8h.1m0.4 34h.1m0.9 4.5h.1m-1.1 2.5h.1m-2.6 0.5h.1m2.4 13h.1m4.4 -210h.1m-1.1 13.5h.1m-0.1 4.5h.1m0.4 4.5h.1m-0.1 4h.1m-0.1 4h.1m-0.1 4.5h.1m-0.6 16.5h.1m0.4 4h.1m-0.1 4h.1m-0.1 4.5h.1m-0.6 9h.1m0.9 3.5h.1m-1.1 4.5h.1m-0.1 4h.1m-0.1 4h.1m-0.1 4h.1m0.9 9.5h.1m-1.1 4h.1m0.9 3.5h.1m-1.1 5.5h.1m-2.6 9.5h.1m1.9 5.5h.1m1.4 31h.1m-1.1 8h.1m-2.1 3h.1m1.4 8.5h.1m0.9 10h.1m0.4 4.5h.1m-0.6 3h.1m0.4 4.5h.1m-0.1 3h.1m-0.6 8.5h.1m-0.6 6h.1m0.9 2.5h.1m-1.6 8h.1m0.9 6.5h.1m-0.6 3.5h.1m-0.6 5h.1m0.4 9h.1m-0.6 8h.1m-0.1 4h.1m4.4 -252h.1m-0.6 5h.1m0.4 4h.1m0.9 5h.1m-1.6 3h.1m0.4 4.5h.1m-0.6 5h.1m0.4 4h.1m-0.1 3.5h.1m-0.1 8.5h.1m0.4 4.5h.1m0.4 114h.1m-3.6 34.5h.1m3.4 3.5h.1m-0.1 2.5h.1m-0.1 4.5h.1m-0.1 12h.1m2.9 -223h.1m-0.6 3h.1m0.9 3.5h.1m-0.6 4.5h.1m-0.6 4h.1m0.4 4.5h.1m-0.6 4.5h.1m0.9 4.5h.1m-1.1 8.5h.1m-0.1 7.5h.1m0.4 5h.1m-0.6 4h.1m0.4 4h.1m-0.6 4h.1m-0.1 4.5h.1m-0.1 8.5h.1m0.4 3h.1m-1.1 5h.1m0.9 4h.1m-0.1 4.5h.1m-0.1 9h.1m-1.1 3.5h.1m0.9 5h.1m-1.1 7h.1m0.4 4h.1m-0.6 42.5h.1m-0.1 4.5h.1m0.9 4.5h.1m-0.6 5h.1m0.4 3.5h.1m-0.1 3h.1m0.9 9h.1m-1.1 4h.1m-0.1 4.5h.1m-0.6 4.5h.1m-0.1 3.5h.1m-0.1 5.5h.1m-0.1 4h.1m1.4 3.5h.1m-0.6 5h.1m-0.6 2.5h.1m3.9 -224.5h.1m-0.6 4.5h.1m0.4 4.5h.1m-0.6 4h.1m-0.1 4h.1m0.4 4.5h.1m-0.1 4.5h.1m-1.1 12h.1m-0.1 4h.1m-0.1 4h.1m0.9 4.5h.1m-1.1 9h.1m0.4 3.5h.1m-0.6 5h.1m0.4 8h.1m-1.1 129.5h.1m-0.1 4h.1m1.9 14.5h.1m-1.1 6h.1m4.4 -234.5h.1m-0.6 5h.1m-0.6 4h.1m0.4 4.5h.1m0.4 4.5h.1m-0.6 4h.1m-0.6 3.5h.1m0.4 9h.1m-0.6 8h.1m0.4 4.5h.1m0.4 4h.1m-0.6 8.5h.1m-0.6 7.5h.1m-0.1 4.5h.1m-0.1 5h.1m0.9 4.5h.1m-1.1 3.5h.1m0.9 25.5h.1m0.4 3.5h.1m-0.1 22.5h.1m-0.6 8h.1m-0.6 3h.1m-0.1 5.5h.1m0.4 11.5h.1m-0.1 8h.1m-0.6 4.5h.1m0.4 5.5h.1m-0.6 16.5h.1m-0.6 3.5h.1m1.4 5.5h.1m-0.6 4h.1m-1.6 3h.1m1.4 5.5h.1m-1.1 2.5h.1m-0.6 28.5h.1m276.4 -263h.1m-0.1 5h.1m-0.6 4h.1m0.9 4.5h.1m-0.1 3.5h.1m-0.6 4h.1m-0.1 4.5h.1m-0.1 4h.1m0.4 4.5h.1m-1.1 4.5h.1m0.4 4h.1m-0.1 4.5h.1m0.4 3.5h.1m-0.1 5h.1m-0.6 4h.1m0.4 4h.1m-0.1 4h.1m-0.1 4.5h.1m-1.1 4h.1m-0.1 5h.1m0.9 3h.1m-0.1 4.5h.1m-1.1 4.5h.1m0.4 4.5h.1m-0.6 8h.1m0.4 3.5h.1m0.4 4.5h.1m-1.1 5h.1m-0.1 4h.1m-0.1 4h.1m0.9 4h.1m-0.1 3.5h.1m-0.6 6h.1m-0.1 3.5h.1m-0.6 3.5h.1m0.4 4h.1m-1.1 5h.1m1.4 4.5h.1m-0.6 3.5h.1m0.4 4h.1m-1.6 4h.1m1.4 4h.1m-0.1 4.5h.1m-0.6 5h.1m0.4 4.5h.1m-0.1 2.5h.1m-0.6 6.5h.1m-1.1 8h.1m0.9 2.5h.1m-0.1 6h.1m-0.6 8.5h.1m1.4 3h.1m-0.1 5h.1m-0.1 4h.1m3.4 -245.5h.1m-0.6 10.5h.1m-0.1 67.5h.1m-0.1 21.5h.1m0.4 20.5h.1m-0.6 7.5h.1m0.4 14h.1m-1.6 12h.1m1.4 13h.1m-0.6 3h.1m0.4 4.5h.1m-0.1 16.5h.1m-2.1 17.5h.1m1.9 13.5h.1m-0.1 7.5h.1m3.4 -213h.1m-0.1 12h.1m-0.1 12h.1m-0.1 26h.1m-0.1 12h.1m-0.1 5h.1m-0.1 8.5h.1m-0.1 16.5h.1m-0.1 9h.1m-0.1 20.5h.1m-0.6 24h.1m0.4 4h.1m0.4 15h.1m1.4 0h.1m-2.1 11.5h.1m-0.1 3.5h.1m-0.6 4h.1m2.9 15h.1m-2.6 6h.1m-0.1 5h.1m2.9 -209h.1m-0.6 4.5h.1m0.4 4h.1m-0.6 12h.1m-0.1 5h.1m0.4 4.5h.1m-0.1 16.5h.1m-0.1 8h.1m-0.1 5h.1m-0.1 4h.1m-0.1 4h.1m-0.6 4h.1m0.9 8.5h.1m-1.1 21h.1m0.4 20.5h.1m-0.1 17h.1m-0.1 5h.1m-0.1 7.5h.1m-0.1 9h.1m-0.1 12.5h.1m-0.1 21h.1m0.4 17h.1m-0.6 4h.1m-0.1 3.5h.1m8.4 -238.5h.1m-0.6 11.5h.1m3.4 4h.1m-4.1 0h.1m0.4 5h.1m3.4 3.5h.1m-0.6 7.5h.1m-3.6 2h.1m2.9 3h.1m0.4 4.5h.1m-3.1 4.5h.1m-0.6 3.5h.1m-0.1 22h.1m3.4 3.5h.1m-3.6 0h.1m-0.1 4h.1m3.4 3h.1m-0.1 4.5h.1m-3.1 1h.1m2.9 4h.1m0.4 4h.1m-3.6 0.5h.1m3.4 16h.1m-0.6 5h.1m-3.6 0.5h.1m-0.1 3.5h.1m3.4 4.5h.1m-2.6 0.5h.1m2.9 15.5h.1m-4.1 0.5h.1m0.4 10h.1m2.9 2h.1m-3.6 0.5h.1m3.9 4h.1m-4.1 1.5h.1m0.4 7.5h.1m-0.6 4.5h.1m3.4 2.5h.1m-0.6 5h.1m-3.1 1.5h.1m3.4 1.5h.1m-2.6 2h.1m-1.1 4h.1m2.9 3.5h.1m-2.1 1.5h.1m2.4 1.5h.1m-0.6 6.5h.1m-2.1 0h.1m-0.6 4h.1m2.9 2.5h.1m-3.1 2.5h.1m2.4 1.5h.1m0.4 5h.1m-3.1 9h.1m-0.6 5h.1m2.9 2.5h.1m2.4 -239.5h.1m-1.1 17h.1m-0.1 9h.1m2.4 5h.1m-3.1 3.5h.1m2.9 14h.1m-2.6 2h.1m-0.6 5h.1m2.9 1h.1m-3.1 3h.1m0.4 4.5h.1m-0.1 12h.1m-0.6 9h.1m2.9 0.5h.1m-3.1 41h.1m0.4 9h.1m-0.1 3h.1m-0.1 5.5h.1m1.9 4.5h.1m-2.1 4h.1m-0.1 3h.1m1.9 2.5h.1m-2.6 10.5h.1m0.4 3.5h.1m-0.1 6h.1m1.9 7.5h.1m-0.1 9.5h.1m0.4 3.5h.1m-2.6 12h.1m2.4 1h.1m-0.6 5h.1m0.4 4h.1m-0.1 9h.1m-3.1 3h.1m-0.1 3.5h.1m2.9 0.5h.1m-0.1 6h.1m3.9 -218h.1m-0.1 8.5h.1m-0.6 58.5h.1m-0.1 21.5h.1m-0.1 29h.1m-0.1 47h.1m-0.1 17h.1m-0.1 11h.1m-0.1 21h.1m-0.1 13h.1m4.4 -231.5h.1m-0.1 4h.1m-0.1 4h.1m-0.1 4h.1m0.4 4.5h.1m-0.6 8h.1m-0.6 5h.1m-0.1 4h.1m0.4 4h.1m-0.6 4.5h.1m0.4 21h.1m-0.6 3.5h.1m-0.1 5h.1m0.9 4h.1m-1.1 3.5h.1m-0.1 4h.1m0.4 18h.1m-0.1 3.5h.1m-0.1 3.5h.1m-0.1 5h.1m0.4 25h.1m-0.6 4h.1m-3.1 1.5h.1m2.9 7h.1m-0.1 3.5h.1m-0.1 5.5h.1m-2.6 13.5h.1m1.9 3.5h.1m-2.1 4.5h.1m2.9 4h.1m-0.1 12.5h.1m-0.1 3h.1m-3.6 1.5h.1m3.4 6.5h.1m-3.6 2h.1m3.4 4h.1m-3.6 13h.1m3.4 2.5h.1m-0.1 4h.1m-0.6 8h.1m3.4 -246.5h.1m-0.6 4.5h.1m0.4 3.5h.1m-0.6 4.5h.1m0.4 4h.1m0.4 5h.1m-0.6 3h.1m-0.1 9.5h.1m-0.1 3.5h.1m0.4 4h.1m-0.1 21.5h.1m-0.1 4.5h.1m-0.1 4h.1m-0.6 4.5h.1m-0.1 3.5h.1m0.4 30h.1m-0.1 3h.1m-0.1 5h.1m-1.1 4h.1m0.9 4h.1m-0.6 5h.1m-0.6 3.5h.1m0.4 4.5h.1m0.4 7.5h.1m-0.6 14.5h.1m-0.1 4h.1m-0.1 4h.1m0.4 8h.1m-0.6 17h.1m-0.6 12.5h.1m0.9 17h.1m-1.1 2.5h.1m0.9 9.5h.1m-0.1 4h.1m-1.1 4.5h.1m0.4 8.5h.1m2.9 -71.5h.1m-0.1 18h.1m-0.1 40.5h.1m4.9 -237.5h.1m-0.1 12.5h.1m-0.1 13h.1m-0.1 5h.1m-0.1 100.5h.1m-0.1 13h.1m-0.1 8h.1m-0.1 7.5h.1m0.4 3.5h.1m-0.6 27.5h.1m0.4 25h.1m0.4 11.5h.1m-0.6 23.5h.1m0.4 12.5h.1m-0.6 3.5h.1m-0.1 8h.1m5.9 -274h.1m-0.1 4.5h.1m0.9 4.5h.1m-0.1 7.5h.1m-0.6 4.5h.1m-0.6 5h.1m0.9 8h.1m-1.1 4h.1m1.4 4.5h.1m-0.6 3.5h.1m-0.1 17h.1m-0.6 9h.1m-0.6 3.5h.1m0.4 4.5h.1m-0.1 4.5h.1m0.4 12h.1m-0.1 4h.1m-0.1 4h.1m-0.1 4.5h.1m-0.1 4.5h.1m-0.6 4h.1m0.4 5h.1m-1.1 8h.1m1.4 7.5h.1m-1.1 5h.1m0.4 3.5h.1m-1.1 4.5h.1m-0.1 4h.1m0.4 5h.1m0.4 4h.1m-0.6 9h.1m-0.6 4.5h.1m-0.6 2.5h.1m0.4 4h.1m-0.1 5h.1m-0.6 5h.1m0.4 3.5h.1m-0.6 4h.1m0.9 4h.1m0.9 4h.1m-0.1 4h.1m-1.6 6h.1m0.4 3h.1m0.9 4h.1m-1.1 4h.1m-1.1 5.5h.1m1.4 4h.1m-0.1 7h.1m9.9 -57h.1m-0.6 33.5h.1m0.4 16.5h.1m-1.1 19.5h.1m1.4 -233.5h.1m-0.1 9h.1m-0.1 8h.1m-0.1 42.5h.1m-0.1 15.5h.1m-0.6 31h.1m0.4 3h.1m-0.6 13h.1m0.4 24h.1m-0.6 9h.1m-0.1 29.5h.1m1.9 17h.1m-0.1 9.5h.1m-2.1 27.5h.1"/>
<path stroke="#4a143f" d="M214 79h.1m-0.1 6h.1m-0.6 22.5h.1m3.9 -32h.1m-0.1 2h.1m-2.6 2h.1m-0.6 4h.1m2.4 0h.1m0.9 2.5h.1m-0.6 2.5h.1m-3.1 1h.1m2.4 0.5h.1m-1.6 1.5h.1m0.4 1h.1m-0.1 1.5h.1m-1.6 3.5h.1m1.9 0.5h.1m-0.6 2h.1m0.4 0h.1m-0.1 1.5h.1m0.9 1h.1m-3.1 1h.1m2.9 0h.1m-2.1 2h.1m1.9 0.5h.1m-2.6 1.5h.1m1.9 0.5h.1m-1.6 0h.1m0.9 1h.1m0.9 0.5h.1m-1.1 0.5h.1m-1.6 2.5h.1m-0.1 4h.1m-0.1 3.5h.1m-0.1 4.5h.1m-0.1 4h.1m-0.6 8.5h.1m0.4 5h.1m-0.6 4h.1m0.4 4h.1m0.4 3.5h.1m-1.1 4.5h.1m-0.1 5h.1m0.9 4.5h.1m-0.6 3h.1m0.4 5h.1m-0.6 3.5h.1m-0.1 4.5h.1m-0.1 3.5h.1m-0.1 5h.1m0.4 4h.1m-0.1 5h.1m-1.6 4h.1m0.9 4.5h.1m0.4 3.5h.1m-0.6 5h.1m0.9 2.5h.1m-0.6 4.5h.1m0.4 4.5h.1m-1.1 13h.1m2.9 -168h.1m1.4 2h.1m-1.6 2h.1m1.4 5h.1m-0.1 2h.1m-0.6 2h.1m-0.6 5h.1m0.4 5h.1m-0.1 7h.1m-1.1 0h.1m3.9 8h.1m-3.6 1.5h.1m0.9 5h.1m-0.6 3.5h.1m-0.1 4.5h.1m-0.1 3.5h.1m-0.6 5h.1m0.4 4h.1m-0.6 4.5h.1m-0.6 3.5h.1m0.9 5h.1m2.9 2h.1m-3.1 1.5h.1m-0.6 4.5h.1m-0.1 4h.1m0.9 5h.1m-1.6 4h.1m1.4 3h.1m-1.1 4.5h.1m-0.1 5h.1m0.9 4h.1m-0.1 5h.1m-0.1 4h.1m-0.6 3.5h.1m-0.1 4.5h.1m2.4 14h.1m-0.1 5h.1m0.9 -109h.1m-0.1 4h.1m-0.1 3.5h.1m-0.6 4h.1m3.4 3.5h.1m-3.1 1.5h.1m-0.6 3.5h.1m-0.1 4.5h.1m-0.1 4h.1m3.4 8h.1m-0.1 3h.1m-3.1 2h.1m0.4 4.5h.1m-0.1 4h.1m2.4 3h.1m-3.1 1.5h.1m0.4 4h.1m-0.6 3.5h.1m0.4 5h.1m-0.6 4.5h.1m-0.1 3h.1m0.4 4h.1m-0.6 4.5h.1m-0.1 8.5h.1m-0.1 5h.1m-0.6 16h.1m-0.1 8.5h.1m0.9 3.5h.1m-0.1 8.5h.1m-1.1 5h.1m-0.1 4.5h.1m0.4 8h.1m0.4 3.5h.1m2.9 13h.1m-0.1 24h.1m-0.1 13h.1m-0.1 16h.1m-0.1 5h.1m-0.1 13.5h.1m3.4 -276.5h.1m-2.1 3h.1m1.9 36.5h.1m-0.1 4.5h.1m-0.1 3.5h.1m0.4 3.5h.1m-0.6 4.5h.1m0.4 4.5h.1m-0.6 12.5h.1m-0.1 9h.1m0.4 3.5h.1m-1.1 9h.1m0.4 8.5h.1m-0.6 3.5h.1m0.4 4h.1m-2.6 10.5h.1m2.4 2h.1m-0.1 9h.1m-2.6 0.5h.1m1.9 8h.1m-0.1 21h.1m-0.1 3h.1m-2.6 10.5h.1m2.4 12h.1m-0.1 4h.1m-2.6 46.5h.1m-0.1 17.5h.1m3.9 -190h.1m-0.6 4h.1m-0.1 8h.1m0.4 13.5h.1m-0.6 7.5h.1m0.4 18h.1m2.9 12h.1m-3.1 0h.1m2.9 4.5h.1m-3.1 4.5h.1m2.9 3.5h.1m-3.1 3h.1m2.4 6.5h.1m-0.1 16h.1m-2.6 4.5h.1m3.4 3.5h.1m-0.6 20.5h.1m-0.1 5h.1m-0.1 4h.1m-0.1 4.5h.1m0.4 4.5h.1m-0.1 4.5h.1m-0.6 3.5h.1m3.9 -192h.1m-0.1 7h.1m-0.6 3.5h.1m-0.1 3.5h.1m-0.1 5h.1m-0.1 4.5h.1m-0.1 20h.1m-0.1 9h.1m-0.1 3.5h.1m-0.1 4.5h.1m-0.1 5h.1m-0.1 3.5h.1m-0.1 4.5h.1m0.4 3.5h.1m-1.1 5h.1m0.4 3h.1m-0.1 17.5h.1m-0.1 4h.1m-0.6 34h.1m-0.1 17.5h.1m-0.1 21h.1m-0.6 16.5h.1m5.4 -195h.1m-0.1 20.5h.1m-0.1 4.5h.1m-0.6 21h.1m0.4 4h.1m-0.1 4.5h.1m-0.1 5h.1m-0.1 16.5h.1m0.4 29h.1m-0.1 13.5h.1m-2.1 24.5h.1m237.4 -131h.1m0.4 34.5h.1m-0.1 8h.1m-2.6 44.5h.1m-0.1 8.5h.1m-0.6 13h.1m-0.6 12h.1m-0.1 8.5h.1m0.4 5.5h.1m-0.1 2h.1m-0.1 5h.1m-0.1 3.5h.1m0.4 4.5h.1m-0.1 22h.1m1.9 1.5h.1m0.4 11.5h.1m0.4 -188.5h.1m-0.6 8.5h.1m-0.1 4.5h.1m0.4 20.5h.1m-0.1 9.5h.1m2.9 8h.1m-3.1 0.5h.1m-0.1 3.5h.1m-0.1 8.5h.1m3.4 3.5h.1m-3.6 0h.1m-0.1 4.5h.1m2.9 1h.1m-3.1 3.5h.1m2.9 0h.1m-0.1 4.5h.1m-0.1 4.5h.1m-3.6 7h.1m3.4 1.5h.1m-3.1 3.5h.1m2.4 3.5h.1m-3.1 0.5h.1m0.9 20h.1m2.4 6h.1m-0.1 3h.1m-2.6 8h.1m2.4 13.5h.1m-2.6 4.5h.1m-0.1 16h.1m2.4 0.5h.1m-0.1 5h.1m-3.1 4h.1m0.4 4.5h.1m1.9 2.5h.1m0.4 6h.1m-3.1 3h.1m2.9 1.5h.1m-0.6 2.5h.1m-2.6 1h.1m-0.6 7.5h.1m3.9 0.5h.1m0.4 -202h.1m-0.6 34h.1m0.4 4.5h.1m-0.1 12h.1m1.9 32.5h.1m-1.6 5h.1m2.4 7.5h.1m-3.1 0.5h.1m2.9 7.5h.1m-0.1 10h.1m-1.1 4.5h.1m0.9 4h.1m-0.6 7h.1m-2.6 5h.1m2.4 4h.1m-2.6 1h.1m2.9 2h.1m-3.1 9.5h.1m-0.1 5h.1m0.4 3.5h.1m2.4 4h.1m-0.1 5.5h.1m-3.6 3.5h.1m0.9 3.5h.1m1.9 12h.1m-3.1 9.5h.1m-0.1 18.5h.1m7.4 -221h.1m-0.6 4h.1m-0.1 3.5h.1m-0.6 4.5h.1m0.9 4h.1m-0.1 5h.1m-0.6 4h.1m-0.1 4h.1m-0.1 4.5h.1m0.4 3h.1m-1.1 5h.1m0.4 3.5h.1m-0.1 5.5h.1m-0.1 7.5h.1m0.4 4h.1m-0.6 5h.1m-0.6 4h.1m0.4 11.5h.1m-0.1 5.5h.1m-0.1 7h.1m-0.1 5.5h.1m0.9 4h.1m-0.1 5h.1m-1.1 4h.1m-0.1 4.5h.1m-0.6 11.5h.1m1.4 17h.1m-1.6 3h.1m0.4 5h.1m0.4 4.5h.1m0.4 4.5h.1m-0.1 3h.1m-1.1 8.5h.1m-0.1 4h.1m-0.6 5h.1m-0.1 9h.1m0.9 16h.1m-1.1 23h.1m0.9 13.5h.1m-1.1 10h.1m0.4 7.5h.1m-1.1 5h.1m0.4 4.5h.1m3.9 -258h.1m-0.1 4h.1m0.4 4.5h.1m-0.6 4.5h.1m0.4 8.5h.1m-0.6 8.5h.1m-0.1 20.5h.1m-0.1 5h.1m0.4 3h.1m-0.6 4.5h.1m-0.1 4.5h.1m0.4 7.5h.1m-0.1 4.5h.1m-1.1 4.5h.1m0.4 3.5h.1m0.9 5h.1m0.4 8h.1m-0.1 4h.1m-1.1 6h.1m0.4 3h.1m-0.6 4h.1m-3.1 2h.1m3.4 2.5h.1m-1.1 3.5h.1m-2.6 3h.1m2.4 1h.1m-0.1 5h.1m-0.1 4h.1m0.9 5h.1m-0.6 5h.1m-1.1 2.5h.1m-0.1 5h.1m0.4 3h.1m-0.1 18h.1m-0.6 7.5h.1m0.9 14h.1m-0.6 2.5h.1m-0.6 10h.1m4.4 -232.5h.1m-0.6 8.5h.1m0.4 13h.1m-0.6 4.5h.1m-0.1 3.5h.1m-0.1 9h.1m-0.1 8h.1m0.4 4h.1m-0.6 4.5h.1m0.9 13h.1m0.4 3.5h.1m-0.1 8.5h.1m-1.1 21h.1m0.4 17h.1m-0.1 4.5h.1m-0.1 4.5h.1m0.4 11.5h.1m-0.1 5.5h.1m-0.1 4h.1m-0.6 25h.1m-1.1 8h.1m0.4 4.5h.1m0.4 4h.1m-1.1 3h.1m1.9 4h.1m-2.1 5h.1m-0.1 4.5h.1m1.4 5h.1m-1.6 3h.1m-0.1 5.5h.1m0.4 3h.1m-0.1 12h.1m-0.1 5.5h.1m4.4 -235h.1m-0.1 4h.1m-0.1 5h.1m-0.1 24h.1m-0.1 9h.1m-0.6 21.5h.1m-0.1 3.5h.1m-0.6 51h.1m0.4 13h.1m-0.6 7h.1m-0.6 5.5h.1m-0.1 7h.1m0.4 6h.1m-0.6 4h.1m-0.1 3.5h.1m-0.1 4.5h.1m1.4 28.5h.1m-0.1 4h.1m-0.6 5.5h.1m-0.1 4.5h.1m-0.1 3.5h.1m-1.1 75h.1m2.4 -317.5h.1m1.9 14.5h.1m0.4 10.5h.1m-0.6 4.5h.1m-0.1 4h.1m0.4 4.5h.1m-0.1 3h.1m-0.6 5h.1m0.4 4h.1m-0.6 5h.1m-0.1 3h.1m0.4 4.5h.1m-0.1 4h.1m-0.1 4h.1m-0.1 5h.1m-0.1 4h.1m-0.6 12.5h.1m0.4 4h.1m-1.1 5h.1m0.4 3.5h.1m-0.1 4.5h.1m-0.1 13h.1m0.9 87.5h.1m-1.6 3.5h.1m0.4 5h.1m0.4 8h.1m-0.6 5.5h.1m0.9 3h.1m-0.6 4h.1m-1.6 4h.1m0.4 5h.1m0.4 7.5h.1m-0.6 4.5h.1m2.9 -246.5h.1m0.9 12h.1m-0.1 4h.1m-0.1 21.5h.1m-0.6 24.5h.1m0.4 4.5h.1m-0.6 38h.1m0.9 5h.1m0.4 8.5h.1m-1.1 3h.1m0.4 4h.1m-0.1 5.5h.1m-0.1 4.5h.1m-0.1 2.5h.1m-0.6 5h.1m1.4 3h.1m-0.6 5.5h.1m-0.1 3.5h.1m0.4 13.5h.1m-0.6 3h.1m-0.1 9h.1m-0.6 5h.1m0.4 3h.1m-0.6 4.5h.1m-1.6 5h.1m0.9 4h.1m-0.6 7.5h.1m0.4 5.5h.1m-0.6 15h.1m0.4 5h.1m-0.1 11h.1m-1.6 19h.1m0.9 5h.1m-0.1 5h.1m-0.1 5h.1m-0.1 4h.1m5.4 -280.5h.1m-1.1 7.5h.1m-0.1 3.5h.1m-0.6 4.5h.1m0.9 4h.1m-0.6 4h.1m0.4 5h.1m-1.1 71h.1m-0.1 9h.1m1.4 33h.1m-2.1 4h.1m1.9 3.5h.1m-1.6 10h.1m-0.1 11.5h.1m-0.6 16.5h.1m1.9 26.5h.1m-0.1 16.5h.1m1.9 -215h.1m0.9 58h.1m-0.6 5.5h.1m-0.6 3h.1m1.4 5.5h.1m-0.6 3.5h.1m-0.6 9h.1m0.4 8.5h.1m-0.1 3.5h.1m-0.6 4.5h.1m0.9 3h.1m-0.1 5.5h.1m-0.1 13h.1m-1.1 3h.1m0.4 12h.1m-0.1 4h.1m-0.6 5h.1m0.9 5h.1m-1.1 8h.1m-0.1 3.5h.1m-0.6 5.5h.1m1.4 4.5h.1m-0.6 2.5h.1m-0.1 4.5h.1m0.4 4.5h.1m-1.6 4h.1m1.4 4.5h.1m-0.6 9.5h.1m0.4 9h.1m0.4 5.5h.1m4.9 -229h.1m-2.6 5h.1m0.4 5h.1m-1.1 4h.1m0.4 3.5h.1m-0.6 4h.1m0.9 8h.1m-0.6 5h.1m0.4 12.5h.1m-0.1 4h.1m-0.6 9h.1m-0.1 4h.1m0.4 3.5h.1m-0.6 9h.1m2.9 4.5h.1m-3.1 0h.1m-0.6 3.5h.1m0.9 4.5h.1m-0.6 4.5h.1m-0.1 8.5h.1m2.9 57h.1m-0.1 5h.1m-0.1 12.5h.1m-3.1 9h.1m-0.1 5h.1m0.4 4h.1m-0.6 3h.1m0.4 5h.1m2.4 4.5h.1m-2.1 0.5h.1m1.4 3h.1m-2.1 1h.1m-1.1 7.5h.1m3.4 0h.1m-2.6 2.5h.1m-0.1 3h.1m3.4 -111.5h.1m2.4 1h.1m-3.1 17h.1m3.4 0.5h.1m-4.1 3.5h.1m3.4 4h.1m-3.6 12h.1m0.9 5h.1m2.4 8h.1m-3.1 9h.1m6.9 -110h.1m-0.1 30h.1m-2.6 9.5h.1m2.4 1.5h.1m-0.6 4.5h.1m-2.6 1.5h.1m2.9 3.5h.1m0.4 8h.1m-1.1 3.5h.1m-1.6 0.5h.1m1.9 4.5h.1m-0.1 5h.1m-3.6 0.5h.1m0.9 7.5h.1m1.9 0.5h.1m0.4 2.5h.1m-3.1 2.5h.1m2.9 7h.1m-2.1 0h.1m1.4 11.5h.1m-2.6 1h.1m2.9 4h.1m-3.6 1.5h.1m0.9 4h.1m-0.1 3h.1m2.9 0.5h.1m-0.6 23.5h.1m0.4 8.5h.1m-0.6 9.5h.1m0.9 -205.5h.1m-0.1 32.5h.1m-0.6 5h.1m0.4 16h.1m2.9 2.5h.1m-3.6 6.5h.1m3.4 1.5h.1m-3.1 2.5h.1m-0.6 4.5h.1m3.4 2h.1m-0.1 5h.1m-3.6 1.5h.1m-0.1 3h.1m3.4 11.5h.1m-0.1 9.5h.1m0.4 3.5h.1m-0.6 3.5h.1m-0.1 4h.1m-0.6 8h.1m-0.1 10h.1m-3.1 2h.1m3.4 5h.1m-0.1 21h.1m-3.6 7.5h.1m0.4 3h.1m-0.1 4h.1m3.4 4h.1m-3.1 0.5h.1m2.9 2h.1m-3.1 3.5h.1m-0.1 7.5h.1m6.9 -197.5h.1m-0.1 25h.1m-0.1 4.5h.1m-0.6 4.5h.1m0.4 4h.1m-4.1 15.5h.1m-0.1 4h.1m0.4 8h.1m-0.6 7.5h.1m3.9 2h.1m-3.6 11h.1m2.9 5.5h.1m-3.1 0h.1m-0.1 4h.1m-0.1 7.5h.1m-0.6 20.5h.1m0.4 17.5h.1m0.4 8h.1m-0.1 12h.1m-1.1 9.5h.1m3.9 1.5h.1m-4.1 3.5h.1m0.9 2.5h.1m-0.1 14.5h.1m2.9 -146h.1m0.4 42h.1m3.4 2.5h.1m-0.6 8h.1m-0.1 30h.1m-0.1 13h.1m-0.1 7.5h.1m-0.1 16h.1m-3.1 2.5h.1m2.9 2h.1m0.4 4.5h.1m-3.6 18.5h.1m-0.1 3.5h.1m5.4 -207.5h.1m0.4 6.5h.1m0.4 4.5h.1m-0.6 3.5h.1m-0.1 4.5h.1m-0.1 4h.1m0.4 4h.1m-0.6 13h.1m-0.1 4.5h.1m0.9 4.5h.1m-1.1 3.5h.1m0.4 4h.1m-0.1 9.5h.1m-0.6 3h.1m-0.1 5h.1m-0.6 3.5h.1m0.4 4h.1m0.9 4.5h.1m-0.1 9h.1m-0.1 3.5h.1m-0.1 8h.1m-3.6 11.5h.1m3.9 2h.1m-4.1 2h.1m3.4 40h.1m-0.1 8.5h.1m-3.6 2.5h.1m2.9 2.5h.1m0.4 11.5h.1m0.4 4h.1m-1.1 9.5h.1m-0.1 7.5h.1m-0.1 5h.1m3.9 -170h.1m-0.6 12.5h.1m0.4 16.5h.1m-0.6 4.5h.1m0.9 3.5h.1m-0.6 5h.1m-0.6 4.5h.1m0.4 4h.1m0.4 4.5h.1m-1.6 3h.1m1.4 5.5h.1m-1.6 4h.1m-0.1 3.5h.1m1.4 7.5h.1m-0.6 4.5h.1m-0.1 5.5h.1m-0.6 4.5h.1m-0.6 3.5h.1m1.4 8.5h.1m-0.6 3.5h.1m-0.6 4h.1m-0.1 4h.1m0.4 5.5h.1m-0.6 5h.1m-0.1 8h.1m-0.1 4.5h.1m0.4 3h.1m-0.6 4.5h.1m0.4 3h.1m-1.1 6h.1m-0.1 7.5h.1m0.9 3.5h.1m1.9 -214.5h.1m0.4 10.5h.1m1.4 4h.1m-0.6 3.5h.1m-0.6 5h.1m-0.1 4h.1m-0.1 4h.1m-0.1 4h.1m0.9 17.5h.1m-0.6 4.5h.1m-0.1 3.5h.1m-0.6 8h.1m0.9 8.5h.1m-1.1 5h.1m0.9 4h.1m-0.1 3.5h.1m-1.1 5h.1m0.4 22h.1m-0.1 6.5h.1m-0.1 52h.1m-0.1 3h.1m-0.1 3.5h.1m-0.1 6.5h.1m0.4 3h.1m-1.1 16h.1m0.4 5.5h.1m-0.6 8h.1m3.4 -203.5h.1m-0.1 12h.1m-0.1 17h.1m-0.1 12.5h.1m-0.1 4h.1m0.9 4.5h.1m-1.1 12.5h.1m-0.1 4.5h.1m1.4 3h.1m-0.1 14h.1m-0.6 4h.1m-0.1 3h.1m-1.1 4h.1m0.4 5.5h.1m-0.1 8h.1m-0.6 5h.1m0.4 4.5h.1m-0.6 3.5h.1m1.4 3h.1m-2.1 8.5h.1m0.4 4.5h.1m-0.1 4h.1m-0.1 4.5h.1m0.4 4.5h.1m-1.1 4h.1m0.9 9h.1m-1.1 4.5h.1m1.4 3h.1m-0.6 8h.1m-0.1 4h.1m-0.1 8.5h.1m-0.6 5h.1m0.9 7.5h.1m1.9 -247h.1m0.4 17h.1m0.9 22h.1m-0.1 4.5h.1m-0.6 4h.1m0.4 4h.1m-0.1 4h.1m-0.6 4.5h.1m-0.1 12h.1m-0.1 4.5h.1m0.4 4h.1m0.4 4h.1m-0.6 8.5h.1m-0.1 4.5h.1m-0.6 4h.1m-0.6 5h.1m-0.1 97h.1m-0.1 7.5h.1m-0.6 9h.1m0.9 17.5h.1m0.9 3.5h.1m-1.6 3h.1m0.4 5.5h.1m7.9 -182.5h.1m-0.1 9h.1m-0.1 29h.1m0.4 4h.1m-0.1 126.5h.1m17.4 -202h.1m0.4 27.5h.1m-0.6 8.5h.1m-0.1 4.5h.1m-0.1 3.5h.1m0.4 5h.1m-0.1 20h.1m-0.6 139h.1m0.4 -206h.1m3.9 1.5h.1m-0.6 5h.1m-3.6 2h.1m3.4 6h.1m-0.1 4h.1m0.4 22h.1m-0.1 187h.1m-0.1 6h.1m11.4 -35h.1m3.4 -194.5h.1m-0.1 9.5h.1m-0.1 54h.1m-0.1 8.5h.1m-0.1 91.5h.1m-0.1 4.5h.1m-0.1 16.5h.1m-0.1 17.5h.1m-0.1 3.5h.1m2.4 -216.5h.1m0.4 4.5h.1m0.4 4.5h.1m-1.1 4.5h.1m-0.1 4h.1m-0.1 4.5h.1m-0.1 4.5h.1m-0.1 11.5h.1m-0.1 4.5h.1m0.4 4.5h.1m-0.6 3.5h.1m0.4 5.5h.1m0.4 15.5h.1m-1.1 4.5h.1m-0.1 4.5h.1m-0.1 3.5h.1m-0.1 5h.1m0.4 7.5h.1m-0.1 4h.1m-0.1 4.5h.1m-0.1 12.5h.1m0.4 8.5h.1m-0.1 46h.1m-0.6 5h.1m-0.1 16h.1m-1.1 5h.1m0.9 4.5h.1m-0.6 3h.1m0.4 4.5h.1m-1.1 4h.1m1.4 5h.1m-1.1 5h.1m0.9 15.5h.1m0.9 4.5h.1m-1.1 5h.1m-0.6 6.5h.1m0.4 3h.1m-0.1 9.5h.1m3.4 -260h.1m-0.1 8h.1m-0.6 4h.1m0.4 26h.1m-0.6 3.5h.1m-0.1 4.5h.1m0.4 4h.1m-0.1 4h.1m-1.1 4.5h.1m-0.1 3.5h.1m0.9 5h.1m-1.1 3h.1m0.9 4.5h.1m-1.1 4h.1m0.4 4h.1m-0.1 5h.1m-0.1 5h.1m0.4 4h.1m0.4 17.5h.1m-0.6 12h.1m0.4 8.5h.1m-0.1 24.5h.1m-0.1 3.5h.1m-0.1 4.5h.1m-1.1 13h.1m0.4 4.5h.1m-1.1 3h.1m0.4 5.5h.1m-0.6 20.5h.1m-0.1 5.5h.1m-0.6 23h.1m3.9 -245h.1m0.9 4.5h.1m-0.6 3.5h.1m-0.6 12h.1m0.9 5h.1m-1.1 16.5h.1m0.9 8.5h.1m-0.6 3.5h.1m-0.6 22h.1m-0.1 7.5h.1m0.4 5h.1m0.4 8.5h.1m-0.1 4.5h.1m-0.1 84h.1m-0.1 4.5h.1m-0.6 2.5h.1m-0.1 4.5h.1m-0.1 13.5h.1m0.4 8h.1m3.4 -232.5h.1m-0.6 18h.1m0.4 4.5h.1m-0.1 8.5h.1m-0.6 21h.1m0.4 7.5h.1m-0.6 8.5h.1m-0.1 13h.1m0.4 9h.1m-0.1 12h.1m0.9 4.5h.1m-1.1 3.5h.1m-0.6 4.5h.1m-0.1 4.5h.1m-0.1 7.5h.1m1.4 4.5h.1m-1.6 4.5h.1m1.4 5h.1m1.4 12h.1m-2.1 5h.1m-0.1 4h.1m0.4 3.5h.1m-0.6 5h.1m-1.1 3.5h.1m-0.6 4h.1m0.9 4h.1m2.4 2h.1m-2.1 2.5h.1m-0.6 5h.1m0.4 3.5h.1m-1.1 4.5h.1m0.9 3.5h.1m0.4 5h.1m-1.6 3.5h.1m0.4 5h.1m-1.1 5h.1m0.4 11h.1m4.9 -122h.1m1.9 3h.1m-0.1 5.5h.1m0.4 4.5h.1m-2.6 5h.1m0.4 4.5h.1m-2.1 3.5h.1m1.4 4h.1m2.4 2h.1m-2.6 2h.1m-1.1 3.5h.1m2.9 0.5h.1m-2.1 9.5h.1m-1.1 4.5h.1m2.9 3h.1m-3.6 0.5h.1m0.4 3.5h.1m0.9 4h.1m-0.1 5.5h.1m-0.6 7.5h.1m0.9 12.5h.1m1.9 7h.1m3.4 -190.5h.1m0.4 33.5h.1m-0.1 7.5h.1m-0.1 26h.1m-0.1 8h.1m-0.6 8h.1m-3.6 3h.1m0.4 4h.1m-0.6 5h.1m3.9 1.5h.1m-0.6 3.5h.1m-0.6 58.5h.1m-3.1 24h.1m2.9 5.5h.1m0.9 5.5h.1m-1.1 13h.1m0.9 2.5h.1m-1.1 5h.1m4.9 -119.5h.1m-0.6 7.5h.1m-0.1 4.5h.1m0.4 4h.1m-3.6 15.5h.1m-0.1 3.5h.1m0.4 10h.1m-0.6 3.5h.1m3.4 1.5h.1m-3.1 1.5h.1m4.9 -159h.1m0.9 20h.1m-0.1 60h.1m0.4 12.5h.1m-0.6 7.5h.1m-0.1 8.5h.1m-2.6 3.5h.1m0.4 20h.1m-1.1 4.5h.1m0.4 4h.1m2.4 6.5h.1m-2.6 6.5h.1m2.4 1h.1m-0.1 4h.1m-2.1 3.5h.1m2.4 5.5h.1m-3.1 2.5h.1m1.9 1.5h.1m0.9 3h.1m0.4 8.5h.1m-3.6 0.5h.1m-0.1 3.5h.1m-0.1 3.5h.1m2.4 2.5h.1m-2.6 1h.1m2.4 12h.1m0.4 4h.1m-1.1 8.5h.1m0.4 4h.1m1.4 -127h.1m-0.1 17h.1m2.4 4.5h.1m-2.6 0.5h.1m2.9 3h.1m-3.1 4.5h.1m-0.6 5.5h.1m3.4 3h.1m-3.6 4.5h.1m-0.1 3h.1m3.4 8.5h.1m-3.6 1h.1m3.4 7.5h.1m-0.6 4.5h.1m-3.1 0.5h.1m3.9 4h.1m-0.6 8h.1m-3.1 5.5h.1m2.4 3h.1m-2.6 16.5h.1m6.9 -81.5h.1m-0.6 4h.1m0.4 4h.1m-1.1 9h.1m0.4 2.5h.1m0.4 4.5h.1m-1.1 4.5h.1m-0.6 5.5h.1m1.4 3h.1m-0.6 8.5h.1m-0.6 9h.1m0.4 3h.1m-0.6 9h.1m4.4 -120h.1m-0.1 8h.1m-0.1 4.5h.1m-0.1 4h.1m-0.1 5h.1m-1.1 4h.1m0.4 3.5h.1m-0.1 4h.1m0.4 9h.1m-1.1 4.5h.1m0.9 3.5h.1m-0.1 5.5h.1m-0.6 3.5h.1m0.9 5h.1m-2.1 2.5h.1m1.4 5.5h.1m0.4 4.5h.1m-0.6 3.5h.1m0.4 4h.1m-2.1 5h.1m0.4 3.5h.1m1.4 4h.1m-0.1 3.5h.1m-1.6 5h.1m-0.1 8.5h.1m0.4 4.5h.1m-0.6 4h.1m-0.1 5h.1m0.4 3.5h.1m0.4 4.5h.1m-0.6 4.5h.1m-0.1 4.5h.1m-0.1 19.5h.1m-0.6 8h.1m-0.1 4h.1m4.9 -136h.1m-0.1 16h.1m-0.6 13h.1m-0.1 5h.1m-0.6 4.5h.1m0.9 3.5h.1m-0.6 3h.1m-0.6 4h.1m0.4 4.5h.1m-0.6 5.5h.1m0.4 2.5h.1m0.9 31.5h.1m3.4 -112h.1m-1.6 7.5h.1m-0.1 4h.1m0.4 4h.1m0.9 5.5h.1m-1.1 2.5h.1m-0.6 5h.1m-0.1 4.5h.1m-0.1 4.5h.1m0.9 3h.1m0.4 9.5h.1m-1.1 3h.1m0.4 5.5h.1m-1.1 4.5h.1m1.4 3h.1m-1.1 4h.1m0.4 4.5h.1m-1.1 5h.1m1.4 8h.1m-1.6 4.5h.1m-0.1 3.5h.1m0.4 5h.1m-0.6 4h.1m0.4 4h.1m-0.1 5h.1m0.4 3.5h.1m-0.6 4.5h.1m-0.6 3h.1m0.9 4h.1m2.4 -113h.1m0.4 12.5h.1m-0.1 17.5h.1m-0.6 4h.1m0.9 3.5h.1m-0.1 8h.1m-1.1 18.5h.1m-0.1 13h.1m-0.6 16.5h.1m0.9 4.5h.1m-0.6 4h.1m279.9 -201.5h.1m0.4 4h.1m-0.1 5h.1m-0.1 4h.1m-1.1 4.5h.1m0.4 3.5h.1m-0.6 5h.1m0.4 4.5h.1m-0.1 4h.1m-0.1 8h.1m-0.1 4.5h.1m-0.1 4.5h.1m-0.6 3.5h.1m0.9 13h.1m-0.6 3.5h.1m0.4 4.5h.1m-0.6 4h.1m-0.6 9h.1m0.9 3h.1m-0.1 5h.1m-0.6 3.5h.1m0.4 18h.1m-0.6 4h.1m-0.6 13h.1m0.9 7.5h.1m-0.6 30h.1m0.4 9h.1m-0.1 3h.1m-0.1 5h.1m-0.1 7h.1m-0.6 14h.1m-0.1 7h.1m-0.6 5.5h.1m4.4 -236.5h.1m-0.6 5.5h.1m-0.1 4.5h.1m0.4 12h.1m-0.1 12.5h.1m-0.1 9h.1m-0.6 29h.1m-0.1 13h.1m-0.1 17h.1m-0.1 7.5h.1m0.4 9.5h.1m-0.1 3.5h.1m-0.1 4.5h.1m-0.6 3h.1m0.4 14h.1m-0.6 4h.1m0.4 4.5h.1m-1.1 4h.1m0.4 13h.1m0.4 12h.1m-0.6 4.5h.1m0.4 17h.1m-0.1 3.5h.1m-0.1 4h.1m-0.6 5h.1m4.4 -208.5h.1m-0.1 3.5h.1m-0.1 16.5h.1m-0.1 63h.1m-0.1 12.5h.1m0.4 4h.1m-0.6 5.5h.1m0.4 12h.1m-0.6 4.5h.1m-0.1 3.5h.1m-0.1 8h.1m0.4 5h.1m-0.1 5h.1m-0.1 11h.1m-0.6 33.5h.1m0.4 5.5h.1m-0.1 2.5h.1m-0.1 13.5h.1m0.4 4.5h.1m4.9 -224h.1m-2.1 16.5h.1m-0.6 4.5h.1m0.4 4.5h.1m2.9 1h.1m-0.1 12.5h.1m-3.1 6.5h.1m-0.1 4.5h.1m2.4 5.5h.1m0.4 25.5h.1m-3.1 7h.1m2.9 1h.1m-3.1 3h.1m-0.6 5h.1m-0.1 20.5h.1m0.4 7.5h.1m2.4 2.5h.1m-2.6 2.5h.1m2.4 1.5h.1m-0.1 3.5h.1m0.4 9h.1m-3.1 2h.1m0.4 5h.1m-0.6 4h.1m2.4 6.5h.1m-2.6 6.5h.1m2.4 4.5h.1m0.4 21h.1m-3.6 4h.1m3.4 13h.1m-0.1 4h.1m-3.6 4h.1m2.4 0.5h.1m-2.1 4h.1m-0.6 4.5h.1m-0.1 4h.1m5.4 -235.5h.1m5.4 14h.1m-0.1 8.5h.1m0.4 8h.1m-0.6 16.5h.1m-0.1 37.5h.1m-0.1 4.5h.1m0.4 4.5h.1m-0.6 13h.1m-0.1 8h.1m0.4 8h.1m-0.1 8.5h.1m-0.1 5h.1m-0.6 20.5h.1m-0.1 12h.1m-0.1 4.5h.1m-0.1 25h.1m-0.1 44h.1m0.4 4.5h.1m-0.6 35h.1m3.4 -270h.1m0.9 4h.1m-4.1 2h.1m3.4 6.5h.1m-0.6 8.5h.1m-3.1 3h.1m-0.1 3.5h.1m3.4 2.5h.1m-0.1 3.5h.1m-0.1 4.5h.1m-3.6 7h.1m3.9 25.5h.1m-0.6 9h.1m-0.1 4.5h.1m-0.6 17h.1m0.4 4h.1m-3.6 3h.1m3.4 1.5h.1m-0.6 3.5h.1m-2.6 2.5h.1m2.4 2h.1m0.4 3.5h.1m-0.6 9.5h.1m-0.1 3h.1m-3.1 2.5h.1m3.9 2h.1m-3.6 11h.1m2.9 1.5h.1m-0.6 9h.1m-0.1 3h.1m-3.1 4.5h.1m3.9 1h.1m-3.6 6.5h.1m2.9 6h.1m-0.6 13.5h.1m-0.1 4h.1m-3.1 9.5h.1m3.4 2h.1m-3.1 7h.1m2.4 2h.1m-2.6 24h.1m-0.1 3.5h.1m-0.1 15h.1m0.4 4h.1m9.9 -237h.1m-0.1 54h.1m0.4 21.5h.1m-0.1 37h.1m-0.1 12.5h.1m-0.1 17h.1m-0.1 12h.1m-1.6 6h.1m1.4 7.5h.1m-1.6 5h.1m-0.6 7h.1m2.4 6h.1m-2.1 15h.1m3.9 -225.5h.1m0.4 4h.1m-0.1 4h.1m0.4 4h.1m-0.6 4.5h.1m-0.6 4h.1m-0.1 4.5h.1m-0.1 4.5h.1m-0.1 4h.1m0.9 4h.1m-0.1 4h.1m-0.6 4h.1m-0.6 17h.1m0.4 4h.1m0.4 4.5h.1m-0.1 4h.1m-1.1 4.5h.1m0.4 4.5h.1m-0.1 12.5h.1m-0.1 3.5h.1m-0.6 4.5h.1m0.4 4h.1m-0.1 5h.1m0.4 4h.1m-0.1 3.5h.1m-0.6 5h.1m-0.6 4h.1m-0.1 3.5h.1m-0.6 5h.1m0.9 9h.1m-0.6 3.5h.1m-0.6 4.5h.1m0.4 4.5h.1m1.4 3.5h.1m-1.1 5h.1m-0.1 2.5h.1m-0.1 8.5h.1m-0.1 6h.1m-1.1 2h.1m0.9 9h.1m0.4 4.5h.1m-0.1 3.5h.1m-0.6 6h.1m-0.1 3h.1m-0.6 5h.1m0.9 4h.1m-1.1 5h.1m1.4 2.5h.1m-0.6 13h.1m-1.1 10.5h.1m3.9 -251.5h.1m-0.1 3.5h.1m-0.1 9.5h.1m-0.1 3h.1m-0.1 13h.1m-0.6 4h.1m0.4 5h.1m-0.1 8h.1m-0.1 12h.1m-0.6 4.5h.1m0.4 4.5h.1m-0.1 3.5h.1m-0.1 4.5h.1m-0.6 4h.1m0.4 17.5h.1m-0.6 3.5h.1m0.9 5h.1m-0.1 4h.1m-0.6 4.5h.1m-0.1 3h.1m0.4 4.5h.1m-1.1 9h.1m0.4 5h.1m-0.1 7h.1m-1.1 21.5h.1m0.9 4.5h.1m-0.6 4.5h.1m0.4 4.5h.1m-0.6 3.5h.1m-0.1 9h.1m-0.1 3.5h.1m0.4 4h.1m-0.1 4h.1m0.4 4.5h.1m-0.6 20h.1m-0.6 9.5h.1m0.4 7.5h.1m3.9 -247h.1m-0.1 5h.1m-0.6 3h.1m-0.1 9h.1m0.4 4.5h.1m-0.6 4h.1m-0.1 3.5h.1m-0.1 5h.1m-0.1 3.5h.1m-0.1 8.5h.1m0.4 22h.1m-0.1 3.5h.1m0.4 4.5h.1m-0.1 4.5h.1m-1.1 3h.1m0.9 5h.1m-1.1 12.5h.1m0.9 3.5h.1m-0.1 4.5h.1m-0.6 4.5h.1m-0.6 4.5h.1m0.4 4h.1m0.4 4h.1m-0.1 9h.1m-0.6 4.5h.1m-0.6 3h.1m0.9 5h.1m-1.1 8.5h.1m-0.1 3.5h.1m-0.6 9h.1m0.4 4.5h.1m0.4 4h.1m0.4 3h.1m-1.6 6h.1m1.4 6h.1m-1.1 5.5h.1m-0.1 3.5h.1m-0.1 9h.1m-0.1 4h.1m0.4 4.5h.1m-1.1 8h.1m0.4 5.5h.1m-0.6 3.5h.1m1.4 5h.1m-1.6 2h.1m0.9 11.5h.1m0.4 8.5h.1m5.4 -270.5h.1m0.9 8.5h.1m-0.1 5h.1m0.9 4h.1m-1.1 4.5h.1m0.4 4.5h.1m-0.6 3.5h.1m-0.1 4.5h.1m-0.6 4.5h.1m0.4 3.5h.1m-0.1 5h.1m0.4 4.5h.1m-0.1 16.5h.1m-0.6 3h.1m-0.1 4.5h.1m0.4 5h.1m0.4 4h.1m-0.6 4h.1m-0.6 4.5h.1m-0.1 12h.1m0.9 5h.1m-1.1 4h.1m0.4 9h.1m0.4 4h.1m-0.1 4h.1m-0.6 3.5h.1m-0.1 9h.1m-0.6 4h.1m-0.1 4.5h.1m-0.1 4.5h.1m-0.6 3.5h.1m1.9 4h.1m-1.6 4h.1m-0.1 4.5h.1m-0.1 4.5h.1m-0.6 5h.1m1.9 2.5h.1m-2.1 13.5h.1m0.9 5h.1m-1.1 2.5h.1m-0.6 10h.1m1.9 4h.1m-1.6 12.5h.1m1.4 4.5h.1m-1.1 2.5h.1m-0.6 4.5h.1m0.9 5.5h.1m-0.1 4.5h.1m0.4 3h.1m-0.6 3.5h.1m0.4 5.5h.1m2.4 -260h.1m0.4 5h.1m-0.6 3.5h.1m-0.1 4h.1m0.4 8h.1m0.4 4.5h.1m-1.1 8h.1m-0.1 5h.1m0.9 4.5h.1m-0.6 3h.1m-0.1 4.5h.1m-0.6 13h.1m0.4 4h.1m0.4 5h.1m-0.1 3h.1m-0.6 5h.1m0.4 4h.1m-1.1 4h.1m0.9 13h.1m-0.6 4h.1m0.4 4h.1m-0.6 4.5h.1m-0.6 4.5h.1m0.9 4h.1m-0.6 4.5h.1m0.4 4.5h.1m-0.6 4h.1m-0.1 3h.1m0.4 4.5h.1m0.4 5h.1m-1.1 2.5h.1m-0.1 5.5h.1m0.4 3.5h.1m-1.6 5h.1m1.4 4h.1m-1.1 3.5h.1m0.9 4h.1m-0.1 5h.1m0.4 3.5h.1m-1.1 6h.1m-0.1 3.5h.1m-0.6 3.5h.1m-0.1 4.5h.1m-0.6 3.5h.1m-0.1 5.5h.1m1.9 3.5h.1m-0.6 8.5h.1m-1.6 3.5h.1m-0.1 5h.1m0.4 4h.1m0.9 4.5h.1m-1.1 4.5h.1m-0.6 4h.1m0.4 4.5h.1m0.4 13.5h.1m6.9 -260.5h.1m-0.1 4.5h.1m0.4 8.5h.1m-0.6 4h.1m-0.1 3.5h.1m0.4 9h.1m-0.1 25h.1m0.4 8h.1m-0.6 4.5h.1m-0.6 4h.1m0.9 9h.1m-0.1 4.5h.1m-0.1 12.5h.1m-0.6 3.5h.1m-0.6 3.5h.1m-0.1 5.5h.1m-0.1 4.5h.1m0.4 3.5h.1m-0.1 3.5h.1m-0.6 9h.1m0.9 3.5h.1m-0.6 5.5h.1m0.9 8h.1m-0.1 4h.1m-1.6 4.5h.1m1.4 5h.1m-0.1 3h.1m-1.6 7.5h.1m-0.1 5h.1m0.4 4.5h.1m0.9 7.5h.1m-0.6 9.5h.1m-0.6 4.5h.1m-0.1 7.5h.1m-0.1 5.5h.1m0.4 4h.1m0.4 4.5h.1m-0.6 12.5h.1m0.4 3.5h.1m-1.1 4h.1m0.4 4h.1m0.4 2.5h.1m0.4 5h.1m-0.1 4.5h.1m-1.1 4.5h.1m0.4 9h.1"/>
<path stroke="#451238" d="M225.5 114.5h.1m-0.1 14h.1m-0.1 16h.1m0.4 21.5h.1m-0.1 8.5h.1m-0.1 4h.1m-0.6 16.5h.1m0.4 8h.1m-0.1 5h.1m0.4 -88.5h.1m-0.1 4h.1m-0.6 12.5h.1m0.4 5h.1m-0.1 7.5h.1m-0.6 12.5h.1m0.4 22h.1m-0.1 3.5h.1m-0.1 3.5h.1m-0.1 26.5h.1m-0.1 4.5h.1m-0.1 2.5h.1m-0.1 5.5h.1m-0.6 9h.1m0.4 3h.1m-0.1 8h.1m6.9 -134.5h.1m-0.6 4h.1m-0.1 4h.1m0.9 4.5h.1m-1.1 4h.1m0.4 4h.1m-0.6 13h.1m-0.1 9h.1m-0.1 3.5h.1m-0.1 4h.1m0.4 9h.1m-0.1 4.5h.1m-0.6 3.5h.1m-0.1 4h.1m-0.1 4h.1m-0.1 9h.1m244.9 31.5h.1m-0.1 28.5h.1m0.4 -37.5h.1m2.4 4h.1m-0.1 4h.1m-2.6 4h.1m2.4 0.5h.1m-2.6 7.5h.1m-0.1 4.5h.1m2.4 9h.1m-0.1 17h.1m-2.6 3h.1m-0.6 5h.1m0.4 4.5h.1m3.9 -33.5h.1m6.4 -10.5h.1m-0.6 3h.1m0.9 14h.1m6.9 -40.5h.1m-0.1 4h.1m-0.1 21h.1m-0.1 20.5h.1m-0.1 6h.1m-0.6 3h.1m-0.1 8h.1m4.9 -87h.1m-0.1 8.5h.1m-0.1 17h.1m0.4 3.5h.1m-1.1 5h.1m0.4 12h.1m-0.1 14h.1m-0.1 12.5h.1m0.4 24.5h.1m-0.6 4h.1m-0.6 13.5h.1m0.4 3h.1m2.4 -104h.1m0.4 8h.1m0.9 4.5h.1m-1.1 5h.1m0.4 2.5h.1m0.4 4.5h.1m-0.1 5.5h.1m-0.1 3h.1m-1.6 4.5h.1m-0.6 5.5h.1m1.9 4h.1m-1.6 3.5h.1m-0.1 5h.1m0.4 2.5h.1m-1.1 4.5h.1m0.9 5.5h.1m0.9 4h.1m-0.6 4.5h.1m-1.1 2.5h.1m-0.6 4.5h.1m0.4 4.5h.1m3.4 -32.5h.1m0.4 3h.1m-0.1 13h.1m4.4 -140h.1m-0.1 17h.1m-0.6 4.5h.1m-0.1 4.5h.1m-0.1 3.5h.1m0.4 17h.1m-0.6 12h.1m0.4 12.5h.1m-0.6 9.5h.1m0.4 2.5h.1m-1.1 13.5h.1m0.9 3.5h.1m-0.6 4h.1m-0.1 27h.1m-0.1 3.5h.1m0.9 7.5h.1m-0.6 4.5h.1m-0.1 5.5h.1m0.4 7.5h.1m-1.1 5h.1m0.4 4.5h.1m-0.6 17h.1m0.9 4h.1m1.4 -94.5h.1m-0.1 4.5h.1m1.9 12.5h.1m-0.1 5h.1m-1.1 20h.1m2.9 47h.1m0.4 -188.5h.1m-0.1 29.5h.1m0.4 51.5h.1m-0.1 3.5h.1m-0.1 4.5h.1m0.4 3h.1m-0.6 8h.1m0.9 4.5h.1m-0.6 8.5h.1m2.4 6h.1m-2.6 0h.1m-0.6 12.5h.1m-0.6 3h.1m0.9 3.5h.1m-0.1 4.5h.1m-1.1 4.5h.1m0.9 4h.1m-0.6 4.5h.1m4.4 -109h.1m-0.1 17h.1m-0.1 12h.1m-0.1 21h.1m-0.1 18h.1m-0.1 29h.1m-0.1 20h.1m-0.1 8h.1m7.4 -59h.1m1.4 7h.1m-2.1 17.5h.1m2.4 3h.1m-2.1 11h.1m5.9 -169h.1m0.4 9h.1m-0.1 3.5h.1m-0.6 9h.1m0.4 100h.1m-0.1 29h.1m2.9 -157.5h.1m-0.1 3h.1m0.4 0.5h.1m-0.1 23.5h.1m-0.1 17h.1m-0.6 8.5h.1m-0.1 12h.1m0.4 4.5h.1m-0.6 4.5h.1m0.4 8.5h.1m-0.6 3.5h.1m-0.1 13h.1m-2.6 14h.1m0.4 3h.1m-0.1 21h.1m-0.1 18h.1m-0.6 8.5h.1m0.4 8h.1m1.4 33h.1m0.4 6h.1m-0.1 4.5h.1m4.4 -123h.1m-0.6 11.5h.1m-0.1 12h.1m-0.6 8.5h.1m-0.1 4h.1m0.9 5h.1m0.9 5h.1m-2.1 4.5h.1m1.4 3h.1m0.4 3.5h.1m-0.6 6.5h.1m-1.6 2h.1m0.4 8.5h.1m-0.6 14.5h.1m0.9 3h.1m4.4 -9h.1m2.4 -130.5h.1m-0.1 25.5h.1m-0.6 33h.1m-0.1 4h.1m0.4 18h.1m-0.6 7.5h.1m-0.1 6h.1m1.4 4h.1m-0.6 3h.1m-1.6 5h.1m1.4 4h.1m-0.6 3.5h.1m-0.1 3.5h.1m-0.6 5.5h.1m-0.1 28.5h.1m5.4 -22.5h.1m2.4 -91h.1m0.9 3h.1m-1.1 9.5h.1m0.4 7h.1m-0.1 4.5h.1m-0.1 12h.1m-0.1 5h.1m-1.1 4h.1m1.4 4h.1m-0.1 4h.1m-0.6 4h.1m0.4 4.5h.1m-0.6 5h.1m-0.1 4.5h.1m0.4 4.5h.1m-1.6 4.5h.1m0.4 3.5h.1m-0.6 4.5h.1m0.4 7h.1m0.9 8.5h.1m-0.1 9.5h.1m-1.1 3.5h.1m0.4 5.5h.1m2.9 -197h.1m0.9 3.5h.1m-0.6 4h.1m0.4 4.5h.1m-1.1 4.5h.1m0.4 4.5h.1m-0.1 4.5h.1m-0.6 11.5h.1m0.4 5h.1m-0.6 3.5h.1m-0.1 4.5h.1m0.4 5h.1m-0.6 11.5h.1m0.4 4.5h.1m0.4 4h.1m-0.6 4.5h.1m-0.6 3.5h.1m0.4 5h.1m0.4 5h.1m-1.1 83h.1m0.4 4h.1m0.9 4.5h.1m-0.6 9h.1m2.4 -230h.1m-0.1 38.5h.1m0.9 4.5h.1m-0.6 8h.1m0.4 4h.1m-1.1 5h.1m-0.1 3h.1m0.4 9h.1m-0.6 13h.1m-0.1 3.5h.1m0.9 4h.1m-1.1 4h.1m0.9 5h.1m-1.1 13h.1m0.9 3h.1m-1.1 10h.1m-0.1 3h.1m1.4 4.5h.1m-0.1 12h.1m-0.6 13.5h.1m-1.6 3.5h.1m1.9 5h.1m-0.1 3h.1m-2.1 8.5h.1m0.4 13h.1m1.4 13.5h.1m-2.1 4h.1m0.9 8h.1m-0.6 3.5h.1m-0.1 4h.1m-0.6 13h.1m-0.1 4h.1m0.9 4.5h.1m3.9 -211.5h.1m-1.1 3.5h.1m0.9 4h.1m-0.1 4h.1m0.4 5h.1m-0.6 4.5h.1m-0.1 3.5h.1m0.4 4h.1m-1.1 8h.1m-0.1 5.5h.1m-0.1 4h.1m-0.1 3.5h.1m0.9 9.5h.1m-0.6 8h.1m-0.6 4h.1m-0.1 8.5h.1m0.4 3.5h.1m-0.1 4.5h.1m-0.1 5h.1m-0.6 3.5h.1m-0.1 9h.1m-0.6 67h.1m0.9 4h.1m2.4 3.5h.1m-2.6 4h.1m-0.1 12.5h.1m14.4 -192h.1m-0.1 9h.1m-0.1 3h.1m-0.1 4.5h.1m-0.1 71h.1m0.4 13h.1m-0.6 12.5h.1m0.4 25h.1m-0.1 18h.1m2.9 -149.5h.1m-0.1 12h.1m-0.1 13h.1m-0.1 9h.1m0.4 4h.1m0.4 20h.1m-0.6 5h.1m0.4 3h.1m-0.6 5.5h.1m-3.6 13.5h.1m0.4 4.5h.1m-0.6 12.5h.1m3.4 6.5h.1m-3.1 6h.1m3.4 2.5h.1m-4.1 3.5h.1m-0.1 7.5h.1m0.4 9h.1m2.9 23h.1m-0.1 3.5h.1m-0.1 11.5h.1m-3.1 8h.1m6.9 -205h.1m-0.1 9h.1m-0.6 5h.1m0.4 3.5h.1m-0.1 5h.1m-0.1 3.5h.1m-1.1 5h.1m0.4 3h.1m0.4 5h.1m-0.1 12.5h.1m-0.1 4h.1m-0.1 4.5h.1m-1.1 8.5h.1m0.4 4.5h.1m-0.1 4.5h.1m-0.1 4h.1m0.4 3h.1m-0.1 9.5h.1m0.4 8h.1m-4.1 8.5h.1m-0.1 3.5h.1m-0.1 30.5h.1m0.4 19h.1m-0.6 13.5h.1m3.4 8.5h.1m-0.6 9h.1m0.4 3.5h.1m-3.1 4.5h.1m2.9 7.5h.1m-1.1 5h.1m-2.6 0.5h.1m0.4 4h.1m3.4 3.5h.1m-3.1 2h.1m-0.6 3.5h.1m6.4 -214h.1m-0.1 3.5h.1m0.4 5h.1m-0.6 4.5h.1m0.4 8h.1m-0.6 8h.1m-0.1 5h.1m-0.6 3.5h.1m-0.6 4.5h.1m0.9 4.5h.1m0.4 3.5h.1m-0.1 5h.1m-0.6 4h.1m-0.1 4h.1m0.4 3.5h.1m-1.6 109.5h.1m-0.6 8.5h.1m0.4 4.5h.1m0.4 13h.1m0.9 3h.1m-0.6 5h.1m-0.6 4h.1m4.4 -216.5h.1m-0.6 4h.1m0.4 8h.1m-0.6 4h.1m-0.1 4.5h.1m-0.6 12h.1m-0.1 5h.1m0.4 3.5h.1m-0.6 4h.1m0.4 9h.1m0.4 4.5h.1m-0.6 4h.1m-0.1 8.5h.1m-0.6 4.5h.1m-0.1 7h.1m-0.1 6h.1m0.9 3.5h.1m-0.1 5h.1m0.4 2.5h.1m-0.1 38h.1m-0.1 12.5h.1m-0.1 4h.1m-1.1 18.5h.1m-0.6 11.5h.1m0.9 16.5h.1m-1.1 4.5h.1m-0.6 21.5h.1m0.4 5.5h.1m0.4 5.5h.1m-0.1 8.5h.1m-0.6 6h.1m3.4 -266h.1m0.9 13.5h.1m-0.1 8h.1m-0.6 9h.1m0.4 4.5h.1m-0.1 8h.1m-0.1 8h.1m-1.1 4.5h.1m0.9 4h.1m-1.1 17.5h.1m-0.1 7.5h.1m0.4 8.5h.1m-0.1 4h.1m-0.1 3.5h.1m0.4 6h.1m-0.1 3h.1m-0.6 9.5h.1m-0.1 4h.1m0.4 12h.1m0.4 4h.1m-0.1 5.5h.1m-0.6 6.5h.1m0.9 5h.1m-1.1 7.5h.1m0.4 6h.1m-0.6 2.5h.1m-0.6 6h.1m-0.6 12h.1m-0.1 4h.1m-0.1 3.5h.1m0.9 8.5h.1m-0.1 4h.1m-0.1 6h.1m-1.1 11h.1m0.9 8.5h.1m3.9 -136h.1m-1.6 16h.1m1.9 13h.1m-1.6 9h.1m0.9 4h.1m-0.6 5h.1m0.9 3.5h.1m-1.6 4.5h.1m0.4 2.5h.1m-1.1 6h.1m-0.1 2.5h.1m1.4 6h.1m-1.6 3.5h.1m1.9 13h.1m-2.1 4h.1m4.4 -78.5h.1m-0.1 6h.1m-1.1 11h.1m-0.1 4h.1m-0.1 10h.1m-0.1 8.5h.1m0.4 4.5h.1m-0.6 2.5h.1m0.4 4.5h.1m-0.6 4.5h.1m0.4 17.5h.1m4.4 -67h.1m-1.1 12.5h.1m-0.1 3.5h.1m-0.1 9.5h.1m0.4 4.5h.1m0.4 4h.1m-0.6 3h.1m-0.1 5h.1m0.4 5h.1m-1.1 8h.1m-0.1 5h.1m0.4 3.5h.1m-0.6 8h.1m3.9 -50h.1m0.4 5h.1m-0.6 2.5h.1m10.9 -2.5h.1m-0.1 15.5h.1m339.9 -147h.1m-0.1 97h.1m-0.1 8.5h.1m0.4 5h.1m-0.1 33.5h.1m-0.1 24.5h.1m-0.6 34h.1m0.4 5h.1m22.4 30.5h.1m9.4 -261h.1m-2.6 2h.1m-1.1 3.5h.1m0.4 5h.1m-0.6 4h.1m0.4 3.5h.1m0.4 4h.1m-0.6 8.5h.1m2.9 7h.1m-2.6 1.5h.1m-0.6 8h.1m-0.1 17.5h.1m-0.6 3.5h.1m0.9 9.5h.1m2.4 1.5h.1m-3.1 2h.1m-0.1 25h.1m-0.1 5h.1m-0.6 4h.1m-0.1 4h.1m-0.1 5h.1m-0.1 3.5h.1m3.4 2.5h.1m-3.6 9.5h.1m0.4 4.5h.1m2.4 3h.1m-2.6 5h.1m-0.1 5.5h.1m-0.1 3h.1m-0.1 8.5h.1m0.4 7.5h.1m-0.1 9h.1m2.4 3h.1m-2.6 13.5h.1m-0.1 14.5h.1m-0.1 4h.1m-0.6 12h.1m2.9 1.5h.1m-3.1 23h.1"/>
<path stroke="#401130" d="M518.5 229.5h.1m-0.6 12.5h.1m0.4 14h.1m-0.1 2.5h.1m18.9 -97h.1m-0.1 16.5h.1m-0.6 4h.1m-0.1 5h.1m0.4 3.5h.1m-0.6 8.5h.1m0.4 4.5h.1m-1.1 12.5h.1m0.4 13h.1m-0.6 11.5h.1m-0.1 8.5h.1m0.4 5h.1m-0.1 4.5h.1m-0.1 17h.1m-0.1 7.5h.1m-0.6 13.5h.1m-0.1 3h.1m-0.1 8.5h.1m0.9 11.5h.1m3.4 -105h.1m-0.6 7.5h.1m0.4 14h.1m-1.1 5h.1m0.4 3h.1m-0.1 8.5h.1m-0.1 4.5h.1m-0.6 8.5h.1m0.4 8h.1m-0.1 4h.1m12.9 -54h.1m-0.1 13.5h.1m3.4 13h.1m5.4 -35.5h.1m-0.1 3.5h.1m0.4 9.5h.1m0.4 3h.1m0.4 6h.1m0.4 3.5h.1m-2.1 4.5h.1m0.9 3.5h.1m0.9 3h.1m-0.6 6h.1m-1.6 4.5h.1m0.4 2.5h.1m-0.6 8.5h.1m1.4 4.5h.1m-0.1 3.5h.1m-0.6 6h.1m-1.1 17h.1m0.4 11h.1m-0.6 6h.1m3.9 -104.5h.1m0.9 4.5h.1m-0.1 8h.1m-1.1 6h.1m0.9 21h.1m-0.1 7h.1m-1.1 4.5h.1m3.4 9.5h.1m-3.1 2.5h.1m-0.1 12.5h.1m6.9 -158h.1m-2.6 55h.1m-0.1 24.5h.1m-0.6 10.5h.1m-0.6 12.5h.1m0.9 4h.1m-0.1 3h.1m1.9 3.5h.1m-2.1 2h.1m-1.1 3h.1m-0.6 4.5h.1m0.4 4.5h.1m0.9 4h.1m-0.6 4h.1m0.9 3.5h.1m-0.1 9h.1m-0.6 21h.1m-0.6 12h.1m1.4 9h.1m1.4 -218.5h.1m0.4 4.5h.1m3.4 9.5h.1m-3.6 2.5h.1m3.4 2h.1m-3.6 1.5h.1m0.4 4h.1m2.9 20h.1m-3.1 1h.1m2.9 2h.1m-3.1 2.5h.1m-0.1 4.5h.1m-0.1 3.5h.1m2.4 11h.1m0.4 8.5h.1m-0.6 4h.1m-2.6 1.5h.1m2.4 3h.1m-2.6 2.5h.1m2.9 10.5h.1m-3.1 13.5h.1m0.4 4h.1m1.9 53.5h.1m0.4 4h.1m-2.6 2h.1m2.4 2h.1m-0.6 3.5h.1m-2.6 3h.1m2.4 7h.1m0.4 2.5h.1m-3.1 2.5h.1m2.4 6.5h.1m-2.6 8h.1m2.4 0h.1m-0.1 11h.1m0.9 -212h.1m2.9 6h.1m-0.1 4.5h.1m-3.1 2.5h.1m-0.6 4h.1m0.4 5h.1m2.9 5.5h.1m-0.1 4h.1m-3.1 11.5h.1m3.4 0.5h.1m-3.1 2.5h.1m2.9 2.5h.1m-4.1 2.5h.1m0.4 12.5h.1m3.4 10h.1m-3.6 6.5h.1m-0.1 4.5h.1m-0.6 7.5h.1m-0.1 5.5h.1m3.9 1.5h.1m-3.1 2h.1m1.9 1.5h.1m-2.6 1.5h.1m2.9 2.5h.1m-0.6 4h.1m0.9 10h.1m-0.1 3h.1m-0.1 12.5h.1m-1.1 7.5h.1m0.9 6.5h.1m-0.6 3h.1m-0.6 8h.1m-0.1 8.5h.1m-0.1 4.5h.1m-2.1 2.5h.1m1.9 6.5h.1m0.4 4.5h.1m-2.1 1.5h.1m-0.6 7.5h.1m2.9 14.5h.1m-1.1 17h.1m-0.1 6h.1m0.4 16.5h.1m0.4 -262.5h.1m0.4 14.5h.1m-0.6 12h.1m0.4 4.5h.1m-0.6 4.5h.1m0.4 16h.1m2.9 11h.1m-0.1 8.5h.1m-3.6 10.5h.1m3.4 2h.1m-0.1 3.5h.1m-3.6 2h.1m3.4 2h.1m-0.1 4.5h.1m-1.1 39h.1m0.9 11h.1m-0.6 17h.1m0.4 3.5h.1m-0.6 9.5h.1m0.4 9h.1m-0.6 4.5h.1m-0.1 3h.1m0.4 3.5h.1m-0.6 5.5h.1m0.4 8.5h.1m-3.1 8h.1m-0.1 10.5h.1m-0.1 21.5h.1m-0.6 4.5h.1m6.9 -178h.1m-0.6 47.5h.1m0.4 25h.1m-0.1 5h.1m-0.6 3h.1m0.4 13h.1m-0.6 4.5h.1m-0.1 15.5h.1m0.4 4.5h.1m-0.1 13.5h.1m3.4 -117h.1m-0.1 20h.1m0.4 4.5h.1m0.4 9.5h.1m-1.1 6.5h.1m-0.1 4.5h.1m-2.1 0h.1m1.9 9.5h.1m0.9 3.5h.1m-0.6 5h.1m-1.1 4.5h.1m1.4 4h.1m-0.1 3h.1m-0.1 4h.1m-0.1 4h.1m-0.6 5.5h.1m0.4 3h.1m-1.6 9.5h.1m0.4 11.5h.1m3.9 -116h.1m0.4 3.5h.1m-0.6 4.5h.1m0.4 9h.1m-0.1 4.5h.1m0.4 2.5h.1m-0.6 5h.1m0.4 4.5h.1m-1.1 3h.1m0.4 6h.1m-1.1 3h.1m0.4 5h.1m-2.6 2.5h.1m2.9 2h.1m-0.1 3.5h.1m0.4 3.5h.1m-1.1 5h.1m0.9 4.5h.1m-2.1 8.5h.1m0.9 4.5h.1m-0.6 3h.1m-0.1 5.5h.1m-0.6 3h.1m1.4 3.5h.1m-0.6 8.5h.1m0.9 13h.1m-0.6 5.5h.1m2.9 -192.5h.1m-0.1 58.5h.1m-0.1 37.5h.1m0.9 4h.1m-0.6 5h.1m0.4 7.5h.1m-0.6 4.5h.1m-0.1 4h.1m-0.1 39h.1m-0.6 8h.1m-0.1 5h.1m-0.6 6.5h.1m-0.1 6h.1m3.9 -92.5h.1m-0.6 11.5h.1m0.4 4.5h.1m0.4 18h.1"/>
<path stroke="#3b0f29" d="M570 230.5h.1m3.9 -47h.1m-0.1 -4h.1m0.4 16h.1m-0.6 4.5h.1m0.9 5.5h.1m-1.1 3h.1m0.4 4h.1m0.4 17h.1m0.4 8.5h.1m-1.1 4h.1m-0.1 9h.1m-0.6 4h.1m3.4 1.5h.1m-2.1 3h.1m-1.1 4h.1m0.4 4.5h.1m-1.1 4h.1m0.4 4.5h.1m-0.1 7.5h.1m-0.1 12h.1m-0.1 8.5h.1m-0.1 5h.1m4.9 -85.5h.1m-0.6 9h.1m-0.6 3h.1m-0.1 4.5h.1m-0.1 4h.1m-0.6 5h.1m0.9 11.5h.1m-1.1 5h.1m3.9 -69.5h.1m-0.1 4h.1m0.4 3h.1m-0.6 5h.1m0.4 22h.1m-0.1 14.5h.1m0.4 10.5h.1m-0.6 15h.1m-0.6 8.5h.1m0.4 13.5h.1m16.9 -36.5h.1m-0.1 4h.1m-0.1 14.5h.1"/>
</g>
<path stroke="#000" stroke-width="1" d="M213.5 444v1m0 0v1m0 6v1m0 3v1m0 0v1m0 1v1m5 -32v1m0 3v1m0 2v1m0 1v1m1 1v1m0 3v1m0 0v1m0 3v1m0 6v1m2 -23v1m0 1v1m0 0v1m0 3v1m0 3v1m0 1v1m0 0v1m0 1v1m1 -20v1m0 16v1m0 1v1m0 1v1m0 6v1m0 3v1m1 -32v1m0 1v1m0 2v1m0 1v1m0 2v1m0 0v1m0 1v1m0 0v1m0 2v1m0 2v1m0 3v1m0 0v1m0 1v1m1 -29v1m0 2v1m0 0v1m0 0v1m0 2v1m0 3v1m0 5v1m0 2v1m1 -17v1m1 -3v1m0 3v1m0 6v1m0 2v1m0 3v1m0 4v1m1 -26v1m0 4v1m0 0v1m1 -16v1m0 10v1m0 2v1m0 1v1m0 1v1m0 2v1m0 1v1m0 1v1m0 1v1m0 1v1m0 1v1m0 1v1m0 0v1m1 -45v1m0 3v1m0 2v1m0 0v1m0 2v1m0 3v1m0 3v1m0 2v1m0 1v1m0 2v1m1 -22v1m0 3v1m0 0v1m0 0v1m0 0v1m0 0v1m0 4v1m0 2v1m0 0v1m0 4v1m0 1v1m0 3v1m0 3v1m0 1v1m0 3v1m0 2v1m0 0v1m0 1v1m1 -42v1m0 6v1m0 1v1m0 3v1m0 1v1m0 0v1m0 0v1m0 2v1m0 2v1m1 -44v1m0 19v1m0 1v1m0 2v1m0 5v1m0 1v1m0 2v1m0 0v1m0 2v1m1 -40v1m0 3v1m0 0v1m0 3v1m0 1v1m0 0v1m0 0v1m0 6v1m0 2v1m0 5v1m0 1v1m0 11v1m1 -6v1m0 0v1m0 6v1m1 -49v1m0 1v1m0 1v1m1 2v1m0 3v1m0 1v1m0 18v1m0 3v1m0 1v1m0 6v1m0 2v1m1 -28v1m0 1v1m0 0v1m0 1v1m0 3v1m0 15v1m0 1v1m0 2v1m0 2v1m1 -52v1m0 2v1m0 3v1m0 2v1m0 2v1m0 1v1m0 4v1m0 2v1m0 7v1m0 2v1m0 1v1m0 1v1m0 1v1m0 0v1m0 2v1m0 0v1m0 3v1m1 -60v1m0 5v1m0 16v1m0 2v1m0 3v1m0 0v1m0 1v1m0 0v1m0 0v1m0 2v1m0 1v1m1 -45v1m0 1v1m0 3v1m0 0v1m0 1v1m0 3v1m0 2v1m0 1v1m0 0v1m0 1v1m0 1v1m0 1v1m0 1v1m0 1v1m0 1v1m0 1v1m0 3v1m0 4v1m0 3v1m0 2v1m0 2v1m0 1v1m0 1v1m0 9v1m0 1v1m1 -72v1m0 9v1m0 0v1m0 3v1m0 2v1m0 1v1m0 3v1m0 2v1m0 0v1m0 0v1m0 1v1m0 30v1m0 1v1m0 1v1m1 -51v1m0 1v1m0 18v1m0 1v1m0 2v1m0 0v1m0 1v1m0 0v1m0 2v1m0 1v1m0 10v1m1 -56v1m0 3v1m0 2v1m1 -17v1m0 4v1m0 2v1m1 -6v1m0 0v1m0 1v1m0 3v1m0 0v1m0 4v1m0 3v1m1 -15v1m0 1v1m0 12v1m0 0v1m0 5v1m0 3v1m0 1v1m0 1v1m0 0v1m0 3v1m0 2v1m1 -45v1m0 1v1m0 6v1m0 1v1m0 2v1m0 1v1m0 0v1m0 1v1m0 2v1m0 4v1m0 3v1m0 2v1m0 2v1m0 2v1m0 2v1m0 8v1m0 0v1m0 1v1m0 0v1m1 -52v1m0 4v1m0 0v1m0 0v1m0 1v1m0 0v1m0 1v1m0 2v1m0 1v1m0 3v1m0 1v1m0 2v1m0 1v1m0 1v1m0 2v1m0 0v1m0 2v1m0 1v1m0 1v1m0 4v1m0 2v1m0 7v1m1 -38v1m0 1v1m0 38v1m1 -64v1m0 3v1m0 3v1m1 0v1m0 1v1m0 2v1m0 1v1m0 1v1m0 1v1m0 0v1m0 3v1m0 1v1m0 7v1m1 -36v1m0 2v1m0 0v1m0 3v1m0 1v1m0 2v1m0 8v1m0 0v1m0 1v1m0 10v1m0 6v1m0 1v1m1 -47v1m0 8v1m0 5v1m0 0v1m0 0v1m0 1v1m0 1v1m0 1v1m0 0v1m0 1v1m0 0v1m0 6v1m0 0v1m0 1v1m0 2v1m0 0v1m0 2v1m0 1v1m0 5v1m1 -41v1m0 0v1m0 1v1m0 6v1m0 2v1m0 3v1m0 1v1m0 0v1m0 2v1m0 2v1m0 4v1m0 0v1m0 3v1m0 2v1m1 -49v1m1 2v1m0 1v1m0 3v1m0 0v1m0 0v1m0 1v1m0 3v1m0 2v1m0 1v1m0 0v1m0 0v1m0 5v1m0 1v1m0 0v1m2 -24v1m1 5v1m0 0v1m0 0v1m0 2v1m0 0v1m0 1v1m0 0v1m0 1v1m0 1v1m0 0v1m0 0v1m0 0v1m0 3v1m0 1v1m1 -37v1m0 1v1m0 3v1m0 4v1m0 0v1m0 4v1m0 1v1m0 2v1m0 4v1m0 2v1m0 2v1m0 2v1m0 1v1m0 1v1m1 -48v1m0 4v1m0 5v1m0 0v1m0 1v1m0 2v1m0 0v1m0 0v1m0 1v1m0 0v1m0 1v1m0 1v1m0 1v1m0 1v1m0 0v1m0 2v1m0 0v1m0 1v1m0 0v1m0 3v1m0 1v1m0 1v1m0 4v1m1 -48v1m0 1v1m0 2v1m0 1v1m0 1v1m0 12v1m1 -15v1m0 2v1m0 5v1m0 11v1m0 3v1m0 1v1m0 2v1m0 4v1m0 2v1m0 3v1m0 1v1m0 1v1m0 1v1m1 -51v1m0 3v1m0 2v1m0 1v1m0 3v1m0 5v1m0 2v1m0 2v1m0 2v1m1 -32v1m0 1v1m0 23v1m0 4v1m0 9v1m0 1v1m0 5v1m1 -43v1m0 2v1m0 2v1m0 8v1m0 1v1m0 29v1m1 -55v1m0 2v1m0 1v1m1 5v1m0 2v1m0 1v1m0 1v1m0 1v1m1 4v1m3 -20v1m0 6v1m0 0v1m0 1v1m0 0v1m0 2v1m0 1v1m2 -26v1m0 8v1m0 5v1m0 1v1m0 2v1m0 0v1m0 1v1m0 1v1m0 1v1m0 2v1m0 1v1m1 -25v1m0 36v1m1 -19v1m0 3v1m0 1v1m0 3v1m1 -15v1m0 1v1m0 1v1m0 0v1m0 2v1m0 0v1m0 12v1m1 -49v1m0 0v1m0 2v1m0 1v1m0 0v1m0 0v1m0 0v1m0 0v1m0 1v1m0 1v1m0 0v1m0 1v1m0 1v1m0 0v1m0 2v1m0 3v1m0 9v1m0 2v1m0 3v1m0 2v1m2 -19v1m1 -22v1m0 2v1m0 2v1m0 2v1m0 3v1m0 1v1m0 3v1m0 3v1m0 1v1m0 5v1m1 -26v1m0 16v1m0 3v1m0 1v1m0 2v1m2 -45v1m0 3v1m0 3v1m0 7v1m0 1v1m1 -4v1m0 5v1m0 2v1m0 1v1m0 0v1m0 2v1m0 2v1m0 2v1m1 -26v1m0 3v1m0 2v1m0 9v1m0 1v1m0 2v1m0 1v1m0 3v1m0 2v1m0 1v1m0 1v1m0 3v1m1 -43v1m2 -4v1m0 3v1m0 0v1m0 2v1m0 4v1m0 0v1m0 0v1m0 1v1m0 0v1m1 -23v1m0 1v1m0 2v1m0 22v1m0 2v1m0 1v1m0 2v1m0 5v1m0 7v1m0 2v1m0 1v1m1 -14v1m0 5v1m3 -36v1m0 1v1m0 1v1m0 13v1m0 3v1m0 1v1m0 1v1m1 -18v1m0 3v1m0 11v1m0 5v1m0 2v1m0 1v1m0 0v1m0 1v1m0 1v1m0 0v1m0 0v1m1 -60v1m0 2v1m0 5v1m0 0v1m0 0v1m0 3v1m0 0v1m0 1v1m0 8v1m0 2v1m0 29v1m1 -52v1m0 0v1m0 2v1m0 0v1m0 1v1m0 0v1m0 0v1m0 1v1m0 3v1m0 1v1m0 3v1m0 1v1m0 0v1m0 0v1m0 14v1m0 8v1m0 3v1m1 -43v1m0 0v1m0 3v1m0 1v1m0 1v1m0 0v1m0 1v1m0 1v1m0 0v1m0 0v1m0 1v1m0 1v1m0 1v1m0 0v1m0 0v1m0 2v1m0 1v1m0 1v1m0 0v1m0 3v1m0 3v1m1 -32v1m0 4v1m0 14v1m0 4v1m0 1v1m0 1v1m1 -53v1m0 7v1m0 1v1m0 2v1m0 7v1m0 14v1m0 2v1m1 -40v1m0 6v1m0 1v1m0 1v1m0 8v1m0 3v1m0 1v1m1 -26v1m0 1v1m0 1v1m0 1v1m0 6v1m0 3v1m0 17v1m0 1v1m0 1v1m0 0v1m0 1v1m0 3v1m1 -49v1m0 8v1m0 1v1m0 1v1m0 4v1m0 1v1m0 4v1m0 0v1m0 3v1m0 2v1m1 -12v1m0 1v1m0 2v1m0 5v1m0 2v1m0 2v1m0 7v1m1 6v1m1 -52v1m0 2v1m0 1v1m0 1v1m0 1v1m0 6v1m0 0v1m0 0v1m0 0v1m0 3v1m0 1v1m0 1v1m0 0v1m0 1v1m0 1v1m0 2v1m0 1v1m0 1v1m0 0v1m0 1v1m0 0v1m0 1v1m0 4v1m1 -55v1m0 3v1m0 2v1m0 1v1m0 6v1m0 2v1m0 2v1m0 1v1m0 2v1m0 2v1m0 2v1m0 4v1m0 2v1m1 -24v1m0 1v1m0 6v1m0 2v1m1 -8v1m0 7v1m0 1v1m0 0v1m0 7v1m1 -35v1m0 2v1m0 2v1m0 1v1m0 1v1m0 7v1m0 1v1m0 1v1m0 1v1m0 2v1m0 2v1m0 1v1m0 2v1m0 6v1m1 -48v1m0 2v1m0 4v1m0 2v1m0 0v1m0 3v1m0 0v1m0 0v1m0 1v1m0 0v1m0 0v1m0 0v1m0 0v1m0 1v1m0 0v1m0 4v1m0 0v1m0 7v1m1 -39v1m0 4v1m0 0v1m0 3v1m0 0v1m0 8v1m0 4v1m0 12v1m0 1v1m0 1v1m0 0v1m1 -44v1m0 1v1m0 1v1m0 3v1m0 3v1m0 2v1m0 1v1m0 9v1m0 1v1m0 3v1m0 2v1m1 -29v1m0 2v1m0 1v1m0 1v1m0 0v1m0 0v1m0 0v1m0 6v1m0 2v1m0 3v1m0 2v1m0 2v1m0 2v1m0 1v1m0 0v1m0 2v1m0 1v1m1 -27v1m0 2v1m0 0v1m0 0v1m0 0v1m0 0v1m0 2v1m0 8v1m0 1v1m0 1v1m1 -46v1m1 1v1m0 1v1m0 2v1m0 1v1m0 13v1m0 2v1m0 3v1m0 1v1m1 -32v1m0 2v1m0 1v1m0 2v1m0 1v1m0 1v1m0 1v1m0 0v1m0 2v1m0 0v1m0 1v1m0 2v1m0 1v1m1 -7v1m0 0v1m0 0v1m0 0v1m0 0v1m0 2v1m0 0v1m0 1v1m0 1v1m0 1v1m0 0v1m0 2v1m0 5v1m0 3v1m1 -9v1m0 2v1m0 2v1m0 2v1m1 -37v1m0 1v1m0 8v1m0 1v1m0 10v1m1 -33v1m0 1v1m0 1v1m0 4v1m0 2v1m0 1v1m0 1v1m0 3v1m0 4v1m0 2v1m0 0v1m0 1v1m0 2v1m0 0v1m0 1v1m0 2v1m0 0v1m0 2v1m1 -41v1m0 3v1m0 6v1m0 3v1m0 3v1m0 2v1m0 10v1m0 2v1m0 4v1m1 -28v1m0 5v1m0 9v1m1 -30v1m0 14v1m0 1v1m2 -17v1m0 0v1m0 0v1m0 0v1m0 2v1m0 2v1m0 0v1m0 3v1m0 0v1m0 4v1m0 8v1m1 -30v1m0 2v1m0 1v1m0 0v1m0 0v1m0 0v1m0 1v1m0 1v1m0 0v1m0 1v1m0 0v1m0 0v1m0 0v1m0 0v1m0 0v1m0 2v1m0 0v1m0 7v1m1 -43v1m0 1v1m0 7v1m0 27v1m0 1v1m1 -36v1m0 3v1m0 3v1m0 9v1m0 3v1m0 4v1m0 1v1m0 1v1m0 5v1m1 -6v1m1 -27v1m0 2v1m0 1v1m0 0v1m0 3v1m0 0v1m0 6v1m0 0v1m0 1v1m0 0v1m0 2v1m0 14v1m1 -52v1m0 4v1m0 1v1m0 7v1m1 -17v1m0 1v1m0 2v1m0 5v1m0 18v1m1 -22v1m0 3v1m0 2v1m0 5v1m0 0v1m0 1v1m0 0v1m0 0v1m0 0v1m0 2v1m0 7v1m0 13v1m1 -54v1m0 6v1m0 35v1m0 1v1m0 2v1m1 -51v1m0 3v1m0 4v1m0 5v1m0 3v1m0 0v1m0 16v1m0 0v1m0 1v1m0 9v1m1 -30v1m0 0v1m0 0v1m0 0v1m0 0v1m0 1v1m0 2v1m0 0v1m0 1v1m0 1v1m0 0v1m0 0v1m0 0v1m0 1v1m0 0v1m0 1v1m0 2v1m0 0v1m0 0v1m0 2v1m0 0v1m0 0v1m0 1v1m1 -51v1m0 3v1m0 3v1m0 0v1m0 1v1m0 1v1m0 0v1m0 1v1m0 4v1m0 22v1m0 1v1m0 1v1m1 -46v1m0 0v1m0 4v1m0 0v1m0 2v1m0 2v1m0 4v1m0 2v1m0 2v1m0 1v1m0 1v1m0 2v1m0 3v1m0 2v1m0 0v1m0 6v1m0 2v1m1 -37v1m0 0v1m0 5v1m0 6v1m0 5v1m1 -16v1m0 3v1m0 7v1m0 3v1m0 1v1m0 1v1m0 1v1m0 5v1m1 -38v1m0 2v1m0 2v1m0 35v1m1 -46v1m0 1v1m1 14v1m0 3v1m0 3v1m0 1v1m0 4v1m0 4v1m0 1v1m0 0v1m1 -41v1m0 1v1m0 5v1m0 1v1m0 0v1m0 3v1m0 1v1m0 2v1m1 -25v1m0 33v1m0 2v1m2 -29v1m0 6v1m0 1v1m0 1v1m0 3v1m0 1v1m0 2v1m0 1v1m0 1v1m0 1v1m0 0v1m0 1v1m0 2v1m0 3v1m0 1v1m0 2v1m0 3v1m0 1v1m0 0v1m1 -49v1m0 1v1m0 2v1m0 0v1m0 1v1m0 0v1m0 1v1m0 2v1m0 2v1m0 1v1m0 2v1m0 4v1m0 1v1m0 1v1m0 2v1m0 6v1m0 3v1m1 -51v1m0 0v1m0 7v1m0 40v1m1 -60v1m0 6v1m0 2v1m0 4v1m0 1v1m0 7v1m0 2v1m0 3v1m0 7v1m0 1v1m0 3v1m0 2v1m0 0v1m0 2v1m1 -46v1m0 5v1m0 0v1m0 0v1m0 1v1m0 0v1m0 1v1m0 1v1m0 0v1m0 0v1m0 0v1m0 0v1m0 1v1m0 1v1m0 0v1m0 1v1m0 0v1m0 0v1m0 0v1m0 6v1m0 0v1m0 2v1m0 1v1m0 1v1m0 4v1m1 -54v1m0 0v1m0 0v1m0 4v1m0 1v1m0 6v1m0 1v1m0 1v1m0 2v1m0 0v1m0 1v1m0 1v1m0 6v1m0 4v1m0 3v1m1 -34v1m0 3v1m0 1v1m0 20v1m0 3v1m0 3v1m1 -46v1m0 0v1m0 4v1m0 2v1m0 1v1m0 1v1m0 0v1m3 -2v1m0 1v1m0 2v1m0 3v1m1 -12v1m0 13v1m0 10v1m0 0v1m0 3v1m1 -30v1m0 2v1m0 2v1m0 1v1m0 5v1m0 0v1m0 0v1m0 3v1m0 2v1m0 4v1m0 0v1m0 1v1m0 1v1m0 3v1m1 -26v1m0 2v1m0 3v1m0 3v1m0 1v1m0 0v1m0 0v1m0 0v1m0 1v1m0 1v1m0 1v1m0 0v1m0 2v1m1 -46v1m0 1v1m0 8v1m0 0v1m0 2v1m0 3v1m0 1v1m0 7v1m1 -25v1m0 0v1m0 0v1m0 0v1m0 2v1m0 0v1m0 1v1m0 1v1m0 0v1m0 0v1m0 1v1m0 1v1m0 0v1m0 4v1m0 1v1m0 2v1m0 3v1m0 1v1m0 2v1m1 -46v1m0 1v1m0 2v1m0 0v1m0 3v1m0 0v1m0 4v1m0 0v1m0 6v1m0 0v1m1 -29v1m0 2v1m0 2v1m0 4v1m0 4v1m0 7v1m0 19v1m1 -24v1m0 6v1m0 2v1m0 4v1m0 2v1m1 -39v1m0 0v1m0 4v1m0 1v1m0 2v1m0 2v1m0 2v1m0 10v1m0 1v1m0 1v1m0 2v1m1 -36v1m0 1v1m0 0v1m0 0v1m0 1v1m0 4v1m0 1v1m0 1v1m0 1v1m0 2v1m0 1v1m0 0v1m0 13v1m0 0v1m0 3v1m0 2v1m1 -44v1m0 2v1m0 2v1m0 0v1m0 2v1m0 0v1m0 1v1m0 8v1m0 3v1m0 1v1m0 2v1m0 4v1m0 1v1m0 1v1m0 7v1m0 2v1m0 0v1m2 -56v1m0 1v1m0 3v1m0 5v1m0 2v1m0 6v1m0 1v1m0 0v1m0 2v1m0 2v1m0 6v1m0 2v1m0 1v1m1 -28v1m0 2v1m0 3v1m1 -4v1m1 -20v1m0 1v1m0 1v1m0 0v1m0 1v1m0 1v1m0 1v1m0 1v1m0 0v1m0 1v1m0 4v1m0 2v1m0 2v1m0 0v1m0 0v1m0 3v1m0 1v1m0 1v1m0 0v1m1 -37v1m0 3v1m0 7v1m1 4v1m0 3v1m0 1v1m0 3v1m0 0v1m0 4v1m0 2v1m0 1v1m0 4v1m1 -31v1m0 2v1m0 0v1m0 13v1m1 -13v1m0 4v1m0 4v1m0 4v1m0 2v1m0 1v1m0 0v1m0 0v1m0 1v1m0 4v1m0 1v1m1 -47v1m0 0v1m0 0v1m0 0v1m0 5v1m0 0v1m0 1v1m0 0v1m0 1v1m0 0v1m0 1v1m0 1v1m0 0v1m0 0v1m0 0v1m0 1v1m0 1v1m0 0v1m0 0v1m0 8v1m1 -34v1m0 2v1m0 6v1m0 16v1m0 1v1m0 0v1m0 6v1m0 0v1m0 1v1m0 3v1m0 0v1m0 1v1m1 -57v1m0 5v1m0 2v1m0 4v1m0 0v1m0 1v1m0 3v1m0 1v1m0 0v1m0 0v1m0 0v1m0 0v1m0 0v1m0 1v1m0 3v1m0 1v1m0 1v1m0 0v1m0 0v1m0 0v1m1 -38v1m0 3v1m0 3v1m1 37v1m0 2v1m1 -49v1m0 0v1m0 6v1m0 3v1m0 4v1m0 1v1m0 2v1m0 4v1m0 4v1m0 2v1m1 -27v1m0 7v1m0 2v1m0 2v1m0 1v1m1 2v1m0 0v1m0 2v1m0 1v1m1 -27v1m0 4v1m0 4v1m0 12v1m0 2v1m3 -37v1m0 17v1m0 2v1m0 4v1m0 3v1m1 -17v1m0 3v1m0 11v1m0 1v1m0 1v1m0 1v1m1 -26v1m0 1v1m0 1v1m0 2v1m0 1v1m0 2v1m0 1v1m1 -15v1m0 3v1m0 10v1m0 0v1m0 1v1m1 -24v1m0 1v1m0 4v1m0 2v1m0 2v1m0 7v1m0 1v1m0 2v1m0 0v1m0 0v1m0 2v1m0 1v1m0 3v1m1 -42v1m0 9v1m0 0v1m0 0v1m0 1v1m0 3v1m0 0v1m0 3v1m0 3v1m0 2v1m0 1v1m0 1v1m0 1v1m1 -27v1m0 16v1m0 2v1m0 2v1m0 3v1m1 -32v1m0 2v1m0 1v1m0 1v1m0 1v1m0 3v1m0 1v1m0 0v1m0 0v1m0 1v1m0 2v1m0 0v1m0 1v1m0 0v1m0 0v1m0 3v1m0 0v1m0 0v1m0 0v1m0 0v1m0 0v1m0 5v1m1 -52v1m0 6v1m0 1v1m0 1v1m0 3v1m0 2v1m0 0v1m0 1v1m0 30v1m1 -55v1m0 1v1m0 2v1m0 6v1m0 0v1m0 2v1m0 3v1m0 3v1m0 6v1m0 0v1m0 5v1m1 -37v1m0 1v1m0 17v1m0 5v1m0 3v1m0 6v1m0 11v1m0 1v1m0 0v1m1 -47v1m0 9v1m0 1v1m0 2v1m0 2v1m0 3v1m0 1v1m0 4v1m0 2v1m0 3v1m1 -35v1m0 4v1m2 -9v1m0 1v1m0 0v1m0 1v1m0 2v1m0 2v1m1 0v1m0 6v1m0 2v1m0 0v1m0 1v1m0 0v1m0 2v1m0 1v1m0 4v1m1 -42v1m0 4v1m0 24v1m0 6v1m0 1v1m0 3v1m1 -17v1m0 2v1m0 10v1m0 2v1m0 0v1m0 1v1m1 -51v1m0 3v1m0 1v1m0 2v1m0 5v1m0 10v1m1 -15v1m0 5v1m0 1v1m0 1v1m0 1v1m0 13v1m2 -36v1m0 4v1m0 3v1m0 17v1m0 0v1m0 1v1m0 1v1m0 2v1m0 2v1m0 2v1m0 2v1m0 0v1m0 0v1m0 3v1m0 1v1m1 -43v1m0 0v1m0 7v1m0 2v1m0 0v1m0 2v1m0 1v1m0 8v1m0 1v1m0 4v1m1 -45v1m0 13v1m0 2v1m2 17v1m0 1v1m0 1v1m1 -32v1m0 1v1m0 3v1m0 1v1m0 6v1m0 1v1m0 1v1m0 1v1m2 -22v1m0 1v1m0 6v1m0 3v1m0 2v1m0 3v1m0 2v1m0 0v1m0 0v1m0 2v1m0 0v1m0 1v1m1 -27v1m0 2v1m0 0v1m0 2v1m0 2v1m1 -20v1m0 38v1m0 2v1m0 10v1m1 -50v1m0 0v1m0 20v1m0 0v1m0 0v1m0 1v1m0 0v1m0 1v1m0 0v1m0 0v1m0 3v1m0 1v1m1 -40v1m0 0v1m0 2v1m0 1v1m0 0v1m0 2v1m0 2v1m0 0v1m0 1v1m0 5v1m0 28v1m0 3v1m1 -55v1m0 41v1m1 -43v1m0 1v1m0 2v1m0 4v1m0 2v1m0 5v1m0 3v1m0 9v1m0 7v1m0 1v1m1 -49v1m0 4v1m0 1v1m0 2v1m0 18v1m0 1v1m0 4v1m1 -28v1m0 2v1m0 2v1m0 0v1m1 -15v1m0 1v1m0 11v1m0 3v1m0 2v1m0 2v1m0 4v1m0 0v1m0 2v1m0 0v1m0 1v1m0 1v1m0 1v1m0 0v1m0 1v1m0 0v1m0 1v1m0 1v1m0 1v1m0 3v1m1 -61v1m0 1v1m0 5v1m0 0v1m0 5v1m0 1v1m0 2v1m0 2v1m0 1v1m0 2v1m0 1v1m0 0v1m0 2v1m0 1v1m0 5v1m0 7v1m1 -59v1m0 1v1m0 3v1m0 2v1m0 2v1m0 2v1m0 37v1m0 1v1m1 -98v1m0 1v1m0 11v1m0 2v1m0 5v1m0 4v1m0 0v1m0 2v1m0 3v1m0 0v1m0 2v1m0 2v1m0 1v1m0 1v1m0 8v1m0 2v1m0 0v1m0 5v1m0 2v1m0 1v1m0 0v1m0 2v1m0 1v1m0 2v1m0 0v1m0 4v1m0 2v1m1 -110v1m0 1v1m0 2v1m0 2v1m0 3v1m0 4v1m0 1v1m0 3v1m0 7v1m0 1v1m0 1v1m0 0v1m0 5v1m0 25v1m0 1v1m0 5v1m0 5v1m0 0v1m0 1v1m0 0v1m1 -103v1m0 1v1m0 3v1m0 3v1m0 44v1m1 -62v1m0 0v1m0 2v1m0 7v1m0 4v1m0 20v1m0 5v1m0 0v1m0 2v1m1 -34v1m0 1v1m0 3v1m0 1v1m0 0v1m0 4v1m0 1v1m0 3v1m0 1v1m0 1v1m0 11v1m0 3v1m0 0v1m0 2v1m1 -57v1m0 2v1m0 17v1m0 1v1m0 0v1m0 2v1m0 1v1m0 3v1m0 0v1m0 4v1m0 3v1m0 4v1m0 1v1m1 -52v1m0 1v1m0 3v1m0 0v1m0 1v1m0 1v1m0 2v1m0 1v1m0 0v1m0 1v1m1 -1v1m0 3v1m0 0v1m0 1v1m0 1v1m0 3v1m0 3v1m0 5v1m0 0v1m0 0v1m0 0v1m0 2v1m0 1v1m0 4v1m1 -36v1m0 0v1m0 5v1m0 10v1m0 2v1m0 3v1m1 -25v1m0 9v1m1 -22v1m0 8v1m0 1v1m0 4v1m0 0v1m0 0v1m0 1v1m0 2v1m0 1v1m0 2v1m0 0v1m0 0v1m0 7v1m0 3v1m0 2v1m0 7v1m0 7v1m0 3v1m0 2v1m1 -62v1m0 5v1m0 9v1m0 4v1m0 2v1m0 0v1m0 1v1m0 2v1m0 1v1m0 1v1m0 1v1m0 3v1m0 0v1m0 0v1m0 0v1m0 2v1m0 1v1m0 6v1m0 0v1m0 2v1m0 1v1m0 1v1m0 1v1m0 2v1m0 0v1m1 -67v1m0 1v1m0 1v1m0 2v1m0 2v1m0 13v1m0 7v1m1 -5v1m0 0v1m1 -10v1m0 1v1m0 0v1m1 -26v1m0 2v1m0 4v1m0 3v1m0 2v1m0 1v1m0 1v1m0 7v1m0 4v1m0 3v1m0 1v1m0 0v1m1 -24v1m0 2v1m0 0v1m0 0v1m0 3v1m0 1v1m0 34v1m0 1v1m1 -49v1m0 2v1m0 0v1m0 0v1m0 1v1m0 1v1m0 0v1m0 3v1m0 1v1m0 0v1m0 0v1m0 3v1m0 1v1m0 0v1m0 1v1m0 1v1m0 1v1m0 3v1m0 4v1m1 -46v1m0 24v1m0 5v1m0 14v1m0 2v1m1 -50v1m0 5v1m0 2v1m0 2v1m0 1v1m0 0v1m0 5v1m0 3v1m0 2v1m0 3v1m0 1v1m0 3v1m0 1v1m0 2v1m0 1v1m3 -19v1m0 2v1m0 0v1m0 1v1m0 2v1m0 2v1m0 1v1m0 0v1m0 1v1m0 3v1m0 3v1m0 1v1m0 5v1m0 4v1m1 -60v1m0 1v1m0 3v1m0 2v1m0 1v1m0 13v1m0 0v1m0 4v1m0 10v1m1 -46v1m0 1v1m0 1v1m0 1v1m0 1v1m0 0v1m0 0v1m0 4v1m0 0v1m0 0v1m0 2v1m0 12v1m0 2v1m0 4v1m0 0v1m0 0v1m0 2v1m0 3v1m0 1v1m0 5v1m0 1v1m1 -25v1m0 21v1m1 -61v1m0 6v1m0 0v1m0 0v1m0 2v1m0 6v1m0 8v1m0 5v1m0 6v1m0 1v1m0 19v1m1 -55v1m0 0v1m0 1v1m0 2v1m0 3v1m0 0v1m0 1v1m0 3v1m0 0v1m0 6v1m0 1v1m0 1v1m0 8v1m0 1v1m0 3v1m1 -55v1m0 1v1m0 2v1m0 1v1m0 2v1m0 6v1m1 -8v1m0 5v1m0 4v1m1 -1v1m0 2v1m0 1v1m0 1v1m0 0v1m0 3v1m0 1v1m0 10v1m1 -43v1m0 3v1m0 1v1m0 1v1m0 4v1m0 13v1m0 7v1m0 2v1m0 1v1m0 6v1m1 -33v1m0 1v1m0 1v1m0 0v1m0 0v1m0 3v1m0 3v1m0 3v1m0 2v1m0 2v1m0 2v1m0 2v1m0 1v1m1 -50v1m0 2v1m0 2v1m0 0v1m0 1v1m0 1v1m0 0v1m0 2v1m0 0v1m2 -25v1m0 4v1m0 3v1m0 7v1m0 2v1m0 4v1m0 1v1m0 25v1m1 -21v1m0 8v1m0 1v1m0 17v1m1 -59v1m0 3v1m0 5v1m0 2v1m0 3v1m0 1v1m0 1v1m0 0v1m0 2v1m0 4v1m0 2v1m0 6v1m0 0v1m0 0v1m0 2v1m0 1v1m0 1v1m0 0v1m0 0v1m0 1v1m0 4v1m1 -62v1m0 2v1m0 0v1m0 0v1m0 2v1m0 2v1m0 4v1m0 0v1m0 1v1m0 1v1m0 6v1m0 0v1m0 1v1m0 1v1m0 7v1m0 5v1m0 2v1m1 -43v1m0 4v1m0 4v1m0 0v1m0 0v1m0 0v1m0 4v1m0 3v1m0 1v1m0 9v1m0 2v1m0 6v1m0 3v1m0 1v1m0 1v1m1 -45v1m0 0v1m0 2v1m0 1v1m0 0v1m0 2v1m0 9v1m0 0v1m0 2v1m0 0v1m0 2v1m0 2v1m0 0v1m1 -50v1m0 2v1m0 0v1m0 0v1m0 0v1m0 3v1m0 1v1m0 7v1m0 0v1m0 0v1m0 2v1m0 1v1m1 -33v1m0 27v1m0 1v1m0 8v1m0 3v1m1 -40v1m0 3v1m0 3v1m0 7v1m0 1v1m0 5v1m0 8v1m0 8v1m0 4v1m0 2v1m0 0v1m0 5v1m1 -57v1m0 1v1m0 31v1m0 0v1m0 4v1m1 -36v1m0 0v1m0 1v1m0 2v1m0 3v1m0 2v1m0 3v1m0 3v1m0 1v1m0 3v1m0 5v1m0 3v1m1 -45v1m0 1v1m0 14v1m0 2v1m0 0v1m0 0v1m0 0v1m0 1v1m0 4v1m0 12v1m0 6v1m0 4v1m0 3v1m0 1v1m1 -64v1m0 2v1m0 0v1m0 3v1m0 0v1m0 2v1m0 0v1m0 4v1m0 2v1m0 5v1m0 0v1m0 0v1m0 6v1m0 2v1m0 0v1m0 6v1m0 1v1m0 1v1m0 3v1m1 -59v1m0 3v1m0 2v1m0 1v1m0 1v1m0 15v1m0 7v1m0 18v1m1 -57v1m0 3v1m0 9v1m0 2v1m0 6v1m0 0v1m0 3v1m0 2v1m0 1v1m0 1v1m1 -40v1m0 43v1m1 -35v1m0 2v1m0 0v1m0 4v1m0 4v1m0 1v1m0 7v1m0 1v1m0 5v1m0 1v1m0 1v1m0 0v1m0 0v1m0 0v1m0 1v1m0 1v1m0 2v1m1 -52v1m0 2v1m0 3v1m0 0v1m0 1v1m0 5v1m0 7v1m0 1v1m0 0v1m0 6v1m1 -25v1m0 2v1m0 7v1m0 3v1m0 0v1m0 6v1m0 1v1m0 0v1m0 3v1m0 0v1m0 3v1m0 2v1m1 -32v1m0 1v1m0 1v1m0 1v1m1 -3v1m0 3v1m1 -20v1m0 2v1m0 3v1m0 3v1m0 1v1m0 8v1m1 -16v1m0 1v1m0 3v1m0 1v1m0 2v1m0 2v1m0 1v1m0 2v1m0 6v1m0 1v1m0 1v1m0 2v1m0 1v1m0 2v1m0 1v1m0 0v1m1 -35v1m0 11v1m1 -22v1m0 4v1m0 2v1m1 -23v1m0 8v1m0 0v1m0 5v1m0 6v1m0 2v1m1 3v1m0 0v1m0 2v1m0 3v1m0 1v1m0 1v1m0 0v1m0 2v1m1 -46v1m0 8v1m0 17v1m0 1v1m0 4v1m1 -37v1m0 3v1m0 1v1m0 0v1m0 3v1m0 1v1m0 1v1m0 2v1m0 2v1m0 1v1m0 1v1m0 1v1m0 4v1m1 -32v1m0 6v1m0 2v1m0 0v1m0 5v1m0 1v1m0 0v1m0 0v1m0 4v1m0 3v1m0 3v1m0 5v1m0 2v1m0 3v1m0 2v1m1 -51v1m0 1v1m0 3v1m0 1v1m0 3v1m0 0v1m0 1v1m0 3v1m0 0v1m0 3v1m0 6v1m0 2v1m0 2v1m0 3v1m0 3v1m0 4v1m0 2v1m0 0v1m1 -56v1m0 1v1m0 21v1m0 10v1m0 1v1m0 1v1m0 3v1m0 1v1m0 6v1m0 7v1m1 -57v1m0 9v1m0 0v1m0 3v1m0 7v1m0 3v1m0 1v1m1 2v1m0 3v1m0 0v1m0 1v1m0 2v1m1 -23v1m0 2v1m0 2v1m0 2v1m0 2v1m0 2v1m1 -30v1m0 1v1m0 1v1m0 1v1m0 2v1m7 -6v1m0 1v1m1 -8v1m0 1v1m0 7v1m0 8v1m0 1v1m0 2v1m0 1v1m0 2v1m0 3v1m0 3v1m0 1v1m0 4v1m2 -39v1m0 14v1m0 3v1m0 0v1m0 9v1m0 3v1m0 3v1m1 -51v1m0 4v1m0 4v1m0 31v1m0 3v1m0 6v1m0 2v1m0 1v1m1 -63v1m0 2v1m0 0v1m0 6v1m0 0v1m0 1v1m0 1v1m0 1v1m0 4v1m0 0v1m0 2v1m0 0v1m0 1v1m0 8v1m1 -25v1m0 1v1m0 26v1m0 1v1m1 -42v1m0 0v1m0 1v1m0 1v1m0 1v1m0 6v1m0 3v1m0 1v1m0 1v1m0 4v1m0 2v1m0 10v1m0 1v1m0 1v1m0 0v1m0 0v1m0 1v1m0 5v1m0 4v1m0 2v1m0 2v1m1 -56v1m0 30v1m1 6v1m1 -41v1m0 3v1m0 6v1m0 2v1m0 0v1m0 2v1m0 3v1m0 1v1m0 3v1m0 1v1m0 0v1m1 -39v1m0 3v1m0 1v1m0 2v1m0 0v1m0 2v1m0 2v1m0 2v1m0 1v1m0 3v1m0 0v1m1 5v1m0 1v1m1 3v1m0 20v1m1 -22v1m0 9v1m0 2v1m1 -45v1m0 0v1m0 4v1m0 3v1m0 0v1m0 1v1m0 4v1m0 0v1m0 1v1m0 0v1m0 0v1m0 1v1m0 0v1m1 -40v1m0 3v1m0 3v1m0 1v1m0 3v1m0 1v1m0 2v1m0 6v1m0 1v1m0 1v1m0 11v1m0 1v1m0 3v1m0 1v1m1 -53v1m1 1v1m0 2v1m0 6v1m0 1v1m0 2v1m0 2v1m0 0v1m0 0v1m0 0v1m0 2v1m0 1v1m0 1v1m0 1v1m0 0v1m0 0v1m0 7v1m1 -6v1m0 0v1m0 1v1m1 -42v1m0 2v1m0 1v1m0 2v1m0 3v1m0 4v1m0 3v1m1 13v1m0 2v1m0 4v1m0 2v1m0 8v1m1 1v1m0 5v1m0 1v1m0 2v1m0 1v1m0 2v1m2 -10v1m1 -53v1m0 2v1m0 1v1m0 2v1m0 5v1m0 2v1m0 1v1m0 4v1m0 1v1m0 2v1m0 11v1m0 4v1m0 3v1m2 -60v1m0 1v1m0 1v1m0 2v1m0 0v1m0 3v1m0 2v1m0 1v1m0 3v1m0 1v1m0 1v1m0 3v1m0 1v1m1 -36v1m0 9v1m0 7v1m0 2v1m0 0v1m0 0v1m0 1v1m0 1v1m0 0v1m0 0v1m0 3v1m0 2v1m0 0v1m1 -20v1m0 1v1m0 4v1m0 1v1m0 3v1m0 1v1m0 10v1m0 0v1m0 5v1m0 1v1m1 -46v1m0 13v1m0 0v1m0 1v1m0 2v1m0 0v1m0 0v1m0 0v1m0 3v1m0 3v1m0 3v1m0 3v1m0 5v1m0 2v1m1 -51v1m0 1v1m0 0v1m0 0v1m0 3v1m0 1v1m1 -23v1m0 5v1m0 3v1m0 15v1m0 1v1m0 2v1m1 -33v1m0 5v1m0 4v1m0 3v1m0 6v1m0 14v1m0 2v1m0 3v1m3 -37v1m0 2v1m0 2v1m0 1v1m0 6v1m0 2v1m0 1v1m0 2v1m0 3v1m0 2v1m1 -41v1m0 20v1m0 2v1m0 19v1m0 14v1m0 1v1m0 1v1m0 2v1m0 3v1m0 4v1m1 -76v1m0 2v1m0 0v1m0 0v1m0 0v1m0 3v1m0 7v1m0 1v1m0 6v1m0 4v1m0 1v1m0 0v1m0 2v1m0 1v1m0 1v1m0 0v1m0 1v1m0 6v1m0 4v1m0 3v1m0 2v1m0 1v1m0 3v1m0 1v1m1 -66v1m0 0v1m0 4v1m0 1v1m0 0v1m0 1v1m0 0v1m0 1v1m0 0v1m0 1v1m0 0v1m0 3v1m0 3v1m0 5v1m0 4v1m0 6v1m0 1v1m0 2v1m0 0v1m1 -28v1m0 3v1m0 1v1m0 1v1m0 5v1m0 0v1m0 2v1m0 1v1m0 4v1m0 4v1m0 4v1m0 1v1m2 -66v1m0 2v1m0 3v1m0 2v1m0 1v1m0 1v1m0 1v1m0 0v1m0 2v1m0 0v1m0 3v1m0 2v1m0 1v1m0 5v1m1 -29v1m0 2v1m0 2v1m0 2v1m0 1v1m0 0v1m0 1v1m0 2v1m0 1v1m0 2v1m0 0v1m0 2v1m0 0v1m0 1v1m0 0v1m0 0v1m0 1v1m0 0v1m0 0v1m0 0v1m0 0v1m0 1v1m0 1v1m1 -51v1m0 1v1m0 0v1m0 6v1m0 1v1m0 0v1m0 1v1m0 1v1m0 1v1m0 0v1m0 1v1m0 3v1m0 0v1m0 0v1m0 0v1m0 0v1m0 1v1m0 0v1m0 6v1m0 0v1m0 1v1m0 4v1m1 -40v1m0 1v1m0 3v1m0 2v1m1 44v1m1 -63v1m0 5v1m0 37v1m0 9v1m0 4v1m1 -56v1m0 4v1m0 0v1m0 1v1m0 0v1m0 2v1m0 0v1m0 1v1m0 0v1m0 1v1m0 0v1m0 0v1m0 0v1m0 0v1m0 0v1m0 2v1m0 0v1m0 0v1m0 2v1m0 0v1m0 0v1m0 6v1m0 1v1m1 -49v1m0 3v1m0 1v1m0 1v1m0 1v1m0 0v1m0 0v1m0 0v1m0 0v1m0 1v1m0 0v1m0 2v1m1 13v1m0 2v1m0 3v1m1 -37v1m0 2v1m0 1v1m0 14v1m0 2v1m0 3v1m0 11v1m0 1v1m0 2v1m0 2v1m1 -56v1m0 2v1m0 1v1m0 1v1m0 0v1m0 1v1m0 0v1m0 2v1m0 3v1m0 1v1m0 1v1m0 0v1m0 2v1m0 1v1m0 1v1m0 2v1m0 0v1m0 0v1m0 0v1m0 0v1m0 3v1m0 3v1m0 2v1m0 1v1m0 1v1m0 2v1m0 1v1m1 -43v1m0 1v1m0 1v1m0 3v1m0 2v1m0 2v1m0 0v1m0 5v1m0 0v1m0 6v1m0 2v1m0 1v1m0 8v1m0 1v1m1 -58v1m0 0v1m0 1v1m0 0v1m0 1v1m0 0v1m0 0v1m0 0v1m0 2v1m0 0v1m0 0v1m0 1v1m0 1v1m0 1v1m0 0v1m0 1v1m0 1v1m0 2v1m0 0v1m0 0v1m1 -34v1m0 1v1m0 3v1m0 3v1m0 5v1m0 1v1m0 3v1m0 0v1m0 0v1m0 1v1m0 1v1m0 2v1m0 0v1m0 0v1m0 0v1m0 12v1m0 1v1m0 1v1m0 1v1m0 1v1m0 1v1m0 6v1m0 1v1m1 -69v1m0 1v1m0 1v1m0 1v1m0 2v1m0 2v1m0 0v1m0 0v1m0 2v1m0 2v1m0 1v1m0 5v1m0 1v1m0 1v1m0 5v1m0 1v1m0 0v1m0 1v1m0 0v1m0 0v1m0 0v1m0 1v1m0 19v1m0 1v1m1 -66v1m0 5v1m0 37v1m0 3v1m0 2v1m0 1v1m0 4v1m0 2v1m1 -63v1m0 5v1m0 2v1m0 5v1m0 1v1m0 3v1m0 1v1m0 4v1m0 7v1m1 -29v1m0 8v1m0 5v1m1 20v1m0 1v1m1 -39v1m0 20v1m0 2v1m0 1v1m0 2v1m0 14v1m0 1v1m0 2v1m1 -60v1m0 10v1m0 1v1m0 1v1m0 9v1m0 2v1m0 13v1m0 3v1m1 -30v1m0 1v1m0 0v1m0 1v1m1 -22v1m0 5v1m0 2v1m0 0v1m0 1v1m0 1v1m0 1v1m0 1v1m0 2v1m0 1v1m0 0v1m0 1v1m0 1v1m0 0v1m0 6v1m0 5v1m0 2v1m0 6v1m0 1v1m0 9v1m1 -56v1m0 1v1m0 2v1m0 1v1m0 1v1m0 0v1m0 5v1m0 3v1m0 1v1m0 2v1m0 2v1m0 0v1m0 5v1m0 1v1m1 8v1m0 0v1m0 6v1m1 -15v1m1 -54v1m0 2v1m0 0v1m0 3v1m0 7v1m0 3v1m0 1v1m0 8v1m0 1v1m0 0v1m0 0v1m0 0v1m0 0v1m0 3v1m0 1v1m0 0v1m0 0v1m0 2v1m1 -45v1m0 7v1m0 1v1m0 2v1m0 0v1m0 2v1m0 1v1m0 1v1m0 20v1m0 1v1m0 1v1m0 1v1m0 11v1m0 4v1m2 -17v1m0 3v1m1 -46v1m0 2v1m0 1v1m0 1v1m0 6v1m0 2v1m0 2v1m0 2v1m0 2v1m0 3v1m0 4v1m0 2v1m0 0v1m0 11v1m1 -19v1m1 -37v1m0 2v1m0 4v1m1 -15v1m0 3v1m1 5v1m0 2v1m0 2v1m0 0v1m0 8v1m0 1v1m0 16v1m0 1v1m0 1v1m0 3v1m0 5v1m0 1v1m0 0v1m0 3v1m0 1v1m1 -59v1m0 5v1m0 4v1m0 2v1m0 1v1m0 2v1m0 0v1m0 6v1m0 1v1m0 1v1m1 -30v1m0 1v1m0 1v1m0 1v1m0 0v1m0 4v1m0 5v1m0 0v1m0 1v1m0 0v1m0 1v1m0 0v1m0 10v1m0 2v1m0 2v1m0 8v1m0 0v1m0 2v1m0 3v1m0 3v1m0 1v1m1 -69v1m0 2v1m0 2v1m0 0v1m0 0v1m0 1v1m0 0v1m0 1v1m0 1v1m0 4v1m0 1v1m0 1v1m0 1v1m0 0v1m0 0v1m0 1v1m0 1v1m0 0v1m0 0v1m0 0v1m0 3v1m0 1v1m0 1v1m0 4v1m0 5v1m1 -49v1m0 1v1m0 3v1m0 5v1m0 16v1m0 5v1m0 14v1m1 -63v1m0 5v1m0 0v1m0 4v1m0 0v1m0 4v1m0 2v1m0 2v1m0 3v1m0 1v1m0 3v1m0 0v1m0 4v1m0 1v1m0 5v1m0 2v1m0 1v1m0 1v1m0 9v1m0 0v1m0 1v1m3 -69v1m0 0v1m0 1v1m0 0v1m0 0v1m0 0v1m0 1v1m0 0v1m0 0v1m0 2v1m0 0v1m0 8v1m0 3v1m0 1v1m0 1v1m0 1v1m0 24v1m0 2v1m0 11v1m0 0v1m1 -80v1m0 0v1m0 1v1m0 0v1m0 1v1m0 1v1m0 2v1m0 1v1m0 3v1m0 1v1m0 0v1m0 0v1m0 0v1m0 0v1m0 0v1m0 3v1m0 0v1m0 5v1m0 0v1m0 2v1m0 1v1m0 0v1m0 0v1m0 1v1m0 0v1m0 0v1m0 0v1m0 4v1m0 1v1m0 0v1m0 1v1m0 4v1m0 0v1m0 1v1m0 4v1m0 1v1m0 0v1m0 1v1m1 -77v1m0 0v1m0 1v1m0 1v1m0 2v1m0 2v1m0 0v1m0 0v1m0 0v1m0 1v1m0 1v1m0 1v1m0 4v1m0 0v1m0 11v1m0 1v1m0 0v1m0 0v1m0 0v1m0 1v1m0 1v1m0 1v1m0 0v1m0 1v1m0 0v1m0 1v1m0 6v1m0 5v1m0 2v1m0 0v1m0 7v1m1 -73v1m0 3v1m0 13v1m0 0v1m0 0v1m0 0v1m0 0v1m0 0v1m0 0v1m0 0v1m0 0v1m0 0v1m0 0v1m0 0v1m0 1v1m0 0v1m0 13v1m0 0v1m0 2v1m0 0v1m0 2v1m1 -52v1m0 1v1m0 0v1m0 1v1m0 1v1m0 0v1m0 1v1m0 1v1m0 9v1m0 1v1m0 1v1m1 -33v1m0 15v1m0 9v1m0 11v1m1 -43v1m0 1v1m0 1v1m0 8v1m0 1v1m0 29v1m0 8v1m0 3v1m0 4v1m0 1v1m0 1v1m1 -68v1m0 3v1m0 1v1m0 1v1m0 3v1m0 0v1m0 2v1m0 0v1m0 2v1m0 0v1m0 0v1m0 0v1m0 0v1m0 0v1m0 1v1m0 0v1m0 2v1m0 2v1m0 2v1m0 1v1m0 32v1m2 -58v1m0 0v1m0 1v1m0 0v1m0 1v1m0 1v1m0 1v1m0 7v1m0 3v1m0 2v1m0 0v1m1 -14v1m0 2v1m0 10v1m0 2v1m0 1v1m0 2v1m0 0v1m0 1v1m0 0v1m0 15v1m0 2v1m0 2v1m0 2v1m1 -70v1m0 4v1m0 4v1m0 1v1m0 2v1m0 4v1m0 1v1m0 4v1m0 1v1m0 15v1m0 0v1m0 1v1m0 2v1m0 0v1m0 0v1m0 1v1m0 1v1m0 0v1m1 -59v1m0 3v1m0 1v1m0 3v1m0 0v1m0 3v1m0 1v1m0 1v1m0 0v1m0 2v1m0 2v1m0 2v1m0 1v1m0 4v1m0 1v1m0 1v1m0 1v1m1 -42v1m0 2v1m0 4v1m0 1v1m0 0v1m0 0v1m0 0v1m0 1v1m0 1v1m0 1v1m0 1v1m0 3v1m0 1v1m0 1v1m0 5v1m0 1v1m0 1v1m0 8v1m0 3v1m0 1v1m0 1v1m0 1v1m0 0v1m0 1v1m0 1v1m0 1v1m1 -64v1m0 0v1m0 1v1m0 0v1m0 0v1m0 10v1m0 2v1m0 1v1m0 2v1m0 1v1m0 1v1m0 0v1m0 2v1m0 0v1m0 0v1m0 0v1m0 1v1m0 4v1m1 -48v1m0 3v1m0 8v1m0 1v1m0 2v1m0 1v1m0 1v1m1 -9v1m0 1v1m0 4v1m0 1v1m0 2v1m0 4v1m1 -33v1m0 1v1m0 1v1m0 11v1m0 2v1m0 20v1m0 2v1m0 2v1m0 1v1m0 3v1m1 -42v1m0 9v1m1 5v1m0 3v1m0 1v1m0 1v1m0 2v1m0 1v1m0 3v1m0 1v1m1 -47v1m1 5v1m0 0v1m0 8v1m0 3v1m0 0v1m0 2v1m0 2v1m0 3v1m0 1v1m0 3v1m0 6v1m0 0v1m0 5v1m0 2v1m0 1v1m0 3v1m0 1v1m1 -54v1m0 3v1m0 1v1m0 1v1m0 1v1m0 0v1m0 0v1m0 0v1m0 5v1m0 2v1m0 0v1m0 0v1m0 3v1m0 0v1m0 0v1m0 1v1m0 1v1m0 9v1m0 0v1m0 1v1m0 1v1m1 -29v1m0 2v1m0 1v1m0 0v1m0 6v1m0 1v1m0 13v1m0 0v1m1 -45v1m0 1v1m0 7v1m0 2v1m0 1v1m0 5v1m0 31v1m1 -61v1m0 2v1m0 2v1m0 2v1m0 0v1m0 1v1m0 1v1m0 0v1m0 1v1m0 0v1m0 1v1m0 2v1m0 1v1m0 2v1m0 3v1m0 6v1m0 1v1m0 3v1m0 6v1m0 2v1m0 0v1m1 -62v1m0 2v1m0 4v1m0 2v1m0 0v1m0 2v1m0 0v1m0 1v1m0 3v1m0 3v1m0 2v1m0 0v1m0 0v1m0 0v1m0 0v1m0 0v1m0 0v1m0 0v1m0 2v1m0 0v1m0 1v1m0 2v1m0 3v1m0 5v1m0 2v1m1 -63v1m0 1v1m0 3v1m0 2v1m0 2v1m0 0v1m0 0v1m0 1v1m0 0v1m0 0v1m0 1v1m0 0v1m0 0v1m0 0v1m0 0v1m0 0v1m0 1v1m0 1v1m0 1v1m0 0v1m0 0v1m0 0v1m0 1v1m0 2v1m0 1v1m0 0v1m0 0v1m0 0v1m0 0v1m0 1v1m0 0v1m0 1v1m0 1v1m0 2v1m0 5v1m0 2v1m0 2v1m1 -65v1m0 3v1m0 1v1m0 1v1m0 1v1m0 1v1m0 3v1m0 13v1m0 0v1m0 3v1m0 4v1m0 3v1m0 1v1m1 -45v1m0 24v1m0 11v1m0 5v1m1 -45v1m0 2v1m0 1v1m0 3v1m0 2v1m0 2v1m0 3v1m0 1v1m0 0v1m0 1v1m0 1v1m0 6v1m0 1v1m0 3v1m0 1v1m0 3v1m1 -43v1m0 2v1m0 0v1m0 4v1m0 3v1m0 0v1m0 0v1m0 2v1m0 1v1m0 1v1m0 1v1m0 1v1m0 11v1m0 7v1m1 -49v1m0 36v1m0 2v1m0 4v1m0 2v1m0 1v1m1 -42v1m0 3v1m0 1v1m0 1v1m0 2v1m0 2v1m0 6v1m0 0v1m0 0v1m0 3v1m0 0v1m0 2v1m0 1v1m0 0v1m0 1v1m0 0v1m1 -49v1m0 3v1m0 4v1m0 1v1m0 1v1m0 30v1m0 6v1m2 -39v1m0 0v1m0 3v1m0 2v1m0 1v1m0 5v1m0 3v1m0 4v1m0 0v1m0 1v1m1 -35v1m0 0v1m0 8v1m0 2v1m0 0v1m0 0v1m0 2v1m0 21v1m0 1v1m0 12v1m1 -36v1m0 2v1m0 0v1m0 2v1m0 1v1m0 2v1m0 1v1m0 0v1m0 0v1m0 0v1m0 0v1m0 3v1m0 6v1m0 1v1m0 0v1m1 -46v1m0 1v1m0 6v1m0 0v1m0 4v1m0 0v1m0 1v1m0 2v1m0 0v1m0 1v1m0 1v1m0 1v1m1 -30v1m0 5v1m0 1v1m0 2v1m1 -23v1m0 1v1m0 3v1m0 1v1m0 0v1m1 -4v1m0 3v1m0 1v1m0 1v1m0 2v1m0 2v1m0 1v1m0 1v1m0 0v1m0 1v1m0 1v1m0 0v1m0 1v1m0 3v1m0 22v1m1 -57v1m0 9v1m0 24v1m0 9v1m0 0v1m0 2v1m0 3v1m1 -3v1m0 2v1m1 -59v1m0 1v1m0 1v1m0 1v1m0 2v1m0 2v1m0 9v1m0 4v1m0 2v1m0 9v1m0 4v1m0 1v1m0 2v1m1 -20v1m0 2v1m0 1v1m1 -33v1m0 1v1m0 1v1m0 2v1m0 2v1m0 2v1m0 5v1m0 3v1m0 1v1m0 1v1m0 6v1m0 1v1m0 2v1m0 2v1m0 4v1m0 4v1m0 3v1m1 -58v1m0 6v1m0 1v1m0 1v1m0 1v1m0 1v1m0 5v1m0 1v1m0 1v1m0 3v1m0 3v1m0 1v1m0 1v1m0 2v1m0 3v1m0 2v1m1 -47v1m0 20v1m0 1v1m0 69v1m0 2v1m1 -93v1m0 18v1m0 5v1m0 3v1m1 -27v1m0 4v1m0 1v1m0 0v1m0 5v1m0 17v1m0 5v1m0 1v1m0 2v1m0 3v1m1 -48v1m0 1v1m0 1v1m0 3v1m0 0v1m0 2v1m1 5v1m0 1v1m0 0v1m0 2v1m0 2v1m0 0v1m0 2v1m0 1v1m0 2v1m0 1v1m0 0v1m0 3v1m1 -35v1m0 2v1m0 1v1m0 6v1m0 0v1m0 1v1m0 7v1m0 0v1m0 1v1m0 4v1m0 1v1m1 -36v1m0 1v1m0 3v1m0 1v1m0 0v1m0 8v1m0 0v1m0 1v1m0 0v1m0 16v1m1 -33v1m0 1v1m0 3v1m0 3v1m0 1v1m0 2v1m1 -7v1m0 1v1m0 0v1m0 0v1m0 0v1m0 6v1m0 1v1m0 2v1m0 1v1m1 -43v1m0 2v1m0 5v1m0 1v1m0 2v1m0 0v1m0 8v1m0 3v1m0 2v1m0 2v1m0 0v1m1 -33v1m0 7v1m0 1v1m0 2v1m0 4v1m0 1v1m0 0v1m0 2v1m0 1v1m0 1v1m0 2v1m0 2v1m0 0v1m0 0v1m0 0v1m0 0v1m1 -37v1m0 2v1m0 1v1m0 2v1m0 7v1m0 3v1m0 2v1m0 0v1m0 0v1m0 0v1m0 1v1m0 1v1m0 1v1m0 1v1m1 -39v1m0 1v1m0 1v1m0 0v1m0 2v1m0 0v1m0 2v1m0 0v1m0 1v1m0 1v1m0 2v1m1 -14v1m0 4v1m0 5v1m0 0v1m0 2v1m0 12v1m1 -33v1m0 3v1m0 2v1m0 13v1m0 4v1m0 3v1m2 -35v1m0 2v1m0 1v1m0 4v1m0 3v1m0 1v1m0 2v1m0 1v1m0 1v1m0 3v1m0 4v1m1 -39v1m0 1v1m0 4v1m0 2v1m0 1v1m0 1v1m0 2v1m0 1v1m0 2v1m0 6v1m0 1v1m1 -34v1m0 4v1m0 0v1m0 2v1m0 2v1m0 1v1m0 0v1m0 2v1m0 1v1m0 1v1m1 -32v1m0 4v1m0 4v1m0 4v1m0 8v1m0 7v1m0 7v1m1 -40v1m0 3v1m0 2v1m0 13v1m0 2v1m0 4v1m0 3v1m0 6v1m2 -47v1m1 4v1m0 2v1m0 2v1m1 -11v1m0 0v1m0 1v1m0 7v1m0 2v1m0 1v1m0 1v1m0 0v1m0 2v1m0 1v1m0 0v1m0 0v1m1 -33v1m0 5v1m0 3v1m0 0v1m0 1v1m0 6v1m0 5v1m0 1v1m0 2v1m1 -37v1m0 2v1m1 -6v1m0 1v1m0 3v1m0 1v1m1 -25v1m0 1v1m0 2v1m0 0v1m0 6v1m0 12v1m1 -22v1m0 3v1m0 1v1m0 6v1m0 0v1m0 6v1m0 0v1m1 -33v1m0 2v1m0 4v1m0 26v1m0 3v1m1 -42v1m0 7v1m0 2v1m0 1v1m0 1v1m0 1v1m0 0v1m0 3v1m0 1v1m0 3v1m0 0v1m0 1v1m0 2v1m0 2v1m0 1v1m0 3v1m1 -39v1m0 2v1m0 1v1m0 1v1m0 1v1m0 1v1m0 0v1m0 2v1m0 26v1m1 -56v1m0 1v1m0 3v1m0 2v1m0 1v1m0 46v1m2 -52v1m0 1v1m0 2v1m0 2v1m0 14v1m0 4v1m0 2v1m0 1v1m0 0v1m0 0v1m3 -44v1m0 6v1m0 2v1m0 2v1m0 4v1m0 10v1m1 -32v1m0 7v1m0 1v1m0 3v1m0 1v1m0 9v1m0 20v1m1 -47v1m1 6v1m0 3v1m0 14v1m1 -34v1m0 7v1m0 1v1m0 0v1m0 1v1m0 1v1m0 1v1m0 5v1m0 0v1m0 1v1m0 1v1m0 0v1m0 1v1m0 0v1m0 1v1m0 0v1m0 0v1m0 1v1m0 2v1m0 6v1m1 -37v1m0 3v1m0 1v1m0 3v1m0 27v1m1 -44v1m0 1v1m0 0v1m0 3v1m0 1v1m0 1v1m0 0v1m0 2v1m0 1v1m0 1v1m0 9v1m1 13v1m1 -51v1m0 5v1m0 3v1m0 6v1m0 2v1m0 3v1m0 0v1m0 0v1m0 26v1m1 -48v1m0 1v1m0 1v1m0 3v1m0 8v1m0 6v1m1 -26v1m0 2v1m0 6v1m1 -28v1m0 8v1m0 3v1m0 11v1m0 4v1m0 1v1m0 0v1m0 1v1m0 1v1m0 1v1m0 0v1m0 1v1m0 2v1m1 -42v1m0 10v1m0 3v1m0 0v1m0 1v1m0 0v1m0 0v1m0 1v1m0 1v1m0 2v1m0 0v1m0 1v1m0 0v1m0 0v1m0 2v1m0 1v1m0 2v1m0 2v1m0 3v1m0 0v1m0 1v1m0 0v1m1 -51v1m0 0v1m0 3v1m0 0v1m0 30v1m1 -45v1m0 7v1m0 1v1m0 2v1m0 2v1m0 0v1m0 0v1m0 1v1m0 0v1m0 0v1m0 2v1m0 0v1m0 1v1m0 1v1m0 8v1m0 0v1m1 -28v1m0 20v1m0 1v1m0 0v1m0 2v1m0 3v1m0 2v1m1 -45v1m0 5v1m0 0v1m0 5v1m0 4v1m0 10v1m0 0v1m0 3v1m0 0v1m0 3v1m0 1v1m1 -33v1m0 1v1m0 3v1m0 2v1m0 2v1m0 1v1m1 -22v1m0 4v1m0 7v1m0 2v1m0 3v1m1 -22v1m1 4v1m0 0v1m0 0v1m0 1v1m1 1v1m0 1v1m0 2v1m0 2v1m0 1v1m0 2v1m0 2v1m1 -53v1m0 2v1m0 0v1m0 1v1m0 1v1m0 0v1m0 1v1m0 2v1m0 1v1m0 4v1m0 5v1m0 0v1m1 -21v1m0 3v1m0 3v1m0 1v1m0 2v1m0 1v1m0 3v1m1 -13v1m0 6v1m0 0v1m0 1v1m0 0v1m0 0v1m0 0v1m0 1v1m0 0v1m0 0v1m0 0v1m0 0v1m0 0v1m0 5v1m0 4v1m0 1v1m1 -28v1m0 13v1m0 1v1m1 -14v1m0 3v1m0 1v1m0 3v1m0 3v1m0 1v1m0 0v1m0 0v1m0 1v1m0 0v1m0 2v1m0 3v1m0 4v1m1 -43v1m0 3v1m0 0v1m0 39v1m0 1v1m0 5v1m1 -41v1m0 8v1m0 9v1m0 1v1m0 0v1m0 1v1m0 2v1m0 2v1m0 3v1m0 6v1m0 0v1m0 0v1m0 1v1m0 3v1m1 -46v1m0 1v1m0 0v1m0 1v1m0 0v1m0 1v1m0 0v1m0 1v1m0 3v1m0 3v1m0 1v1m0 2v1m0 1v1m1 -33v1m0 6v1m0 21v1m0 4v1m0 1v1m0 2v1m0 2v1m0 4v1m0 4v1m0 0v1m0 1v1m1 -52v1m0 1v1m0 3v1m0 2v1m0 2v1m0 1v1m0 2v1m0 1v1m0 0v1m0 1v1m0 1v1m0 13v1m0 3v1m0 7v1m0 0v1m2 -49v1m0 1v1m0 3v1m0 3v1m0 2v1m0 0v1m0 1v1m0 1v1m0 1v1m0 13v1m0 6v1m0 1v1m0 0v1m0 0v1m0 2v1m1 -53v1m0 6v1m0 2v1m0 0v1m0 11v1m0 4v1m0 2v1m0 5v1m0 2v1m1 -28v1m0 1v1m0 1v1m0 1v1m1 -8v1m0 1v1m0 1v1m0 1v1m0 0v1m0 0v1m0 1v1m0 7v1m0 1v1m0 1v1m0 1v1m0 1v1m0 0v1m0 1v1m0 1v1m0 3v1m0 1v1m0 0v1m0 0v1m1 -33v1m0 0v1m0 2v1m0 1v1m0 1v1m0 0v1m0 16v1m0 1v1m0 2v1m0 5v1m1 -13v1m0 16v1m1 -30v1m2 39v1m0 1v1m0 1v1m1 -54v1m0 7v1m0 1v1m0 3v1m0 3v1m0 6v1m0 1v1m0 18v1m1 -56v1m0 1v1m0 1v1m0 0v1m0 2v1m0 5v1m0 1v1m0 3v1m0 10v1m0 0v1m0 1v1m0 0v1m0 0v1m0 0v1m0 0v1m0 0v1m0 2v1m0 2v1m0 2v1m0 2v1m0 2v1m0 0v1m0 1v1m0 1v1m0 2v1m1 -57v1m0 1v1m0 2v1m0 1v1m0 3v1m0 1v1m0 1v1m0 0v1m0 1v1m0 0v1m0 1v1m0 0v1m0 1v1m0 0v1m0 12v1m1 -30v1m0 8v1m0 22v1m0 3v1m0 2v1m1 -35v1m0 2v1m0 1v1m0 6v1m0 1v1m0 0v1m0 0v1m0 1v1m0 0v1m0 2v1m0 2v1m0 2v1m0 4v1m0 2v1m0 3v1m0 0v1m0 1v1m0 0v1m0 0v1m0 0v1m0 0v1m1 -47v1m0 2v1m0 3v1m0 0v1m0 2v1m0 34v1m0 2v1m1 -24v1m0 11v1m0 7v1m0 2v1m0 4v1m1 -58v1m0 12v1m0 2v1m0 0v1m0 0v1m0 5v1m0 4v1m0 0v1m0 17v1m0 6v1m0 1v1m1 -61v1m0 1v1m0 0v1m0 2v1m0 1v1m0 2v1m0 1v1m0 5v1m0 0v1m0 0v1m0 0v1m0 1v1m0 0v1m0 0v1m0 2v1m0 3v1m0 1v1m0 2v1m0 0v1m0 1v1m0 1v1m0 0v1m0 0v1m0 1v1m0 1v1m0 6v1m0 0v1m1 -41v1m0 1v1m0 12v1m0 0v1m0 6v1m0 1v1m0 2v1m0 5v1m0 3v1m0 1v1m0 4v1m0 0v1m1 -60v1m0 3v1m0 6v1m0 5v1m0 0v1m0 12v1m0 28v1m0 0v1m0 1v1m0 6v1m1 -55v1m0 3v1m0 1v1m0 1v1m0 5v1m0 4v1m0 0v1m0 0v1m0 2v1m0 2v1m0 3v1m0 1v1m0 0v1m0 0v1m0 0v1m0 2v1m0 5v1m0 1v1m0 2v1m0 1v1m0 0v1m0 4v1m1 -67v1m0 1v1m0 3v1m0 0v1m0 2v1m0 2v1m0 16v1m0 5v1m0 4v1m0 1v1m0 3v1m0 1v1m1 -11v1m0 16v1m1 -33v1m0 0v1m0 5v1m0 2v1m0 0v1m0 0v1m0 0v1m1 -26v1m0 0v1m0 1v1m1 -11v1m0 53v1m0 3v1m1 -60v1m0 2v1m0 8v1m0 2v1m0 2v1m0 5v1m0 0v1m0 2v1m0 24v1m1 -60v1m0 4v1m0 5v1m0 2v1m0 1v1m0 2v1m0 0v1m0 1v1m0 0v1m0 5v1m0 3v1m0 0v1m0 3v1m0 2v1m0 1v1m0 1v1m0 2v1m0 5v1m0 2v1m0 11v1m0 2v1m0 2v1m0 1v1m0 3v1m1 -74v1m0 1v1m0 2v1m0 2v1m0 2v1m0 11v1m0 2v1m0 2v1m0 0v1m0 5v1m0 0v1m0 0v1m0 2v1m0 1v1m0 1v1m0 1v1m0 5v1m0 4v1m0 1v1m0 4v1m1 -63v1m0 2v1m0 1v1m0 4v1m0 0v1m0 0v1m0 1v1m0 1v1m0 1v1m0 5v1m0 1v1m0 2v1m0 5v1m0 1v1m0 8v1m0 0v1m0 0v1m0 1v1m0 3v1m0 4v1m0 0v1m1 -59v1m0 4v1m0 4v1m0 5v1m0 46v1m0 5v1m0 1v1m1 -70v1m0 0v1m0 7v1m0 7v1m0 0v1m0 1v1m0 9v1m0 9v1m0 4v1m0 7v1m0 1v1m1 -62v1m0 4v1m0 5v1m0 1v1m0 2v1m0 3v1m0 1v1m0 1v1m0 2v1m0 1v1m0 0v1m0 3v1m0 0v1m0 2v1m0 0v1m0 0v1m0 0v1m0 1v1m0 0v1m0 2v1m0 1v1m1 -59v1m0 2v1m0 2v1m0 2v1m0 1v1m0 0v1m0 2v1m0 2v1m0 2v1m0 11v1m0 1v1m0 0v1m0 1v1m0 1v1m0 0v1m0 0v1m0 3v1m0 12v1m0 1v1m1 -52v1m0 1v1m0 1v1m0 0v1m0 2v1m0 1v1m0 0v1m0 0v1m0 1v1m0 2v1m0 0v1m0 1v1m0 4v1m0 1v1m0 1v1m0 1v1m0 1v1m0 3v1m0 0v1m0 3v1m1 -45v1m0 3v1m0 38v1m0 1v1m0 1v1m0 1v1m0 3v1m0 4v1m1 -18v1m0 1v1m0 4v1m0 4v1m0 1v1m0 6v1m0 4v1m1 -64v1m0 0v1m0 3v1m0 0v1m0 2v1m0 1v1m0 2v1m0 9v1m0 3v1m0 1v1m1 -13v1m0 1v1m0 1v1m0 1v1m1 -19v1m0 1v1m0 0v1m0 1v1m0 3v1m1 -5v1m0 9v1m1 -19v1m0 1v1m0 3v1m0 3v1m0 1v1m0 2v1m0 0v1m0 1v1m0 0v1m0 1v1m0 0v1m0 0v1m0 1v1m0 0v1m0 1v1m0 0v1m0 2v1m0 0v1m0 3v1m0 0v1m0 2v1m0 1v1m0 0v1m0 2v1m0 2v1m0 3v1m0 1v1m1 -62v1m0 1v1m0 1v1m0 2v1m0 6v1m0 39v1m0 1v1m0 2v1m0 1v1m0 3v1m1 -56v1m2 -12v1m0 1v1m0 2v1m0 1v1m0 2v1m1 -12v1m0 14v1m0 2v1m0 3v1m0 3v1m0 5v1m0 1v1m0 3v1m0 2v1m1 -32v1m0 2v1m0 2v1m0 8v1m0 3v1m0 0v1m0 1v1m0 0v1m0 2v1m0 6v1m0 8v1m0 1v1m0 2v1m0 3v1m0 1v1m1 -74v1m0 2v1m0 3v1m0 0v1m0 3v1m0 2v1m0 4v1m0 3v1m0 5v1m0 0v1m0 1v1m0 4v1m0 1v1m0 0v1m0 2v1m0 1v1m0 3v1m0 1v1m0 4v1m0 2v1m0 5v1m0 3v1m1 -54v1m0 6v1m0 1v1m0 8v1m0 0v1m0 0v1m0 6v1m0 5v1m0 0v1m0 0v1m0 2v1m0 0v1m0 0v1m0 1v1m0 1v1m1 -20v1m0 15v1m1 2v1m0 1v1m0 1v1m0 2v1m0 6v1m0 1v1m1 -79v1m0 13v1m0 13v1m0 15v1m0 1v1m0 7v1m1 -35v1m0 3v1m0 34v1m1 -54v1m0 3v1m0 1v1m0 53v1m0 3v1m0 2v1m1 -72v1m0 1v1m0 6v1m0 3v1m0 2v1m0 1v1m0 0v1m0 3v1m0 3v1m0 0v1m0 0v1m0 1v1m0 2v1m0 1v1m0 0v1m0 0v1m0 0v1m0 1v1m0 1v1m0 1v1m0 1v1m0 4v1m0 0v1m0 2v1m0 18v1m1 -69v1m0 0v1m0 5v1m0 3v1m0 3v1m0 2v1m0 5v1m1 -28v1m0 0v1m1 0v1m0 1v1m0 3v1m0 2v1m0 2v1m0 1v1m0 2v1m0 5v1m0 2v1m0 9v1m0 0v1m0 1v1m0 4v1m0 2v1m0 0v1m0 2v1m0 2v1m0 3v1m0 2v1m0 1v1m0 1v1m1 -70v1m0 1v1m0 6v1m0 1v1m0 6v1m0 3v1m0 15v1m1 -34v1m0 5v1m0 1v1m0 6v1m0 4v1m0 0v1m0 0v1m0 1v1m0 0v1m0 0v1m0 3v1m0 1v1m0 3v1m0 1v1m0 8v1m0 1v1m0 9v1m1 -61v1m0 3v1m0 2v1m0 6v1m0 3v1m0 6v1m0 1v1m0 1v1m0 2v1m0 2v1m0 0v1m0 16v1m0 1v1m1 -55v1m0 0v1m0 1v1m0 4v1m0 1v1m0 2v1m0 0v1m0 4v1m0 2v1m0 5v1m0 0v1m1 -12v1m0 3v1m0 9v1m1 -26v1m0 8v1m0 2v1m0 17v1m0 0v1m0 5v1m0 1v1m0 1v1m0 9v1m1 -26v1m0 3v1m0 1v1m0 0v1m0 2v1m0 5v1m0 1v1m0 1v1m0 3v1m1 -58v1m0 6v1m0 3v1m0 4v1m0 1v1m0 2v1m0 3v1m0 2v1m0 1v1m0 3v1m1 -31v1m0 3v1m0 1v1m0 0v1m0 4v1m0 3v1m0 2v1m0 1v1m5 -23v1m0 3v1m0 2v1m0 2v1m0 9v1m0 2v1m0 3v1m2 85v1m0 2v1m1 -114v1m1 -13v1m0 2v1m0 1v1m0 1v1m0 3v1m0 2v1m0 3v1m0 0v1m0 2v1m0 8v1m0 1v1m0 1v1m0 0v1m0 1v1m0 3v1m1 -27v1m0 2v1m0 1v1m0 7v1m0 1v1m0 17v1m0 2v1m0 2v1m0 1v1m2 -47v1m0 1v1m0 1v1m0 0v1m0 0v1m0 0v1m0 0v1m0 8v1m0 2v1m0 3v1m0 1v1m1 -17v1m0 1v1m0 0v1m0 0v1m0 18v1m0 24v1m0 1v1m0 2v1m0 3v1m1 -49v1m0 2v1m0 7v1m0 2v1m0 4v1m0 3v1m0 3v1m0 2v1m0 1v1m0 2v1m1 -20v1m2 -13v1m0 5v1m0 3v1m0 6v1m1 -28v1m0 3v1m0 1v1m0 2v1m0 0v1m0 1v1m0 5v1m0 2v1m0 3v1m0 2v1m0 0v1m0 2v1m0 5v1m0 60v1m1 -94v1m0 1v1m0 3v1m0 13v1m0 2v1m0 19v1m0 2v1m0 1v1m0 0v1m1 -51v1m0 2v1m0 0v1m0 1v1m0 1v1m0 1v1m0 0v1m0 0v1m0 1v1m0 3v1m0 7v1m0 2v1m0 2v1m0 0v1m0 1v1m0 1v1m0 2v1m0 5v1m0 1v1m0 1v1m1 -51v1m0 2v1m0 9v1m0 2v1m0 0v1m0 0v1m0 2v1m0 0v1m0 0v1m0 0v1m0 3v1m0 2v1m0 1v1m0 1v1m2 -46v1m0 4v1m0 1v1m0 3v1m0 0v1m0 0v1m0 1v1m0 1v1m0 1v1m0 2v1m0 0v1m0 1v1m0 0v1m0 1v1m0 3v1m0 1v1m0 3v1m0 1v1m0 1v1m0 0v1m0 1v1m0 2v1m0 1v1m0 0v1m0 1v1m1 -33v1m0 5v1m0 14v1m0 19v1m0 3v1m1 -60v1m0 1v1m0 1v1m0 2v1m0 3v1m0 2v1m0 20v1m0 3v1m0 0v1m0 2v1m0 1v1m0 1v1m0 3v1m1 -34v1m0 3v1m0 5v1m0 10v1m1 -51v1m0 2v1m0 7v1m0 0v1m0 1v1m0 1v1m0 1v1m0 0v1m0 4v1m0 1v1m0 0v1m0 0v1m0 2v1m0 0v1m0 1v1m0 0v1m0 1v1m0 1v1m0 2v1m0 1v1m0 0v1m0 1v1m0 0v1m0 0v1m0 3v1m0 3v1m0 2v1m0 3v1m1 -62v1m0 2v1m0 9v1m0 1v1m0 3v1m0 2v1m0 0v1m0 5v1m0 2v1m0 1v1m0 2v1m0 1v1m0 4v1m0 2v1m1 -51v1m0 1v1m0 3v1m0 2v1m0 3v1m0 10v1m0 4v1m0 0v1m0 0v1m0 2v1m0 2v1m0 0v1m0 0v1m0 1v1m0 7v1m0 1v1m0 1v1m0 1v1m0 0v1m0 1v1m0 4v1m1 -65v1m0 1v1m0 0v1m0 9v1m0 2v1m0 2v1m0 0v1m0 3v1m0 0v1m0 1v1m0 16v1m0 3v1m1 -50v1m0 2v1m0 2v1m0 0v1m0 1v1m0 1v1m0 0v1m0 0v1m0 0v1m0 2v1m0 2v1m0 1v1m0 1v1m0 11v1m0 0v1m0 6v1m0 3v1m0 3v1m0 2v1m0 0v1m0 1v1m0 5v1m0 1v1m0 1v1m0 0v1m0 1v1m1 -56v1m0 1v1m0 3v1m0 2v1m0 2v1m0 2v1m0 1v1m0 42v1m0 1v1m0 1v1m1 -76v1m0 3v1m0 6v1m0 1v1m0 1v1m1 -22v1m0 2v1m0 20v1m0 2v1m0 1v1m1 -32v1m0 0v1m0 12v1m0 1v1m0 1v1m0 2v1m0 0v1m1 -23v1m0 3v1m0 1v1m0 0v1m0 1v1m0 0v1m0 1v1m0 1v1m0 3v1m0 1v1m0 2v1m0 1v1m0 3v1m0 2v1m0 3v1m0 0v1m0 0v1m0 2v1m0 2v1m0 2v1m1 -48v1m0 2v1m0 6v1m0 2v1m0 0v1m0 10v1m0 3v1m0 0v1m0 1v1m0 1v1m0 0v1m0 3v1m0 0v1m0 2v1m0 8v1m1 -56v1m0 2v1m0 1v1m0 1v1m0 2v1m0 3v1m0 2v1m0 3v1m0 1v1m0 1v1m0 1v1m0 1v1m0 0v1m0 0v1m0 3v1m0 0v1m0 3v1m0 1v1m0 3v1m1 -48v1m0 2v1m0 2v1m0 1v1m0 1v1m0 1v1m0 4v1m0 2v1m1 -29v1m0 2v1m0 16v1m0 12v1m0 0v1m0 1v1m0 1v1m0 2v1m0 2v1m0 0v1m1 -42v1m0 3v1m0 2v1m0 0v1m0 1v1m0 1v1m0 9v1m0 1v1m0 0v1m0 3v1m0 2v1m0 1v1m3 4v1m0 2v1m0 1v1m0 2v1m0 2v1m0 10v1m0 2v1m1 -55v1m0 0v1m0 1v1m0 2v1m0 1v1m0 4v1m0 1v1m0 2v1m0 1v1m0 4v1m0 1v1m1 -31v1m0 6v1m0 2v1m0 1v1m0 2v1m0 15v1m0 3v1m1 -19v1m0 7v1m2 -29v1m0 11v1m0 2v1m0 1v1m0 4v1m0 3v1m0 4v1m0 2v1m0 2v1m0 1v1m1 7v1m0 2v1m0 0v1m0 2v1m0 1v1m0 3v1m0 1v1m0 2v1m0 3v1m1 -43v1m0 4v1m0 0v1m0 0v1m0 1v1m0 2v1m0 0v1m0 3v1m0 1v1m0 1v1m0 5v1m0 4v1m0 2v1m1 -34v1m0 3v1m1 1v1m0 6v1m0 5v1m0 2v1m0 9v1m2 -39v1m0 1v1m0 6v1m0 3v1m0 1v1m0 1v1m1 -20v1m0 13v1m0 2v1m0 3v1m0 1v1m0 0v1m0 1v1m0 7v1m0 2v1m0 2v1m0 2v1m1 -34v1m0 0v1m0 1v1m0 24v1m0 1v1m0 3v1m0 2v1m0 2v1m1 -47v1m0 2v1m0 2v1m0 1v1m0 1v1m0 1v1m0 3v1m0 1v1m0 1v1m0 3v1m0 2v1m0 0v1m0 0v1m0 0v1m0 4v1m0 2v1m3 -14v1m0 0v1m0 3v1m1 -30v1m0 3v1m0 2v1m0 1v1m0 3v1m0 19v1m0 3v1m0 2v1m2 -39v1m0 1v1m0 15v1m1 -14v1m0 3v1m0 0v1m0 3v1m0 0v1m0 1v1m0 1v1m1 -16v1m0 3v1m0 3v1m0 1v1m0 1v1m0 1v1m0 2v1m0 0v1m0 0v1m0 0v1m0 0v1m0 2v1m0 2v1m1 -4v1m0 1v1m1 -6v1m0 1v1m0 3v1m0 1v1m0 1v1m0 3v1m0 1v1m1 -23v1m0 0v1m0 0v1m0 0v1m0 3v1m0 3v1m1 -24v1m0 3v1m0 3v1m0 0v1m0 0v1m1 -18v1m0 0v1m0 1v1m0 4v1m0 15v1m0 4v1m0 2v1m0 1v1m0 22v1m1 -36v1m1 -15v1m0 1v1m0 2v1m1 -10v1m0 4v1m0 5v1m0 2v1m0 1v1m0 3v1m0 2v1m0 2v1m0 2v1m0 3v1m0 1v1m0 0v1m1 -44v1m0 1v1m0 4v1m0 0v1m0 2v1m0 15v1m0 2v1m0 15v1m1 -31v1m0 1v1m0 3v1m0 2v1m1 -15v1m1 1v1m0 1v1m0 3v1m0 2v1m0 1v1m0 0v1m0 3v1m0 2v1m0 3v1m0 0v1m0 1v1m0 2v1m1 -39v1m0 3v1m0 7v1m0 3v1m0 1v1m0 6v1m1 -32v1m0 0v1m0 0v1m1 13v1m0 5v1m0 4v1m0 1v1m0 1v1m0 2v1m1 -25v1m0 2v1m3 -5v1m0 0v1m0 1v1m0 1v1m0 2v1m0 2v1m0 0v1m0 1v1m0 2v1m0 2v1m0 6v1m4 -39v1m0 4v1m0 8v1m0 0v1m0 1v1m0 3v1m0 6v1m0 1v1m0 5v1m1 -24v1m0 3v1m0 1v1m0 18v1m0 2v1m0 3v1m0 6v1m1 -38v1m0 8v1m0 3v1m0 3v1m1 -22v1m0 1v1m0 2v1m0 3v1m0 1v1m0 21v1m0 1v1m1 -35v1m0 12v1m0 4v1m0 0v1m0 1v1m0 3v1m0 0v1m0 1v1m0 1v1m0 1v1m0 1v1m1 -39v1m0 0v1m0 0v1m0 0v1m0 1v1m0 0v1m0 1v1m0 1v1m0 0v1m0 2v1m0 0v1m0 0v1m0 2v1m0 1v1m0 2v1m0 1v1m0 0v1m0 0v1m0 0v1m0 1v1m0 7v1m0 2v1m1 -32v1m0 2v1m0 8v1m0 0v1m0 0v1m0 5v1m0 1v1m0 1v1m1 -36v1m0 2v1m0 12v1m0 3v1m2 -30v1m0 2v1m0 23v1m0 0v1m0 3v1m0 2v1m0 1v1m0 1v1m0 3v1m1 -38v1m0 0v1m0 0v1m0 3v1m0 0v1m0 32v1m1 -29v1m0 1v1m0 1v1m0 1v1m0 1v1m0 1v1m0 1v1m0 1v1m0 3v1m1 -31v1m0 6v1m0 1v1m0 4v1m0 1v1m0 6v1m0 4v1m0 0v1m0 3v1m0 1v1m1 0v1m0 2v1m0 0v1m0 2v1m26 -7v1m0 21v1m0 2v1m1 -38v1m0 1v1m0 2v1m0 5v1m0 6v1m0 0v1m0 1v1m0 2v1m0 1v1m0 4v1m0 1v1m0 2v1m0 5v1m1 -28v1m0 2v1m0 3v1m0 3v1m0 1v1m0 0v1m0 1v1m0 1v1m0 8v1m0 5v1m1 -49v1m0 1v1m0 1v1m0 1v1m0 2v1m0 0v1m0 5v1m0 1v1m0 2v1m0 3v1m0 1v1m0 1v1m0 2v1m0 0v1m0 1v1m0 0v1m0 2v1m0 0v1m2 -39v1m0 0v1m0 3v1m0 5v1m0 10v1m0 8v1m0 0v1m0 2v1m1 -38v1m0 19v1m0 6v1m0 2v1m0 1v1m0 2v1m1 -23v1m0 1v1m0 1v1m0 0v1m0 4v1m0 1v1m0 3v1m0 21v1m1 -41v1m0 1v1m0 1v1m0 2v1m0 1v1m0 2v1m0 1v1m0 1v1m0 2v1m0 1v1m0 2v1m0 1v1m0 2v1m0 0v1m0 2v1m0 1v1m0 2v1m2 -54v1m0 6v1m0 3v1m0 1v1m0 0v1m0 1v1m0 8v1m0 2v1m0 6v1m0 6v1m0 1v1m0 10v1m1 -38v1m0 1v1m0 2v1m0 2v1m0 2v1m0 3v1m0 1v1m0 2v1m0 4v1m0 2v1m0 2v1m0 3v1m0 2v1m1 -38v1m0 6v1m0 2v1m0 1v1m0 5v1m0 1v1m0 3v1m0 0v1m0 8v1m0 1v1m0 1v1m0 0v1m3 -35v1m0 7v1m0 0v1m0 0v1m0 3v1m0 0v1m0 3v1m0 2v1m0 0v1m0 1v1m2 -42v1m0 1v1m0 1v1m0 3v1m0 1v1m0 0v1m0 1v1m0 4v1m0 6v1m0 3v1m0 3v1m0 0v1m0 0v1m0 1v1m0 4v1m1 -43v1m0 1v1m0 2v1m0 24v1m0 16v1m0 1v1m1 -48v1m0 1v1m0 1v1m0 2v1m0 1v1m0 1v1m0 3v1m0 1v1m0 2v1m0 1v1m0 0v1m0 1v1m0 1v1m0 2v1m0 3v1m0 4v1m0 2v1m1 -36v1m0 1v1m0 0v1m0 4v1m0 1v1m0 1v1m1 -13v1m0 3v1m0 2v1m0 0v1m1 -16v1m0 2v1m0 0v1m0 0v1m0 2v1m0 8v1m0 1v1m0 0v1m0 0v1m0 1v1m0 6v1m0 1v1m0 3v1m0 1v1m0 2v1m0 1v1m0 1v1m1 -50v1m0 1v1m0 1v1m0 9v1m0 3v1m0 3v1m0 3v1m0 2v1m1 3v1m0 3v1m0 3v1m0 2v1m0 3v1m0 2v1m1 -65v1m0 2v1m0 0v1m0 2v1m0 0v1m1 6v1m0 5v1m0 1v1m1 4v1m0 0v1m0 2v1m0 2v1m0 0v1m0 1v1m0 2v1m2 -34v1m0 1v1m0 3v1m0 3v1m1 -36v1m0 4v1m0 3v1m0 2v1m0 2v1m0 1v1m0 1v1m0 0v1m0 0v1m1 -27v1m0 1v1m0 0v1m0 2v1m0 2v1m0 1v1m0 0v1m0 0v1m0 1v1m0 5v1m0 2v1m0 5v1m0 10v1m1 -49v1m0 1v1m0 0v1m0 1v1m0 22v1m0 10v1m0 1v1m0 1v1m0 1v1m0 1v1m0 3v1m0 1v1m0 5v1m1 -61v1m0 14v1m0 4v1m0 5v1m0 2v1m0 2v1m0 2v1m0 1v1m0 1v1m0 3v1m0 1v1m0 2v1m0 8v1m0 0v1m0 2v1m0 1v1m0 0v1m0 1v1m0 0v1m0 2v1m0 0v1m0 1v1m1 -35v1m0 4v1m0 7v1m0 3v1m0 1v1m1 -45v1m0 2v1m0 3v1m0 6v1m0 5v1m0 0v1m0 0v1m0 0v1m0 1v1m0 0v1m0 3v1m0 1v1m0 1v1m0 0v1m0 1v1m0 1v1m0 2v1m0 0v1m0 1v1m0 1v1m0 0v1m0 1v1m0 2v1m0 1v1m0 2v1m0 1v1m1 -72v1m0 2v1m0 0v1m0 0v1m0 4v1m0 4v1m0 3v1m0 1v1m0 1v1m0 1v1m0 1v1m0 2v1m0 18v1m1 -47v1m0 1v1m0 2v1m0 0v1m0 0v1m0 0v1m0 1v1m0 0v1m0 0v1m0 3v1m0 7v1m0 1v1m0 2v1m0 0v1m0 3v1m0 0v1m1 -5v1m0 4v1m0 4v1m0 3v1m0 4v1m0 0v1m1 -57v1m0 0v1m0 7v1m0 2v1m0 3v1m0 16v1m0 11v1m0 1v1m0 12v1m0 1v1m0 1v1m0 1v1m0 1v1m1 -65v1m0 1v1m0 2v1m0 3v1m0 6v1m0 1v1m0 5v1m0 1v1m0 6v1m0 2v1m0 3v1m0 1v1m0 1v1m0 2v1m0 1v1m0 2v1m0 2v1m0 3v1m0 4v1m0 0v1m1 -57v1m0 5v1m0 1v1m0 1v1m0 3v1m0 4v1m0 8v1m0 1v1m0 4v1m0 1v1m0 2v1m0 2v1m0 0v1m0 0v1m1 -50v1m0 1v1m0 5v1m0 2v1m0 1v1m0 2v1m0 4v1m0 3v1m0 2v1m0 2v1m0 3v1m1 8v1m1 -46v1m1 4v1m0 2v1m0 1v1m0 7v1m0 3v1m0 0v1m0 2v1m0 0v1m0 1v1m0 1v1m0 3v1m0 1v1m1 -41v1m0 1v1m0 3v1m0 0v1m0 2v1m0 1v1m0 3v1m0 2v1m0 2v1m0 1v1m0 1v1m0 1v1m0 0v1m0 0v1m0 0v1m0 4v1m0 3v1m0 4v1m0 2v1m1 -50v1m0 5v1m0 2v1m0 1v1m0 1v1m0 0v1m0 3v1m0 0v1m0 1v1m0 0v1m0 0v1m0 0v1m0 0v1m0 0v1m0 0v1m0 0v1m0 0v1m0 0v1m0 4v1m0 1v1m0 0v1m0 0v1m0 0v1m0 0v1m0 13v1m0 0v1m0 2v1m1 -67v1m0 0v1m0 12v1m0 1v1m0 0v1m0 11v1m0 1v1m0 2v1m0 1v1m0 0v1m0 0v1m0 1v1m0 1v1m0 10v1m0 0v1m0 0v1m0 1v1m0 1v1m0 3v1m0 8v1m1 -65v1m0 2v1m0 1v1m0 3v1m0 2v1m0 1v1m0 0v1m0 3v1m0 1v1m0 0v1m0 4v1m0 0v1m0 0v1m0 1v1m1 -30v1m0 2v1m0 4v1m0 22v1m0 1v1m0 1v1m0 1v1m0 7v1m0 1v1m0 1v1m1 -17v1m0 2v1m0 2v1m0 1v1m0 1v1m0 0v1m0 1v1m0 2v1m0 2v1m0 1v1m1 -65v1m0 2v1m0 4v1m0 3v1m0 2v1m0 4v1m0 2v1m0 3v1m0 10v1m1 -31v1m0 0v1m0 1v1m0 1v1m0 1v1m0 0v1m0 2v1m0 0v1m0 3v1m0 0v1m0 1v1m0 1v1m0 1v1m0 0v1m0 0v1m0 0v1m0 2v1m0 10v1m0 3v1m0 1v1m1 -30v1m0 38v1m0 1v1m0 1v1m0 3v1m1 -25v1m0 0v1m0 4v1m1 -33v1m0 1v1m0 3v1m0 1v1m0 2v1m0 3v1m0 0v1m0 1v1m0 0v1m0 0v1m0 2v1m0 1v1m0 2v1m0 5v1m0 0v1m0 1v1m0 0v1m0 1v1m0 2v1m0 1v1m0 1v1m0 0v1m1 -9v1m0 1v1m0 9v1m0 1v1m0 1v1m1 -28v1m0 1v1m0 1v1m0 0v1m0 1v1m0 5v1m0 1v1m0 3v1m0 0v1m0 4v1m0 1v1m1 -54v1m0 6v1m0 1v1m0 0v1m0 0v1m0 2v1m0 1v1m0 0v1m0 0v1m0 1v1m0 23v1m1 -37v1m0 1v1m0 1v1m0 1v1m0 6v1m0 7v1m0 4v1m0 2v1m0 11v1m0 2v1m0 0v1m0 4v1m0 2v1m1 -46v1m0 1v1m0 2v1m0 1v1m0 3v1m0 2v1m0 2v1m0 1v1m0 1v1m0 2v1m0 2v1m0 4v1m0 1v1m0 2v1m0 1v1m1 -39v1m0 2v1m0 2v1m0 11v1m0 1v1m1 -33v1m1 0v1m0 1v1m0 0v1m0 3v1m0 0v1m0 0v1m0 1v1m0 1v1m0 0v1m0 1v1m0 0v1m0 0v1m0 0v1m0 0v1m0 2v1m0 0v1m0 1v1m0 1v1m0 9v1m0 1v1m0 0v1m1 -24v1m0 1v1m0 2v1m0 0v1m0 1v1m0 0v1m0 0v1m0 0v1m0 3v1m0 0v1m0 1v1m0 0v1m0 0v1m0 0v1m0 4v1m0 3v1m0 1v1m0 2v1m1 -53v1m0 9v1m0 4v1m1 -17v1m0 5v1m0 3v1m0 3v1m0 7v1m0 3v1m0 3v1m0 5v1m0 2v1m1 -40v1m0 0v1m0 2v1m0 0v1m0 2v1m0 1v1m0 2v1m0 4v1m0 1v1m0 3v1m0 1v1m0 13v1m1 -35v1m0 1v1m0 1v1m0 0v1m0 2v1m0 2v1m0 3v1m0 1v1m0 1v1m0 1v1m0 3v1m0 1v1m0 1v1m0 2v1m0 4v1m0 2v1m0 5v1m0 1v1m1 -53v1m0 3v1m0 9v1m0 0v1m0 0v1m0 2v1m0 2v1m0 0v1m0 1v1m0 0v1m0 0v1m0 1v1m0 0v1m0 1v1m0 2v1m0 1v1m0 0v1m0 0v1m0 1v1m1 -44v1m0 12v1m0 1v1m0 13v1m0 3v1m0 1v1m0 4v1m0 10v1m2 -27v1m0 5v1m0 4v1m1 -32v1m0 2v1m0 1v1m0 2v1m0 0v1m0 1v1m0 1v1m0 2v1m0 0v1m0 0v1m0 2v1m0 3v1m0 0v1m0 1v1m0 1v1m0 1v1m0 4v1m0 3v1m0 0v1m0 4v1m1 -44v1m0 1v1m0 1v1m0 0v1m0 4v1m0 1v1m0 2v1m0 14v1m0 2v1m0 0v1m0 3v1m0 0v1m0 1v1m0 1v1m0 2v1m1 -55v1m0 2v1m0 4v1m0 3v1m0 1v1m0 1v1m0 1v1m0 7v1m0 2v1m0 0v1m0 4v1m1 -26v1m0 3v1m0 0v1m0 2v1m0 2v1m0 2v1m0 1v1m0 1v1m0 1v1m0 2v1m0 1v1m0 1v1m0 5v1m0 1v1m0 1v1m0 3v1m1 -51v1m0 1v1m0 2v1m0 1v1m0 0v1m0 0v1m0 2v1m0 2v1m0 0v1m0 0v1m0 0v1m0 2v1m0 19v1m0 0v1m0 1v1m0 1v1m1 -45v1m0 0v1m0 1v1m0 1v1m0 3v1m0 1v1m0 0v1m0 1v1m0 2v1m0 3v1m0 2v1m0 4v1m0 3v1m1 -36v1m0 2v1m0 4v1m0 0v1m0 0v1m0 1v1m0 0v1m0 2v1m0 2v1m0 1v1m0 0v1m0 2v1m0 5v1m0 2v1m0 1v1m1 -32v1m0 2v1m0 4v1m0 5v1m0 1v1m0 1v1m0 2v1m0 1v1m0 0v1m0 2v1m0 2v1m0 1v1m0 2v1m0 1v1m0 1v1m1 -31v1m0 0v1m0 0v1m0 0v1m0 0v1m0 4v1m0 2v1m0 6v1m0 0v1m0 0v1m0 1v1m0 1v1m0 0v1m0 2v1m0 0v1m0 0v1m0 2v1m1 -42v1m0 1v1m0 0v1m0 1v1m0 0v1m0 4v1m0 1v1m0 2v1m0 2v1m0 1v1m0 0v1m0 2v1m0 12v1m1 -42v1m0 6v1m0 3v1m0 2v1m0 2v1m0 1v1m0 1v1m0 1v1m0 1v1m0 1v1m0 2v1m0 4v1m0 1v1m0 3v1m1 -47v1m0 33v1m0 11v1m1 -41v1m0 4v1m0 3v1m0 1v1m0 4v1m0 32v1m1 -27v1m0 1v1m1 -16v1m0 1v1m1 -17v1m0 1v1m0 2v1m0 5v1m0 1v1m0 2v1m0 2v1m0 8v1m0 4v1m0 2v1m0 3v1m1 -43v1m0 2v1m0 0v1m0 1v1m0 0v1m0 1v1m0 2v1m0 2v1m0 2v1m0 0v1m0 5v1m0 9v1m1 -18v1m0 1v1m0 6v1m0 0v1m0 0v1m0 1v1m0 0v1m0 14v1m0 1v1m1 -45v1m0 0v1m0 6v1m0 5v1m0 2v1m0 9v1m0 0v1m0 6v1m0 1v1m1 -23v1m0 5v1m0 5v1m0 7v1m0 1v1m0 3v1m0 1v1m1 -43v1m0 2v1m0 0v1m0 0v1m0 0v1m0 2v1m1 -18v1m0 1v1m0 1v1m0 1v1m0 5v1m0 4v1m0 1v1m0 0v1m0 0v1m0 1v1m0 1v1m0 1v1m0 0v1m0 3v1m0 0v1m0 0v1m0 0v1m0 1v1m0 4v1m1 -29v1m0 1v1m0 2v1m0 0v1m0 3v1m0 2v1m0 0v1m0 4v1m0 1v1m0 2v1m0 3v1m0 0v1m0 1v1m1 -43v1m0 0v1m0 2v1m0 14v1m0 7v1m0 3v1m1 -20v1m0 1v1m0 2v1m0 1v1m1 3v1m0 1v1m1 3v1m0 4v1"/>
</g>

<g stroke="#000" stroke-width="1.11" fill="none" stroke-linecap="square">
 <path d="M175.5 510.5V72.5H1043.5V510.5Z"/>
 <path d="M1097.5 510.5V72.5H1119.5V510.5Z"/>
</g>
<g stroke="#000" stroke-width="1.11">
 <path d="M250.5 510v5.5M386.5 510v5.5M523.5 510v5.5M660.5 510v5.5M797.5 510v5.5M934.5 510v5.5"/>
 <path d="M175 72.5h-5M175 144.5h-5M175 216.5h-5M175 289.5h-5M175 361.5h-5M175 434.5h-5M175 506.5h-5"/>
 <path d="M1120 454.5h5M1120 363.5h5M1120 273.5h5M1120 182.5h5M1120 92.5h5"/>
</g>

<g transform="scale(1.3888889)" fill="#000" style="font-family:'DejaVu Sans','Liberation Sans',sans-serif">
 <g font-size="6px">
  <text transform="translate(174.742 390.37) rotate(-45)">01/13</text>
  <text transform="translate(273.254 390.37) rotate(-45)">01/18</text>
  <text transform="translate(371.766 390.37) rotate(-45)">01/23</text>
  <text transform="translate(470.278 390.37) rotate(-45)">01/28</text>
  <text transform="translate(568.790 390.37) rotate(-45)">02/02</text>
  <text transform="translate(667.302 390.37) rotate(-45)">02/07</text>
 </g>
 <text font-size="12px" text-anchor="middle" transform="translate(438.70 405.09) scale(0.97 1.06)">Date</text>
 <g font-size="10px" text-anchor="end">
  <text x="119" y="55.639219">0</text>
  <text x="119" y="107.851139">5</text>
  <text x="119" y="160.06306">10</text>
  <text x="119" y="212.27498">15</text>
  <text x="119" y="264.486901">20</text>
  <text x="119" y="316.698821">25</text>
  <text x="119" y="368.910742">30</text>
 </g>
 <text font-size="10px" text-anchor="middle" transform="translate(99.475 210.67) rotate(-90)">Depth (m)</text>
 <text font-size="12px" transform="translate(338.95 30.93) scale(1 1.1)">angus 2024-01-11 to 2024-02-09</text>
 <text font-size="12px" transform="translate(415.80 45.84) scale(1 1.1)">Sigma-t</text>
 <g font-size="10px">
  <text x="812.788" y="330.31">23</text>
  <text x="812.788" y="265.15">24</text>
  <text x="812.788" y="200.00">25</text>
  <text x="812.788" y="134.84">26</text>
  <text x="812.788" y="69.68">27</text>
 </g>
</g>

<g>
 <rect x="175" y="471" width="225" height="39" fill="#970303"/>
 <g fill="#fff">
  <path d="M191.3 479.2a9.9 7.2 0 0 1 19.8 0h-1.7a8.2 5.6 0 0 0 -16.4 0z"/>
  <path d="M191 479h21.4v2.6h-21.4z"/>
  <path d="M191.8 481.5h19.8v20.6h-19.8z M195.2 483.4v17h3.3v-17z M204.9 483.4v17h3.3v-17z" fill-rule="evenodd"/>
  <path d="M190.1 501.8h22.7v3h-22.7z"/>
 </g>
 <text x="222.3" y="477.9" fill="#f3e4e4" font-size="7.3px" font-weight="bold" letter-spacing="0.4" style="font-family:'Liberation Serif',serif">THE UNIVERSITY OF</text>
 <text x="217.4" y="504.9" fill="#fff" stroke="#fff" stroke-width="0.6" font-size="39px" style="font-family:'Liberation Serif',serif" textLength="168" lengthAdjust="spacingAndGlyphs">GEORGIA</text>
</g>
</svg>
</body></html>
